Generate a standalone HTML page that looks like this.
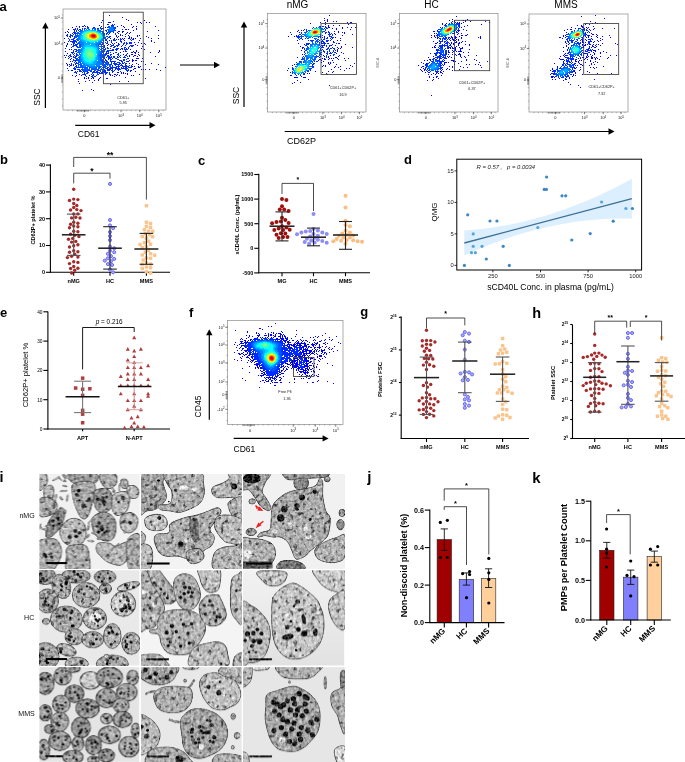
<!DOCTYPE html>
<html><head><meta charset="utf-8"><style>
html,body{margin:0;padding:0;background:#fff;}
svg{display:block;will-change:transform;font-family:"Liberation Sans", sans-serif;}
</style></head><body>
<svg width="685" height="762" viewBox="0 0 685 762">
<defs><filter id="fblur" x="-5%" y="-5%" width="110%" height="110%"><feGaussianBlur stdDeviation="0.8"/></filter></defs>
<text x="-0.6" y="10.6" font-size="13" font-weight="bold">a</text>
<rect x="63.0" y="9.0" width="103.0" height="101.0" fill="#fff" stroke="#8a8a8a" stroke-width="0.7"/>
<line x1="77.4" y1="110.0" x2="77.4" y2="111.6" stroke="#222" stroke-width="0.5"/>
<line x1="78.8" y1="110.0" x2="78.8" y2="111.6" stroke="#222" stroke-width="0.5"/>
<line x1="80.2" y1="110.0" x2="80.2" y2="111.6" stroke="#222" stroke-width="0.5"/>
<line x1="81.6" y1="110.0" x2="81.6" y2="111.6" stroke="#222" stroke-width="0.5"/>
<line x1="83.0" y1="110.0" x2="83.0" y2="111.6" stroke="#222" stroke-width="0.5"/>
<line x1="84.4" y1="110.0" x2="84.4" y2="111.6" stroke="#222" stroke-width="0.5"/>
<line x1="85.8" y1="110.0" x2="85.8" y2="111.6" stroke="#222" stroke-width="0.5"/>
<line x1="87.2" y1="110.0" x2="87.2" y2="111.6" stroke="#222" stroke-width="0.5"/>
<line x1="88.6" y1="110.0" x2="88.6" y2="111.6" stroke="#222" stroke-width="0.5"/>
<line x1="61.2" y1="75.0" x2="63.0" y2="75.0" stroke="#222" stroke-width="0.5"/>
<line x1="61.2" y1="76.2" x2="63.0" y2="76.2" stroke="#222" stroke-width="0.5"/>
<line x1="61.2" y1="77.4" x2="63.0" y2="77.4" stroke="#222" stroke-width="0.5"/>
<line x1="61.2" y1="78.6" x2="63.0" y2="78.6" stroke="#222" stroke-width="0.5"/>
<line x1="61.2" y1="79.8" x2="63.0" y2="79.8" stroke="#222" stroke-width="0.5"/>
<line x1="61.2" y1="81.0" x2="63.0" y2="81.0" stroke="#222" stroke-width="0.5"/>
<line x1="61.2" y1="82.2" x2="63.0" y2="82.2" stroke="#222" stroke-width="0.5"/>
<line x1="60.8" y1="18.0" x2="63.0" y2="18.0" stroke="#333" stroke-width="0.6"/>
<text x="60.0" y="19.3" font-size="3.9" text-anchor="end" fill="#111">10<tspan font-size="2.8" dy="-1.5">5</tspan></text>
<line x1="60.8" y1="44.0" x2="63.0" y2="44.0" stroke="#333" stroke-width="0.6"/>
<text x="60.0" y="45.3" font-size="3.9" text-anchor="end" fill="#111">10<tspan font-size="2.8" dy="-1.5">4</tspan></text>
<line x1="60.8" y1="78.0" x2="63.0" y2="78.0" stroke="#333" stroke-width="0.6"/>
<text x="60.0" y="79.3" font-size="3.9" text-anchor="end" fill="#111">0</text>
<line x1="84.4" y1="110.0" x2="84.4" y2="112.2" stroke="#333" stroke-width="0.6"/>
<text x="84.4" y="117.2" font-size="3.9" text-anchor="middle" fill="#111">0</text>
<line x1="121.0" y1="110.0" x2="121.0" y2="112.2" stroke="#333" stroke-width="0.6"/>
<text x="121.0" y="117.2" font-size="3.9" text-anchor="middle" fill="#111">10<tspan font-size="2.8" dy="-1.5">3</tspan></text>
<line x1="139.7" y1="110.0" x2="139.7" y2="112.2" stroke="#333" stroke-width="0.6"/>
<text x="139.7" y="117.2" font-size="3.9" text-anchor="middle" fill="#111">10<tspan font-size="2.8" dy="-1.5">4</tspan></text>
<line x1="158.8" y1="110.0" x2="158.8" y2="112.2" stroke="#333" stroke-width="0.6"/>
<text x="158.8" y="117.2" font-size="3.9" text-anchor="middle" fill="#111">10<tspan font-size="2.8" dy="-1.5">5</tspan></text>
<line x1="61.8" y1="15.0" x2="63.0" y2="15.0" stroke="#555" stroke-width="0.4"/>
<line x1="61.8" y1="22.0" x2="63.0" y2="22.0" stroke="#555" stroke-width="0.4"/>
<line x1="61.8" y1="29.0" x2="63.0" y2="29.0" stroke="#555" stroke-width="0.4"/>
<line x1="61.8" y1="36.0" x2="63.0" y2="36.0" stroke="#555" stroke-width="0.4"/>
<line x1="61.8" y1="43.0" x2="63.0" y2="43.0" stroke="#555" stroke-width="0.4"/>
<line x1="61.8" y1="50.0" x2="63.0" y2="50.0" stroke="#555" stroke-width="0.4"/>
<line x1="61.8" y1="57.0" x2="63.0" y2="57.0" stroke="#555" stroke-width="0.4"/>
<line x1="61.8" y1="64.0" x2="63.0" y2="64.0" stroke="#555" stroke-width="0.4"/>
<line x1="61.8" y1="71.0" x2="63.0" y2="71.0" stroke="#555" stroke-width="0.4"/>
<line x1="61.8" y1="78.0" x2="63.0" y2="78.0" stroke="#555" stroke-width="0.4"/>
<line x1="61.8" y1="85.0" x2="63.0" y2="85.0" stroke="#555" stroke-width="0.4"/>
<line x1="61.8" y1="92.0" x2="63.0" y2="92.0" stroke="#555" stroke-width="0.4"/>
<line x1="61.8" y1="99.0" x2="63.0" y2="99.0" stroke="#555" stroke-width="0.4"/>
<line x1="61.8" y1="106.0" x2="63.0" y2="106.0" stroke="#555" stroke-width="0.4"/>
<line x1="68.0" y1="110.0" x2="68.0" y2="111.2" stroke="#555" stroke-width="0.4"/>
<line x1="72.5" y1="110.0" x2="72.5" y2="111.2" stroke="#555" stroke-width="0.4"/>
<line x1="77.0" y1="110.0" x2="77.0" y2="111.2" stroke="#555" stroke-width="0.4"/>
<line x1="81.6" y1="110.0" x2="81.6" y2="111.2" stroke="#555" stroke-width="0.4"/>
<line x1="86.1" y1="110.0" x2="86.1" y2="111.2" stroke="#555" stroke-width="0.4"/>
<line x1="90.6" y1="110.0" x2="90.6" y2="111.2" stroke="#555" stroke-width="0.4"/>
<line x1="95.1" y1="110.0" x2="95.1" y2="111.2" stroke="#555" stroke-width="0.4"/>
<line x1="99.7" y1="110.0" x2="99.7" y2="111.2" stroke="#555" stroke-width="0.4"/>
<line x1="104.2" y1="110.0" x2="104.2" y2="111.2" stroke="#555" stroke-width="0.4"/>
<line x1="108.7" y1="110.0" x2="108.7" y2="111.2" stroke="#555" stroke-width="0.4"/>
<line x1="113.2" y1="110.0" x2="113.2" y2="111.2" stroke="#555" stroke-width="0.4"/>
<line x1="117.8" y1="110.0" x2="117.8" y2="111.2" stroke="#555" stroke-width="0.4"/>
<line x1="122.3" y1="110.0" x2="122.3" y2="111.2" stroke="#555" stroke-width="0.4"/>
<line x1="126.8" y1="110.0" x2="126.8" y2="111.2" stroke="#555" stroke-width="0.4"/>
<line x1="131.3" y1="110.0" x2="131.3" y2="111.2" stroke="#555" stroke-width="0.4"/>
<line x1="135.9" y1="110.0" x2="135.9" y2="111.2" stroke="#555" stroke-width="0.4"/>
<line x1="140.4" y1="110.0" x2="140.4" y2="111.2" stroke="#555" stroke-width="0.4"/>
<line x1="144.9" y1="110.0" x2="144.9" y2="111.2" stroke="#555" stroke-width="0.4"/>
<line x1="149.4" y1="110.0" x2="149.4" y2="111.2" stroke="#555" stroke-width="0.4"/>
<line x1="154.0" y1="110.0" x2="154.0" y2="111.2" stroke="#555" stroke-width="0.4"/>
<line x1="158.5" y1="110.0" x2="158.5" y2="111.2" stroke="#555" stroke-width="0.4"/>
<line x1="163.0" y1="110.0" x2="163.0" y2="111.2" stroke="#555" stroke-width="0.4"/>
<g shape-rendering="crispEdges"><path fill="#0000ff" d="M109 15h1v1h-1zM122 17h1v1h-1zM126 19h1v1h-1zM102 20h1v1h-1zM128 20h1v1h-1zM144 20h1v1h-1zM113 21h1v1h-1zM101 22h1v1h-1zM108 22h3v1h-3zM137 22h1v1h-1zM140 22h1v1h-1zM146 22h1v1h-1zM149 22h1v1h-1zM141 23h1v1h-1zM107 24h1v1h-1zM131 24h1v1h-1zM84 25h1v1h-1zM99 25h1v1h-1zM121 25h1v1h-1zM76 26h1v1h-1zM79 26h1v1h-1zM82 26h1v1h-1zM101 26h1v1h-1zM117 26h1v1h-1zM123 26h1v1h-1zM133 26h1v1h-1zM136 26h1v1h-1zM155 26h1v1h-1zM72 27h1v1h-1zM105 27h1v1h-1zM124 27h1v1h-1zM132 27h1v1h-1zM103 28h1v1h-1zM136 28h1v1h-1zM68 29h1v1h-1zM73 29h1v1h-1zM122 29h1v1h-1zM125 29h2v1h-2zM128 29h1v1h-1zM136 29h1v1h-1zM133 30h1v1h-1zM158 30h1v1h-1zM67 31h1v1h-1zM118 31h2v1h-2zM122 31h2v1h-2zM147 31h1v1h-1zM65 32h1v1h-1zM68 32h1v1h-1zM117 32h1v1h-1zM122 32h1v1h-1zM127 32h1v1h-1zM130 32h1v1h-1zM118 33h1v1h-1zM126 33h1v1h-1zM129 33h1v1h-1zM67 34h1v1h-1zM120 34h1v1h-1zM125 34h1v1h-1zM66 35h1v1h-1zM120 35h1v1h-1zM122 35h1v1h-1zM128 35h1v1h-1zM137 35h1v1h-1zM139 35h1v1h-1zM158 35h1v1h-1zM110 36h1v1h-1zM116 36h1v1h-1zM118 36h1v1h-1zM125 36h1v1h-1zM129 36h1v1h-1zM137 36h1v1h-1zM146 36h1v1h-1zM117 37h1v1h-1zM129 37h1v1h-1zM131 37h1v1h-1zM148 37h1v1h-1zM64 38h1v1h-1zM110 38h1v1h-1zM114 38h1v1h-1zM122 38h1v1h-1zM124 38h1v1h-1zM128 38h2v1h-2zM133 38h1v1h-1zM135 38h1v1h-1zM140 38h1v1h-1zM151 38h1v1h-1zM158 38h1v1h-1zM116 39h1v1h-1zM118 39h1v1h-1zM123 39h1v1h-1zM133 39h1v1h-1zM109 40h1v1h-1zM124 40h1v1h-1zM139 40h1v1h-1zM151 40h1v1h-1zM68 41h1v1h-1zM151 41h1v1h-1zM64 42h1v1h-1zM116 42h1v1h-1zM134 42h1v1h-1zM138 42h1v1h-1zM154 42h1v1h-1zM67 43h1v1h-1zM118 43h1v1h-1zM141 43h1v1h-1zM144 43h1v1h-1zM67 44h1v1h-1zM108 44h1v1h-1zM135 44h1v1h-1zM145 44h1v1h-1zM66 45h1v1h-1zM107 45h1v1h-1zM137 45h1v1h-1zM66 46h1v1h-1zM121 46h1v1h-1zM129 46h1v1h-1zM142 46h1v1h-1zM65 48h1v1h-1zM121 48h1v1h-1zM141 48h1v1h-1zM69 49h1v1h-1zM71 49h1v1h-1zM120 49h1v1h-1zM130 49h1v1h-1zM144 49h1v1h-1zM136 50h1v1h-1zM159 50h1v1h-1zM65 51h1v1h-1zM123 51h1v1h-1zM133 51h1v1h-1zM136 51h1v1h-1zM159 51h1v1h-1zM71 52h1v1h-1zM120 52h1v1h-1zM131 52h2v1h-2zM134 52h2v1h-2zM138 52h1v1h-1zM150 52h1v1h-1zM158 52h1v1h-1zM67 53h1v1h-1zM113 53h1v1h-1zM127 53h1v1h-1zM135 53h1v1h-1zM123 54h1v1h-1zM131 54h2v1h-2zM138 54h1v1h-1zM64 55h1v1h-1zM66 55h1v1h-1zM129 55h1v1h-1zM134 55h2v1h-2zM139 55h1v1h-1zM68 56h1v1h-1zM129 56h1v1h-1zM133 56h1v1h-1zM137 56h1v1h-1zM155 56h1v1h-1zM65 57h1v1h-1zM68 58h1v1h-1zM128 58h1v1h-1zM136 58h3v1h-3zM142 58h1v1h-1zM70 59h1v1h-1zM132 59h1v1h-1zM129 60h1v1h-1zM132 60h2v1h-2zM135 60h2v1h-2zM70 61h1v1h-1zM128 61h1v1h-1zM132 61h1v1h-1zM141 61h1v1h-1zM143 61h1v1h-1zM66 63h1v1h-1zM129 63h1v1h-1zM136 63h1v1h-1zM151 63h1v1h-1zM67 64h1v1h-1zM69 64h1v1h-1zM132 64h1v1h-1zM138 64h1v1h-1zM145 64h1v1h-1zM158 64h1v1h-1zM67 65h1v1h-1zM70 65h1v1h-1zM69 66h1v1h-1zM132 66h1v1h-1zM134 66h1v1h-1zM138 66h1v1h-1zM140 66h1v1h-1zM138 67h2v1h-2zM165 67h1v1h-1zM67 68h1v1h-1zM134 68h2v1h-2zM133 69h1v1h-1zM141 69h1v1h-1zM143 69h1v1h-1zM145 69h1v1h-1zM149 69h1v1h-1zM156 69h1v1h-1zM68 70h1v1h-1zM71 70h2v1h-2zM131 70h1v1h-1zM160 70h1v1h-1zM130 71h1v1h-1zM135 71h1v1h-1zM117 72h2v1h-2zM121 72h1v1h-1zM123 72h1v1h-1zM121 73h1v1h-1zM123 73h1v1h-1zM125 73h1v1h-1zM127 73h1v1h-1zM79 74h1v1h-1zM114 74h2v1h-2zM117 74h1v1h-1zM127 74h1v1h-1zM139 74h1v1h-1zM72 75h1v1h-1zM76 75h1v1h-1zM81 75h1v1h-1zM89 75h1v1h-1zM110 75h1v1h-1zM112 75h1v1h-1zM116 75h1v1h-1zM119 75h1v1h-1zM131 75h1v1h-1zM133 75h1v1h-1zM75 76h1v1h-1zM114 76h1v1h-1zM84 77h1v1h-1zM88 77h1v1h-1zM100 77h1v1h-1zM125 77h1v1h-1zM84 78h1v1h-1zM86 78h1v1h-1zM88 78h1v1h-1zM91 78h1v1h-1zM93 78h1v1h-1zM99 78h1v1h-1zM106 78h2v1h-2zM145 78h1v1h-1zM78 79h1v1h-1zM98 79h1v1h-1zM89 80h1v1h-1zM94 80h1v1h-1zM98 80h1v1h-1zM78 81h1v1h-1zM85 81h1v1h-1zM119 81h1v1h-1zM128 81h1v1h-1zM92 82h1v1h-1zM79 83h1v1h-1zM110 84h1v1h-1zM91 89h1v1h-1zM82 90h1v1h-1zM93 90h1v1h-1z"/><path fill="#002aff" d="M108 24h1v1h-1zM112 24h1v1h-1zM114 24h1v1h-1zM111 25h3v1h-3zM83 26h1v1h-1zM85 26h1v1h-1zM87 26h1v1h-1zM108 26h1v1h-1zM79 27h1v1h-1zM87 27h2v1h-2zM93 27h2v1h-2zM100 27h1v1h-1zM107 27h1v1h-1zM115 27h1v1h-1zM75 28h1v1h-1zM77 28h1v1h-1zM82 28h1v1h-1zM84 28h2v1h-2zM97 28h2v1h-2zM100 28h3v1h-3zM115 28h1v1h-1zM74 29h2v1h-2zM77 29h1v1h-1zM79 29h2v1h-2zM101 29h1v1h-1zM74 30h1v1h-1zM76 30h1v1h-1zM78 30h1v1h-1zM105 30h2v1h-2zM115 30h1v1h-1zM74 31h1v1h-1zM76 31h1v1h-1zM106 31h1v1h-1zM73 32h3v1h-3zM107 32h1v1h-1zM113 32h1v1h-1zM72 33h1v1h-1zM74 33h3v1h-3zM106 33h2v1h-2zM109 33h1v1h-1zM115 33h1v1h-1zM70 34h1v1h-1zM73 34h1v1h-1zM75 34h1v1h-1zM106 34h1v1h-1zM108 34h1v1h-1zM115 34h1v1h-1zM67 35h1v1h-1zM70 35h3v1h-3zM116 35h1v1h-1zM67 36h1v1h-1zM69 36h2v1h-2zM72 36h1v1h-1zM74 36h1v1h-1zM106 36h2v1h-2zM109 36h1v1h-1zM70 37h1v1h-1zM74 37h1v1h-1zM108 37h2v1h-2zM68 38h1v1h-1zM73 38h2v1h-2zM107 38h1v1h-1zM120 38h1v1h-1zM131 38h1v1h-1zM69 39h1v1h-1zM71 39h3v1h-3zM105 39h2v1h-2zM113 39h2v1h-2zM120 39h2v1h-2zM130 39h1v1h-1zM132 39h1v1h-1zM69 40h1v1h-1zM73 40h3v1h-3zM105 40h2v1h-2zM111 40h1v1h-1zM113 40h3v1h-3zM120 40h1v1h-1zM131 40h1v1h-1zM70 41h7v1h-7zM107 41h1v1h-1zM111 41h1v1h-1zM120 41h2v1h-2zM72 42h3v1h-3zM76 42h1v1h-1zM105 42h1v1h-1zM107 42h1v1h-1zM111 42h1v1h-1zM121 42h1v1h-1zM124 42h1v1h-1zM126 42h1v1h-1zM129 42h3v1h-3zM73 43h2v1h-2zM103 43h1v1h-1zM106 43h2v1h-2zM112 43h1v1h-1zM114 43h1v1h-1zM123 43h2v1h-2zM126 43h2v1h-2zM129 43h3v1h-3zM71 44h1v1h-1zM73 44h1v1h-1zM75 44h3v1h-3zM102 44h1v1h-1zM110 44h1v1h-1zM113 44h1v1h-1zM118 44h2v1h-2zM123 44h1v1h-1zM126 44h1v1h-1zM73 45h4v1h-4zM104 45h1v1h-1zM111 45h3v1h-3zM116 45h3v1h-3zM122 45h1v1h-1zM125 45h1v1h-1zM130 45h4v1h-4zM72 46h2v1h-2zM76 46h2v1h-2zM102 46h1v1h-1zM104 46h1v1h-1zM110 46h2v1h-2zM114 46h2v1h-2zM117 46h1v1h-1zM131 46h2v1h-2zM71 47h1v1h-1zM77 47h2v1h-2zM103 47h2v1h-2zM107 47h1v1h-1zM113 47h2v1h-2zM124 47h2v1h-2zM128 47h1v1h-1zM105 48h1v1h-1zM107 48h2v1h-2zM110 48h1v1h-1zM116 48h3v1h-3zM122 48h1v1h-1zM124 48h1v1h-1zM126 48h1v1h-1zM128 48h1v1h-1zM74 49h3v1h-3zM104 49h2v1h-2zM112 49h2v1h-2zM115 49h3v1h-3zM122 49h1v1h-1zM124 49h4v1h-4zM73 50h1v1h-1zM76 50h1v1h-1zM107 50h7v1h-7zM116 50h1v1h-1zM125 50h1v1h-1zM73 51h1v1h-1zM75 51h2v1h-2zM106 51h3v1h-3zM125 51h2v1h-2zM72 52h2v1h-2zM106 52h1v1h-1zM108 52h1v1h-1zM110 52h1v1h-1zM115 52h2v1h-2zM72 53h1v1h-1zM74 53h1v1h-1zM76 53h1v1h-1zM106 53h3v1h-3zM118 53h1v1h-1zM70 54h1v1h-1zM73 54h1v1h-1zM76 54h1v1h-1zM105 54h2v1h-2zM110 54h2v1h-2zM117 54h2v1h-2zM126 54h1v1h-1zM69 55h2v1h-2zM74 55h1v1h-1zM76 55h1v1h-1zM105 55h1v1h-1zM107 55h2v1h-2zM110 55h1v1h-1zM118 55h1v1h-1zM120 55h1v1h-1zM125 55h2v1h-2zM70 56h2v1h-2zM73 56h1v1h-1zM75 56h2v1h-2zM107 56h3v1h-3zM111 56h1v1h-1zM113 56h2v1h-2zM117 56h1v1h-1zM119 56h1v1h-1zM124 56h1v1h-1zM127 56h1v1h-1zM69 57h1v1h-1zM73 57h3v1h-3zM106 57h1v1h-1zM108 57h4v1h-4zM113 57h2v1h-2zM117 57h2v1h-2zM120 57h1v1h-1zM123 57h3v1h-3zM71 58h1v1h-1zM75 58h2v1h-2zM104 58h1v1h-1zM108 58h3v1h-3zM112 58h1v1h-1zM115 58h2v1h-2zM127 58h1v1h-1zM73 59h1v1h-1zM76 59h1v1h-1zM105 59h1v1h-1zM108 59h1v1h-1zM110 59h2v1h-2zM117 59h2v1h-2zM123 59h2v1h-2zM126 59h1v1h-1zM73 60h4v1h-4zM105 60h2v1h-2zM110 60h1v1h-1zM119 60h3v1h-3zM123 60h2v1h-2zM72 61h1v1h-1zM75 61h1v1h-1zM106 61h2v1h-2zM110 61h6v1h-6zM121 61h2v1h-2zM126 61h2v1h-2zM74 62h1v1h-1zM76 62h1v1h-1zM108 62h1v1h-1zM111 62h1v1h-1zM114 62h1v1h-1zM117 62h3v1h-3zM122 62h1v1h-1zM124 62h1v1h-1zM71 63h1v1h-1zM75 63h3v1h-3zM111 63h1v1h-1zM113 63h4v1h-4zM119 63h2v1h-2zM122 63h2v1h-2zM125 63h2v1h-2zM71 64h1v1h-1zM73 64h1v1h-1zM75 64h1v1h-1zM110 64h2v1h-2zM114 64h6v1h-6zM121 64h1v1h-1zM125 64h1v1h-1zM71 65h1v1h-1zM73 65h1v1h-1zM76 65h1v1h-1zM112 65h1v1h-1zM115 65h1v1h-1zM118 65h1v1h-1zM120 65h3v1h-3zM125 65h2v1h-2zM129 65h1v1h-1zM131 65h1v1h-1zM75 66h2v1h-2zM112 66h1v1h-1zM116 66h4v1h-4zM122 66h7v1h-7zM131 66h1v1h-1zM74 67h1v1h-1zM76 67h4v1h-4zM107 67h2v1h-2zM110 67h7v1h-7zM118 67h1v1h-1zM121 67h1v1h-1zM123 67h1v1h-1zM125 67h2v1h-2zM128 67h4v1h-4zM73 68h3v1h-3zM106 68h2v1h-2zM109 68h4v1h-4zM115 68h5v1h-5zM121 68h7v1h-7zM74 69h2v1h-2zM77 69h3v1h-3zM81 69h1v1h-1zM107 69h4v1h-4zM112 69h1v1h-1zM115 69h1v1h-1zM117 69h4v1h-4zM125 69h2v1h-2zM128 69h1v1h-1zM79 70h2v1h-2zM82 70h1v1h-1zM98 70h2v1h-2zM104 70h2v1h-2zM107 70h3v1h-3zM111 70h2v1h-2zM114 70h1v1h-1zM118 70h1v1h-1zM126 70h3v1h-3zM130 70h1v1h-1zM75 71h1v1h-1zM77 71h1v1h-1zM79 71h3v1h-3zM83 71h1v1h-1zM87 71h1v1h-1zM90 71h2v1h-2zM93 71h2v1h-2zM96 71h2v1h-2zM100 71h1v1h-1zM102 71h4v1h-4zM112 71h2v1h-2zM120 71h1v1h-1zM127 71h1v1h-1zM74 72h3v1h-3zM82 72h1v1h-1zM84 72h1v1h-1zM87 72h2v1h-2zM92 72h8v1h-8zM101 72h2v1h-2zM104 72h4v1h-4zM109 72h1v1h-1zM112 72h1v1h-1zM76 73h1v1h-1zM84 73h1v1h-1zM86 73h2v1h-2zM92 73h1v1h-1zM97 73h1v1h-1zM99 73h4v1h-4zM105 73h2v1h-2zM109 73h1v1h-1zM82 74h4v1h-4zM91 74h1v1h-1zM93 74h1v1h-1zM97 74h2v1h-2zM105 74h1v1h-1zM109 74h2v1h-2zM85 75h1v1h-1zM92 75h2v1h-2zM96 75h1v1h-1zM86 76h1v1h-1zM91 76h2v1h-2zM94 76h2v1h-2zM92 77h2v1h-2z"/><path fill="#0055ff" d="M109 26h1v1h-1zM111 26h3v1h-3zM108 27h2v1h-2zM113 27h2v1h-2zM87 28h2v1h-2zM92 28h4v1h-4zM113 28h2v1h-2zM82 29h1v1h-1zM84 29h1v1h-1zM95 29h1v1h-1zM97 29h2v1h-2zM107 29h2v1h-2zM114 29h1v1h-1zM80 30h2v1h-2zM98 30h3v1h-3zM108 30h1v1h-1zM113 30h2v1h-2zM79 31h2v1h-2zM101 31h2v1h-2zM108 31h6v1h-6zM77 32h2v1h-2zM102 32h2v1h-2zM108 32h3v1h-3zM77 33h3v1h-3zM103 33h2v1h-2zM77 34h1v1h-1zM104 34h1v1h-1zM75 35h4v1h-4zM104 35h1v1h-1zM75 36h3v1h-3zM75 37h2v1h-2zM104 37h2v1h-2zM77 38h1v1h-1zM104 38h2v1h-2zM76 39h2v1h-2zM77 40h2v1h-2zM103 40h1v1h-1zM79 41h1v1h-1zM103 41h1v1h-1zM78 42h2v1h-2zM101 42h2v1h-2zM77 43h3v1h-3zM99 43h2v1h-2zM102 43h1v1h-1zM79 44h2v1h-2zM98 44h4v1h-4zM79 45h2v1h-2zM98 45h1v1h-1zM101 45h1v1h-1zM79 46h2v1h-2zM99 46h3v1h-3zM79 47h2v1h-2zM101 47h1v1h-1zM99 48h1v1h-1zM101 48h2v1h-2zM78 49h2v1h-2zM100 49h2v1h-2zM103 49h1v1h-1zM77 50h2v1h-2zM101 50h2v1h-2zM104 50h1v1h-1zM78 51h1v1h-1zM101 51h4v1h-4zM77 52h2v1h-2zM101 52h3v1h-3zM79 53h1v1h-1zM100 53h2v1h-2zM103 53h1v1h-1zM105 53h1v1h-1zM77 54h1v1h-1zM79 54h1v1h-1zM100 54h3v1h-3zM104 54h1v1h-1zM77 55h2v1h-2zM99 55h6v1h-6zM79 56h1v1h-1zM100 56h5v1h-5zM78 57h2v1h-2zM100 57h5v1h-5zM77 58h1v1h-1zM79 58h1v1h-1zM100 58h2v1h-2zM103 58h1v1h-1zM77 59h3v1h-3zM100 59h3v1h-3zM77 60h3v1h-3zM100 60h4v1h-4zM78 61h2v1h-2zM101 61h4v1h-4zM78 62h3v1h-3zM102 62h6v1h-6zM78 63h1v1h-1zM80 63h1v1h-1zM102 63h2v1h-2zM105 63h4v1h-4zM78 64h4v1h-4zM102 64h1v1h-1zM104 64h6v1h-6zM78 65h1v1h-1zM80 65h2v1h-2zM102 65h4v1h-4zM107 65h1v1h-1zM109 65h2v1h-2zM78 66h1v1h-1zM80 66h3v1h-3zM99 66h3v1h-3zM103 66h4v1h-4zM109 66h2v1h-2zM80 67h8v1h-8zM89 67h2v1h-2zM96 67h1v1h-1zM98 67h3v1h-3zM102 67h4v1h-4zM82 68h1v1h-1zM84 68h4v1h-4zM89 68h1v1h-1zM91 68h6v1h-6zM98 68h2v1h-2zM101 68h1v1h-1zM103 68h1v1h-1zM105 68h1v1h-1zM82 69h8v1h-8zM91 69h8v1h-8zM100 69h5v1h-5zM83 70h9v1h-9zM94 70h2v1h-2zM97 70h1v1h-1zM100 70h1v1h-1zM102 70h1v1h-1zM84 71h3v1h-3z"/><path fill="#007fff" d="M110 27h3v1h-3zM109 28h4v1h-4zM86 29h1v1h-1zM88 29h2v1h-2zM92 29h1v1h-1zM94 29h1v1h-1zM109 29h5v1h-5zM82 30h1v1h-1zM84 30h1v1h-1zM97 30h1v1h-1zM109 30h4v1h-4zM81 31h2v1h-2zM99 31h2v1h-2zM80 32h2v1h-2zM80 33h1v1h-1zM102 33h1v1h-1zM79 34h2v1h-2zM103 34h1v1h-1zM79 35h1v1h-1zM103 35h1v1h-1zM78 36h2v1h-2zM104 36h1v1h-1zM78 37h2v1h-2zM103 37h1v1h-1zM78 38h2v1h-2zM103 38h1v1h-1zM78 39h2v1h-2zM102 39h1v1h-1zM80 40h1v1h-1zM102 40h1v1h-1zM80 41h2v1h-2zM100 41h2v1h-2zM80 42h4v1h-4zM98 42h3v1h-3zM80 43h4v1h-4zM96 43h3v1h-3zM81 44h3v1h-3zM95 44h3v1h-3zM81 45h2v1h-2zM96 45h2v1h-2zM81 46h2v1h-2zM97 46h2v1h-2zM82 47h1v1h-1zM98 47h1v1h-1zM81 48h1v1h-1zM98 48h1v1h-1zM80 49h2v1h-2zM98 49h1v1h-1zM79 50h3v1h-3zM99 50h1v1h-1zM79 51h2v1h-2zM99 51h2v1h-2zM79 52h2v1h-2zM98 52h3v1h-3zM98 53h2v1h-2zM80 54h1v1h-1zM98 54h2v1h-2zM80 55h1v1h-1zM98 55h1v1h-1zM80 56h1v1h-1zM98 56h2v1h-2zM80 57h1v1h-1zM98 57h2v1h-2zM80 58h1v1h-1zM98 58h2v1h-2zM80 59h2v1h-2zM98 59h2v1h-2zM80 60h2v1h-2zM98 60h2v1h-2zM80 61h2v1h-2zM97 61h4v1h-4zM82 62h1v1h-1zM97 62h5v1h-5zM81 63h3v1h-3zM96 63h6v1h-6zM83 64h2v1h-2zM95 64h7v1h-7zM82 65h7v1h-7zM96 65h4v1h-4zM83 66h3v1h-3zM87 66h12v1h-12zM91 67h5v1h-5z"/><path fill="#00aaff" d="M85 30h3v1h-3zM92 30h4v1h-4zM83 31h1v1h-1zM97 31h2v1h-2zM82 32h1v1h-1zM99 32h2v1h-2zM81 33h1v1h-1zM101 33h1v1h-1zM81 34h1v1h-1zM102 34h1v1h-1zM80 35h2v1h-2zM102 35h1v1h-1zM80 36h1v1h-1zM103 36h1v1h-1zM80 37h1v1h-1zM80 38h1v1h-1zM102 38h1v1h-1zM80 39h2v1h-2zM101 39h1v1h-1zM81 40h3v1h-3zM100 40h2v1h-2zM82 41h3v1h-3zM98 41h2v1h-2zM84 42h2v1h-2zM87 42h3v1h-3zM95 42h3v1h-3zM84 43h12v1h-12zM84 44h6v1h-6zM91 44h4v1h-4zM83 45h3v1h-3zM90 45h6v1h-6zM83 46h2v1h-2zM94 46h3v1h-3zM83 47h1v1h-1zM96 47h2v1h-2zM82 48h2v1h-2zM97 48h1v1h-1zM82 49h1v1h-1zM97 49h1v1h-1zM82 50h1v1h-1zM97 50h2v1h-2zM81 51h2v1h-2zM97 51h2v1h-2zM81 52h1v1h-1zM97 52h1v1h-1zM81 53h1v1h-1zM97 53h1v1h-1zM81 54h1v1h-1zM97 54h1v1h-1zM81 55h1v1h-1zM97 55h1v1h-1zM81 56h1v1h-1zM97 56h1v1h-1zM81 57h1v1h-1zM96 57h2v1h-2zM81 58h2v1h-2zM96 58h2v1h-2zM82 59h1v1h-1zM96 59h2v1h-2zM82 60h1v1h-1zM95 60h2v1h-2zM82 61h2v1h-2zM94 61h3v1h-3zM83 62h2v1h-2zM93 62h4v1h-4zM84 63h3v1h-3zM93 63h3v1h-3zM85 64h10v1h-10zM89 65h6v1h-6z"/><path fill="#00d4ff" d="M88 30h4v1h-4zM84 31h2v1h-2zM96 31h1v1h-1zM83 32h1v1h-1zM98 32h1v1h-1zM82 33h1v1h-1zM100 33h1v1h-1zM101 34h1v1h-1zM82 35h1v1h-1zM81 36h2v1h-2zM102 36h1v1h-1zM81 37h2v1h-2zM102 37h1v1h-1zM81 38h2v1h-2zM101 38h1v1h-1zM82 39h2v1h-2zM100 39h1v1h-1zM84 40h2v1h-2zM98 40h2v1h-2zM85 41h4v1h-4zM95 41h2v1h-2zM90 42h4v1h-4zM86 45h4v1h-4zM85 46h9v1h-9zM84 47h1v1h-1zM93 47h3v1h-3zM84 48h1v1h-1zM95 48h2v1h-2zM83 49h2v1h-2zM96 49h1v1h-1zM83 50h1v1h-1zM96 50h1v1h-1zM83 51h1v1h-1zM96 51h1v1h-1zM82 52h2v1h-2zM96 52h1v1h-1zM82 53h1v1h-1zM96 53h1v1h-1zM82 54h1v1h-1zM82 55h1v1h-1zM96 55h1v1h-1zM82 56h1v1h-1zM96 56h1v1h-1zM82 57h2v1h-2zM95 57h1v1h-1zM83 58h1v1h-1zM95 58h1v1h-1zM83 59h1v1h-1zM95 59h1v1h-1zM83 60h2v1h-2zM94 60h1v1h-1zM84 61h2v1h-2zM92 61h2v1h-2zM85 62h4v1h-4zM91 62h2v1h-2zM87 63h6v1h-6z"/><path fill="#00ffff" d="M86 31h3v1h-3zM94 31h2v1h-2zM84 32h1v1h-1zM97 32h1v1h-1zM83 33h1v1h-1zM99 33h1v1h-1zM83 34h1v1h-1zM100 34h1v1h-1zM83 35h1v1h-1zM101 35h1v1h-1zM83 36h1v1h-1zM101 36h1v1h-1zM83 37h1v1h-1zM101 37h1v1h-1zM83 38h1v1h-1zM100 38h1v1h-1zM84 39h2v1h-2zM99 39h1v1h-1zM86 40h2v1h-2zM97 40h1v1h-1zM89 41h6v1h-6zM85 47h8v1h-8zM85 48h1v1h-1zM92 48h3v1h-3zM85 49h1v1h-1zM94 49h2v1h-2zM84 50h1v1h-1zM94 50h2v1h-2zM84 51h1v1h-1zM95 51h1v1h-1zM84 52h1v1h-1zM95 52h1v1h-1zM83 53h1v1h-1zM95 53h1v1h-1zM83 54h1v1h-1zM95 54h1v1h-1zM83 55h1v1h-1zM95 55h1v1h-1zM83 56h2v1h-2zM95 56h1v1h-1zM84 57h1v1h-1zM84 58h2v1h-2zM94 58h1v1h-1zM84 59h3v1h-3zM93 59h2v1h-2zM85 60h4v1h-4zM92 60h2v1h-2zM86 61h6v1h-6zM89 62h2v1h-2z"/><path fill="#2affd4" d="M89 31h5v1h-5zM85 32h2v1h-2zM84 33h1v1h-1zM98 33h1v1h-1zM84 34h1v1h-1zM99 34h1v1h-1zM100 35h1v1h-1zM100 36h1v1h-1zM84 37h1v1h-1zM100 37h1v1h-1zM84 38h1v1h-1zM99 38h1v1h-1zM86 39h1v1h-1zM98 39h1v1h-1zM88 40h3v1h-3zM95 40h2v1h-2zM86 48h6v1h-6zM86 49h1v1h-1zM90 49h4v1h-4zM85 50h2v1h-2zM92 50h2v1h-2zM85 51h1v1h-1zM92 51h3v1h-3zM85 52h1v1h-1zM93 52h2v1h-2zM84 53h2v1h-2zM94 53h1v1h-1zM84 54h2v1h-2zM94 54h1v1h-1zM85 55h1v1h-1zM94 55h1v1h-1zM85 56h2v1h-2zM94 56h1v1h-1zM86 57h2v1h-2zM93 57h2v1h-2zM86 58h3v1h-3zM93 58h1v1h-1zM87 59h3v1h-3zM92 59h1v1h-1zM89 60h3v1h-3z"/><path fill="#55ffaa" d="M87 32h2v1h-2zM85 33h1v1h-1zM84 35h1v1h-1zM99 35h1v1h-1zM84 36h1v1h-1zM99 36h1v1h-1zM85 37h1v1h-1zM99 37h1v1h-1zM85 38h2v1h-2zM98 38h1v1h-1zM87 39h2v1h-2zM97 39h1v1h-1zM91 40h4v1h-4zM87 49h3v1h-3zM87 50h5v1h-5zM86 51h2v1h-2zM89 51h3v1h-3zM86 52h2v1h-2zM90 52h3v1h-3zM86 53h1v1h-1zM92 53h2v1h-2zM86 54h2v1h-2zM93 54h1v1h-1zM86 55h2v1h-2zM93 55h1v1h-1zM87 56h3v1h-3zM93 56h1v1h-1zM88 57h5v1h-5zM89 58h4v1h-4zM90 59h2v1h-2z"/><path fill="#7fff7f" d="M89 32h2v1h-2zM95 32h1v1h-1zM86 33h2v1h-2zM97 33h1v1h-1zM85 34h1v1h-1zM98 34h1v1h-1zM85 35h1v1h-1zM85 36h1v1h-1zM86 37h1v1h-1zM87 38h1v1h-1zM89 39h1v1h-1zM96 39h1v1h-1zM88 52h2v1h-2zM87 53h5v1h-5zM88 54h5v1h-5zM88 55h5v1h-5zM90 56h3v1h-3z"/><path fill="#aaff55" d="M91 32h4v1h-4zM88 33h1v1h-1zM96 33h1v1h-1zM86 34h1v1h-1zM86 35h1v1h-1zM98 35h1v1h-1zM86 36h1v1h-1zM98 36h1v1h-1zM87 37h1v1h-1zM98 37h1v1h-1zM88 38h1v1h-1zM97 38h1v1h-1zM90 39h3v1h-3zM95 39h1v1h-1z"/><path fill="#2affaa" d="M96 32h1v1h-1z"/><path fill="#d4ff2a" d="M89 33h1v1h-1zM87 34h1v1h-1zM97 34h1v1h-1zM87 35h1v1h-1zM87 36h1v1h-1zM88 37h1v1h-1zM89 38h1v1h-1zM93 39h2v1h-2z"/><path fill="#ffff00" d="M90 33h1v1h-1zM95 33h1v1h-1zM88 34h1v1h-1zM88 35h1v1h-1zM97 35h1v1h-1zM88 36h1v1h-1zM97 36h1v1h-1zM97 37h1v1h-1zM90 38h1v1h-1zM96 38h1v1h-1z"/><path fill="#ffd400" d="M91 33h1v1h-1zM94 33h1v1h-1zM89 34h1v1h-1zM96 34h1v1h-1zM89 37h1v1h-1zM91 38h1v1h-1zM95 38h1v1h-1z"/><path fill="#ffaa00" d="M92 33h2v1h-2zM90 34h1v1h-1zM89 35h1v1h-1zM96 35h1v1h-1zM89 36h1v1h-1zM90 37h1v1h-1zM96 37h1v1h-1zM92 38h3v1h-3z"/><path fill="#ff5500" d="M91 34h1v1h-1zM90 35h1v1h-1zM92 37h1v1h-1zM95 37h1v1h-1z"/><path fill="#ff2a00" d="M92 34h3v1h-3zM91 35h1v1h-1zM95 35h1v1h-1zM91 36h1v1h-1zM95 36h1v1h-1zM93 37h2v1h-2z"/><path fill="#ff7f00" d="M95 34h1v1h-1zM90 36h1v1h-1zM96 36h1v1h-1zM91 37h1v1h-1z"/><path fill="#d40000" d="M92 35h3v1h-3zM93 36h2v1h-2z"/><path fill="#ff0000" d="M92 36h1v1h-1z"/><path fill="#55ff7f" d="M88 51h1v1h-1z"/><path fill="#00ffd4" d="M84 55h1v1h-1zM85 57h1v1h-1z"/></g>
<rect x="103.4" y="12.2" width="39.8" height="71.5" fill="none" stroke="#444" stroke-width="0.9"/>
<text x="123.3" y="98.8" font-size="3.8" text-anchor="middle" fill="#222">CD61+</text>
<text x="123.3" y="104.4" font-size="3.8" text-anchor="middle" fill="#222">5.95</text>
<line x1="45.4" y1="108.0" x2="45.4" y2="27.5" stroke="#000" stroke-width="1.2"/>
<polygon points="42.2,28.5 48.6,28.5 45.4,22.5" fill="#000"/>
<text x="40.3" y="97.0" font-size="8.5" text-anchor="middle" transform="rotate(-90 40.3 97.0)">SSC</text>
<line x1="75.2" y1="125.3" x2="150.5" y2="125.3" stroke="#000" stroke-width="1.2"/>
<polygon points="149.5,122.1 149.5,128.5 155.5,125.3" fill="#000"/>
<text x="77.8" y="137.2" font-size="8.5">CD61</text>
<line x1="180.0" y1="65.0" x2="215.0" y2="65.0" stroke="#000" stroke-width="1.2"/>
<polygon points="214.0,61.8 214.0,68.2 220.0,65.0" fill="#000"/>
<line x1="244.0" y1="107.0" x2="244.0" y2="26.5" stroke="#000" stroke-width="1.2"/>
<polygon points="240.8,27.5 247.2,27.5 244.0,21.5" fill="#000"/>
<text x="239.0" y="95.5" font-size="8.5" text-anchor="middle" transform="rotate(-90 239.0 95.5)">SSC</text>
<rect x="267.4" y="13.6" width="98.6" height="98.4" fill="#fff" stroke="#8a8a8a" stroke-width="0.7"/>
<line x1="286.8" y1="112.0" x2="286.8" y2="113.6" stroke="#222" stroke-width="0.5"/>
<line x1="288.2" y1="112.0" x2="288.2" y2="113.6" stroke="#222" stroke-width="0.5"/>
<line x1="289.6" y1="112.0" x2="289.6" y2="113.6" stroke="#222" stroke-width="0.5"/>
<line x1="291.0" y1="112.0" x2="291.0" y2="113.6" stroke="#222" stroke-width="0.5"/>
<line x1="292.4" y1="112.0" x2="292.4" y2="113.6" stroke="#222" stroke-width="0.5"/>
<line x1="293.8" y1="112.0" x2="293.8" y2="113.6" stroke="#222" stroke-width="0.5"/>
<line x1="295.2" y1="112.0" x2="295.2" y2="113.6" stroke="#222" stroke-width="0.5"/>
<line x1="296.6" y1="112.0" x2="296.6" y2="113.6" stroke="#222" stroke-width="0.5"/>
<line x1="298.0" y1="112.0" x2="298.0" y2="113.6" stroke="#222" stroke-width="0.5"/>
<line x1="265.6" y1="76.6" x2="267.4" y2="76.6" stroke="#222" stroke-width="0.5"/>
<line x1="265.6" y1="77.8" x2="267.4" y2="77.8" stroke="#222" stroke-width="0.5"/>
<line x1="265.6" y1="79.0" x2="267.4" y2="79.0" stroke="#222" stroke-width="0.5"/>
<line x1="265.6" y1="80.2" x2="267.4" y2="80.2" stroke="#222" stroke-width="0.5"/>
<line x1="265.6" y1="81.4" x2="267.4" y2="81.4" stroke="#222" stroke-width="0.5"/>
<line x1="265.6" y1="82.6" x2="267.4" y2="82.6" stroke="#222" stroke-width="0.5"/>
<line x1="265.6" y1="83.8" x2="267.4" y2="83.8" stroke="#222" stroke-width="0.5"/>
<line x1="265.2" y1="23.6" x2="267.4" y2="23.6" stroke="#333" stroke-width="0.6"/>
<text x="264.4" y="24.9" font-size="3.9" text-anchor="end" fill="#111">10<tspan font-size="2.8" dy="-1.5">5</tspan></text>
<line x1="265.2" y1="48.1" x2="267.4" y2="48.1" stroke="#333" stroke-width="0.6"/>
<text x="264.4" y="49.4" font-size="3.9" text-anchor="end" fill="#111">10<tspan font-size="2.8" dy="-1.5">4</tspan></text>
<line x1="265.2" y1="79.6" x2="267.4" y2="79.6" stroke="#333" stroke-width="0.6"/>
<text x="264.4" y="80.9" font-size="3.9" text-anchor="end" fill="#111">0</text>
<line x1="293.8" y1="112.0" x2="293.8" y2="114.2" stroke="#333" stroke-width="0.6"/>
<text x="293.8" y="119.2" font-size="3.9" text-anchor="middle" fill="#111">0</text>
<line x1="322.9" y1="112.0" x2="322.9" y2="114.2" stroke="#333" stroke-width="0.6"/>
<text x="322.9" y="119.2" font-size="3.9" text-anchor="middle" fill="#111">10<tspan font-size="2.8" dy="-1.5">3</tspan></text>
<line x1="341.6" y1="112.0" x2="341.6" y2="114.2" stroke="#333" stroke-width="0.6"/>
<text x="341.6" y="119.2" font-size="3.9" text-anchor="middle" fill="#111">10<tspan font-size="2.8" dy="-1.5">4</tspan></text>
<line x1="359.4" y1="112.0" x2="359.4" y2="114.2" stroke="#333" stroke-width="0.6"/>
<text x="359.4" y="119.2" font-size="3.9" text-anchor="middle" fill="#111">10<tspan font-size="2.8" dy="-1.5">5</tspan></text>
<line x1="266.2" y1="19.6" x2="267.4" y2="19.6" stroke="#555" stroke-width="0.4"/>
<line x1="266.2" y1="26.4" x2="267.4" y2="26.4" stroke="#555" stroke-width="0.4"/>
<line x1="266.2" y1="33.2" x2="267.4" y2="33.2" stroke="#555" stroke-width="0.4"/>
<line x1="266.2" y1="40.0" x2="267.4" y2="40.0" stroke="#555" stroke-width="0.4"/>
<line x1="266.2" y1="46.8" x2="267.4" y2="46.8" stroke="#555" stroke-width="0.4"/>
<line x1="266.2" y1="53.6" x2="267.4" y2="53.6" stroke="#555" stroke-width="0.4"/>
<line x1="266.2" y1="60.4" x2="267.4" y2="60.4" stroke="#555" stroke-width="0.4"/>
<line x1="266.2" y1="67.2" x2="267.4" y2="67.2" stroke="#555" stroke-width="0.4"/>
<line x1="266.2" y1="74.0" x2="267.4" y2="74.0" stroke="#555" stroke-width="0.4"/>
<line x1="266.2" y1="80.8" x2="267.4" y2="80.8" stroke="#555" stroke-width="0.4"/>
<line x1="266.2" y1="87.6" x2="267.4" y2="87.6" stroke="#555" stroke-width="0.4"/>
<line x1="266.2" y1="94.4" x2="267.4" y2="94.4" stroke="#555" stroke-width="0.4"/>
<line x1="266.2" y1="101.2" x2="267.4" y2="101.2" stroke="#555" stroke-width="0.4"/>
<line x1="266.2" y1="108.0" x2="267.4" y2="108.0" stroke="#555" stroke-width="0.4"/>
<line x1="272.4" y1="112.0" x2="272.4" y2="113.2" stroke="#555" stroke-width="0.4"/>
<line x1="276.7" y1="112.0" x2="276.7" y2="113.2" stroke="#555" stroke-width="0.4"/>
<line x1="281.0" y1="112.0" x2="281.0" y2="113.2" stroke="#555" stroke-width="0.4"/>
<line x1="285.3" y1="112.0" x2="285.3" y2="113.2" stroke="#555" stroke-width="0.4"/>
<line x1="289.7" y1="112.0" x2="289.7" y2="113.2" stroke="#555" stroke-width="0.4"/>
<line x1="294.0" y1="112.0" x2="294.0" y2="113.2" stroke="#555" stroke-width="0.4"/>
<line x1="298.3" y1="112.0" x2="298.3" y2="113.2" stroke="#555" stroke-width="0.4"/>
<line x1="302.6" y1="112.0" x2="302.6" y2="113.2" stroke="#555" stroke-width="0.4"/>
<line x1="306.9" y1="112.0" x2="306.9" y2="113.2" stroke="#555" stroke-width="0.4"/>
<line x1="311.2" y1="112.0" x2="311.2" y2="113.2" stroke="#555" stroke-width="0.4"/>
<line x1="315.5" y1="112.0" x2="315.5" y2="113.2" stroke="#555" stroke-width="0.4"/>
<line x1="319.9" y1="112.0" x2="319.9" y2="113.2" stroke="#555" stroke-width="0.4"/>
<line x1="324.2" y1="112.0" x2="324.2" y2="113.2" stroke="#555" stroke-width="0.4"/>
<line x1="328.5" y1="112.0" x2="328.5" y2="113.2" stroke="#555" stroke-width="0.4"/>
<line x1="332.8" y1="112.0" x2="332.8" y2="113.2" stroke="#555" stroke-width="0.4"/>
<line x1="337.1" y1="112.0" x2="337.1" y2="113.2" stroke="#555" stroke-width="0.4"/>
<line x1="341.4" y1="112.0" x2="341.4" y2="113.2" stroke="#555" stroke-width="0.4"/>
<line x1="345.7" y1="112.0" x2="345.7" y2="113.2" stroke="#555" stroke-width="0.4"/>
<line x1="350.1" y1="112.0" x2="350.1" y2="113.2" stroke="#555" stroke-width="0.4"/>
<line x1="354.4" y1="112.0" x2="354.4" y2="113.2" stroke="#555" stroke-width="0.4"/>
<line x1="358.7" y1="112.0" x2="358.7" y2="113.2" stroke="#555" stroke-width="0.4"/>
<line x1="363.0" y1="112.0" x2="363.0" y2="113.2" stroke="#555" stroke-width="0.4"/>
<g shape-rendering="crispEdges"><path fill="#0000ff" d="M329 15h1v1h-1zM324 18h1v1h-1zM327 19h1v1h-1zM324 20h1v1h-1zM327 20h1v1h-1zM327 21h1v1h-1zM333 21h1v1h-1zM336 21h1v1h-1zM320 22h1v1h-1zM325 22h1v1h-1zM347 22h1v1h-1zM350 22h2v1h-2zM310 23h1v1h-1zM325 24h1v1h-1zM348 24h1v1h-1zM328 25h1v1h-1zM333 25h1v1h-1zM339 25h1v1h-1zM328 26h1v1h-1zM328 27h2v1h-2zM342 27h1v1h-1zM347 27h1v1h-1zM351 27h1v1h-1zM355 27h1v1h-1zM332 28h1v1h-1zM336 28h1v1h-1zM342 28h1v1h-1zM304 29h1v1h-1zM336 29h1v1h-1zM350 29h1v1h-1zM298 30h1v1h-1zM301 30h1v1h-1zM297 31h1v1h-1zM334 31h1v1h-1zM338 31h1v1h-1zM290 32h1v1h-1zM299 32h1v1h-1zM338 32h1v1h-1zM342 32h1v1h-1zM344 32h1v1h-1zM325 33h1v1h-1zM334 33h1v1h-1zM344 33h1v1h-1zM291 34h1v1h-1zM335 34h1v1h-1zM352 34h1v1h-1zM296 35h1v1h-1zM342 35h1v1h-1zM288 36h1v1h-1zM294 36h1v1h-1zM324 36h1v1h-1zM335 37h1v1h-1zM340 38h1v1h-1zM302 39h1v1h-1zM297 40h1v1h-1zM337 40h1v1h-1zM340 40h1v1h-1zM333 41h1v1h-1zM298 43h1v1h-1zM328 43h1v1h-1zM338 43h2v1h-2zM304 44h1v1h-1zM332 44h1v1h-1zM345 44h1v1h-1zM331 45h1v1h-1zM335 45h1v1h-1zM300 46h1v1h-1zM341 46h1v1h-1zM302 47h2v1h-2zM337 47h1v1h-1zM341 47h1v1h-1zM352 47h1v1h-1zM302 48h1v1h-1zM338 48h1v1h-1zM340 48h1v1h-1zM337 49h1v1h-1zM301 50h1v1h-1zM337 50h1v1h-1zM337 51h1v1h-1zM335 52h1v1h-1zM341 52h1v1h-1zM336 53h1v1h-1zM343 53h1v1h-1zM302 54h1v1h-1zM323 55h1v1h-1zM330 55h1v1h-1zM339 55h1v1h-1zM324 56h1v1h-1zM328 56h1v1h-1zM338 56h1v1h-1zM297 57h1v1h-1zM328 57h1v1h-1zM335 57h2v1h-2zM322 58h1v1h-1zM324 58h1v1h-1zM329 58h1v1h-1zM331 58h1v1h-1zM333 58h1v1h-1zM337 58h1v1h-1zM344 58h1v1h-1zM348 58h1v1h-1zM319 59h2v1h-2zM324 59h2v1h-2zM328 59h1v1h-1zM338 59h1v1h-1zM318 60h1v1h-1zM321 60h1v1h-1zM332 60h1v1h-1zM345 60h1v1h-1zM323 61h1v1h-1zM321 62h1v1h-1zM328 62h1v1h-1zM330 62h1v1h-1zM333 62h1v1h-1zM328 63h1v1h-1zM330 63h1v1h-1zM354 63h1v1h-1zM294 64h1v1h-1zM329 64h1v1h-1zM336 64h1v1h-1zM292 65h1v1h-1zM323 65h1v1h-1zM325 65h1v1h-1zM350 65h1v1h-1zM322 66h1v1h-1zM325 66h1v1h-1zM335 66h1v1h-1zM340 66h1v1h-1zM352 66h1v1h-1zM334 67h1v1h-1zM338 67h1v1h-1zM288 68h1v1h-1zM346 68h1v1h-1zM349 68h1v1h-1zM331 69h1v1h-1zM340 69h1v1h-1zM287 70h1v1h-1zM344 70h1v1h-1zM315 71h1v1h-1zM328 71h1v1h-1zM333 71h1v1h-1zM322 72h1v1h-1zM332 72h1v1h-1zM307 73h1v1h-1zM309 73h1v1h-1zM326 73h1v1h-1zM327 74h1v1h-1zM290 75h2v1h-2zM301 76h1v1h-1zM294 77h4v1h-4zM303 77h3v1h-3zM308 79h1v1h-1zM297 80h1v1h-1zM294 82h1v1h-1zM300 82h1v1h-1zM292 83h1v1h-1zM329 85h1v1h-1z"/><path fill="#002aff" d="M319 26h2v1h-2zM322 26h2v1h-2zM325 26h1v1h-1zM313 27h1v1h-1zM325 27h2v1h-2zM324 28h1v1h-1zM326 28h2v1h-2zM306 29h1v1h-1zM325 29h1v1h-1zM303 30h1v1h-1zM306 30h1v1h-1zM325 30h1v1h-1zM324 31h1v1h-1zM328 31h1v1h-1zM301 32h1v1h-1zM325 32h2v1h-2zM328 32h2v1h-2zM301 33h1v1h-1zM329 33h1v1h-1zM331 33h1v1h-1zM299 34h2v1h-2zM328 34h3v1h-3zM332 34h1v1h-1zM298 35h1v1h-1zM322 35h1v1h-1zM329 35h1v1h-1zM332 35h1v1h-1zM296 36h3v1h-3zM320 36h1v1h-1zM329 36h3v1h-3zM297 37h3v1h-3zM301 37h1v1h-1zM318 37h1v1h-1zM320 37h1v1h-1zM322 37h1v1h-1zM324 37h1v1h-1zM327 37h1v1h-1zM331 37h3v1h-3zM298 38h1v1h-1zM300 38h2v1h-2zM305 38h1v1h-1zM307 38h1v1h-1zM314 38h1v1h-1zM324 38h1v1h-1zM326 38h2v1h-2zM330 38h1v1h-1zM332 38h1v1h-1zM299 39h1v1h-1zM318 39h1v1h-1zM321 39h1v1h-1zM323 39h2v1h-2zM331 39h1v1h-1zM308 40h1v1h-1zM310 40h4v1h-4zM319 40h1v1h-1zM322 40h1v1h-1zM326 40h3v1h-3zM330 40h1v1h-1zM321 41h3v1h-3zM326 41h2v1h-2zM319 42h1v1h-1zM321 42h1v1h-1zM323 42h2v1h-2zM333 42h2v1h-2zM306 43h4v1h-4zM321 43h5v1h-5zM327 43h1v1h-1zM336 43h1v1h-1zM306 44h3v1h-3zM324 44h1v1h-1zM305 45h2v1h-2zM321 45h4v1h-4zM326 45h1v1h-1zM329 45h2v1h-2zM307 46h1v1h-1zM322 46h1v1h-1zM326 46h1v1h-1zM329 46h1v1h-1zM321 47h3v1h-3zM328 47h1v1h-1zM332 47h1v1h-1zM304 48h1v1h-1zM327 48h2v1h-2zM330 48h2v1h-2zM333 48h2v1h-2zM304 49h1v1h-1zM322 49h1v1h-1zM326 49h2v1h-2zM329 49h1v1h-1zM334 49h1v1h-1zM305 50h1v1h-1zM323 50h1v1h-1zM329 50h1v1h-1zM333 50h1v1h-1zM335 50h1v1h-1zM304 51h1v1h-1zM323 51h2v1h-2zM327 51h1v1h-1zM329 51h1v1h-1zM333 51h1v1h-1zM304 52h1v1h-1zM324 52h1v1h-1zM327 52h1v1h-1zM330 52h1v1h-1zM332 52h1v1h-1zM334 52h1v1h-1zM305 53h1v1h-1zM326 53h2v1h-2zM329 53h3v1h-3zM304 54h1v1h-1zM321 54h1v1h-1zM327 54h1v1h-1zM333 54h2v1h-2zM319 55h1v1h-1zM326 55h1v1h-1zM333 55h1v1h-1zM303 56h1v1h-1zM317 56h2v1h-2zM320 56h1v1h-1zM326 56h1v1h-1zM302 57h1v1h-1zM319 57h1v1h-1zM326 57h1v1h-1zM302 58h1v1h-1zM301 59h2v1h-2zM299 61h2v1h-2zM314 61h1v1h-1zM316 61h2v1h-2zM296 62h1v1h-1zM313 63h2v1h-2zM296 64h1v1h-1zM312 64h2v1h-2zM312 65h1v1h-1zM312 66h2v1h-2zM292 67h1v1h-1zM312 67h2v1h-2zM292 68h1v1h-1zM311 68h1v1h-1zM292 69h1v1h-1zM310 69h1v1h-1zM310 70h1v1h-1zM307 71h2v1h-2zM290 72h1v1h-1zM292 73h1v1h-1zM304 73h1v1h-1zM295 74h1v1h-1zM303 74h2v1h-2zM296 75h1v1h-1zM300 75h1v1h-1z"/><path fill="#0055ff" d="M316 27h1v1h-1zM320 27h1v1h-1zM312 28h1v1h-1zM322 28h1v1h-1zM323 29h1v1h-1zM308 30h2v1h-2zM306 31h2v1h-2zM323 31h1v1h-1zM304 32h2v1h-2zM322 32h1v1h-1zM302 34h1v1h-1zM301 35h1v1h-1zM320 35h1v1h-1zM299 36h5v1h-5zM318 36h2v1h-2zM306 37h1v1h-1zM312 37h1v1h-1zM308 38h1v1h-1zM315 38h2v1h-2zM315 39h1v1h-1zM317 39h1v1h-1zM316 40h2v1h-2zM311 41h2v1h-2zM315 41h4v1h-4zM312 42h1v1h-1zM315 42h1v1h-1zM317 42h1v1h-1zM312 43h1v1h-1zM319 43h1v1h-1zM310 44h1v1h-1zM319 44h1v1h-1zM319 45h1v1h-1zM320 46h1v1h-1zM307 47h2v1h-2zM319 47h1v1h-1zM306 48h2v1h-2zM320 48h1v1h-1zM306 49h2v1h-2zM320 49h1v1h-1zM306 50h1v1h-1zM320 50h2v1h-2zM320 52h2v1h-2zM319 53h2v1h-2zM319 54h2v1h-2zM305 55h1v1h-1zM316 55h1v1h-1zM305 56h1v1h-1zM315 56h2v1h-2zM304 57h1v1h-1zM315 57h2v1h-2zM303 58h2v1h-2zM306 58h2v1h-2zM314 58h2v1h-2zM303 59h2v1h-2zM313 59h3v1h-3zM304 60h1v1h-1zM313 60h2v1h-2zM301 61h1v1h-1zM303 61h1v1h-1zM311 61h2v1h-2zM299 62h3v1h-3zM303 62h1v1h-1zM312 62h1v1h-1zM297 63h2v1h-2zM311 63h1v1h-1zM297 64h1v1h-1zM295 66h1v1h-1zM310 66h2v1h-2zM293 68h1v1h-1zM309 68h2v1h-2zM293 69h1v1h-1zM309 69h1v1h-1zM307 70h2v1h-2zM292 71h1v1h-1zM292 72h1v1h-1zM305 72h1v1h-1zM294 73h1v1h-1zM303 73h1v1h-1zM298 74h1v1h-1zM300 74h1v1h-1z"/><path fill="#007fff" d="M318 27h2v1h-2zM321 28h1v1h-1zM322 29h1v1h-1zM310 30h1v1h-1zM322 31h1v1h-1zM306 32h1v1h-1zM305 33h1v1h-1zM303 34h2v1h-2zM320 34h1v1h-1zM304 35h2v1h-2zM305 36h3v1h-3zM314 36h4v1h-4zM308 37h3v1h-3zM313 43h1v1h-1zM315 43h2v1h-2zM311 44h8v1h-8zM310 45h2v1h-2zM318 45h1v1h-1zM310 46h1v1h-1zM308 48h1v1h-1zM318 48h1v1h-1zM308 49h1v1h-1zM319 50h1v1h-1zM307 51h1v1h-1zM318 51h2v1h-2zM307 52h1v1h-1zM319 52h1v1h-1zM307 53h1v1h-1zM316 53h2v1h-2zM314 54h2v1h-2zM306 55h2v1h-2zM313 55h1v1h-1zM306 56h3v1h-3zM312 56h3v1h-3zM306 57h7v1h-7zM314 57h1v1h-1zM308 58h1v1h-1zM310 58h3v1h-3zM306 59h2v1h-2zM310 59h1v1h-1zM312 59h1v1h-1zM305 60h2v1h-2zM308 60h4v1h-4zM304 61h2v1h-2zM310 61h1v1h-1zM304 62h2v1h-2zM310 62h1v1h-1zM299 63h1v1h-1zM301 63h1v1h-1zM310 63h1v1h-1zM298 64h1v1h-1zM309 64h1v1h-1zM297 65h1v1h-1zM296 66h1v1h-1zM309 66h1v1h-1zM308 68h1v1h-1zM293 70h1v1h-1zM306 70h1v1h-1zM304 71h2v1h-2zM293 72h2v1h-2zM302 72h2v1h-2zM295 73h1v1h-1zM301 73h1v1h-1z"/><path fill="#00aaff" d="M314 28h1v1h-1zM319 28h2v1h-2zM321 29h1v1h-1zM309 31h1v1h-1zM308 32h1v1h-1zM307 33h1v1h-1zM305 34h2v1h-2zM306 35h2v1h-2zM308 36h4v1h-4zM313 36h1v1h-1zM312 45h1v1h-1zM314 45h2v1h-2zM317 45h1v1h-1zM311 46h2v1h-2zM318 46h1v1h-1zM310 47h1v1h-1zM318 47h1v1h-1zM309 48h1v1h-1zM317 49h1v1h-1zM309 50h1v1h-1zM317 50h1v1h-1zM309 51h1v1h-1zM317 51h1v1h-1zM308 52h1v1h-1zM316 52h1v1h-1zM314 53h2v1h-2zM308 54h1v1h-1zM308 55h5v1h-5zM309 56h3v1h-3zM306 61h4v1h-4zM306 62h4v1h-4zM305 63h2v1h-2zM308 63h2v1h-2zM299 64h1v1h-1zM302 64h4v1h-4zM308 64h1v1h-1zM308 65h1v1h-1zM297 66h1v1h-1zM308 66h1v1h-1zM308 67h1v1h-1zM295 68h1v1h-1zM307 68h1v1h-1zM306 69h1v1h-1zM294 70h1v1h-1zM305 70h1v1h-1zM294 71h1v1h-1zM295 72h1v1h-1zM301 72h1v1h-1zM297 73h3v1h-3z"/><path fill="#00d4ff" d="M315 28h3v1h-3zM320 29h1v1h-1zM321 30h1v1h-1zM321 31h1v1h-1zM320 33h1v1h-1zM307 34h1v1h-1zM319 34h1v1h-1zM308 35h1v1h-1zM317 35h1v1h-1zM313 46h5v1h-5zM312 47h1v1h-1zM317 47h1v1h-1zM310 48h2v1h-2zM317 48h1v1h-1zM310 49h1v1h-1zM310 50h1v1h-1zM310 51h1v1h-1zM316 51h1v1h-1zM309 52h1v1h-1zM315 52h1v1h-1zM309 53h2v1h-2zM313 53h1v1h-1zM309 54h1v1h-1zM311 54h2v1h-2zM300 64h2v1h-2zM306 64h2v1h-2zM298 65h1v1h-1zM307 65h1v1h-1zM307 66h1v1h-1zM296 67h1v1h-1zM307 67h1v1h-1zM306 68h1v1h-1zM305 69h1v1h-1zM302 71h1v1h-1zM296 72h1v1h-1zM300 72h1v1h-1z"/><path fill="#2affd4" d="M313 29h1v1h-1zM319 29h1v1h-1zM320 30h1v1h-1zM320 31h1v1h-1zM320 32h1v1h-1zM309 33h1v1h-1zM309 34h1v1h-1zM318 34h1v1h-1zM310 35h3v1h-3zM313 48h3v1h-3zM312 49h1v1h-1zM315 49h1v1h-1zM315 50h1v1h-1zM312 51h1v1h-1zM314 51h1v1h-1zM301 65h1v1h-1zM299 66h1v1h-1zM304 66h2v1h-2zM305 67h1v1h-1zM296 68h1v1h-1zM302 70h1v1h-1zM298 72h2v1h-2z"/><path fill="#55ffaa" d="M314 29h1v1h-1zM318 29h1v1h-1zM310 32h1v1h-1zM310 34h1v1h-1zM317 34h1v1h-1zM313 49h2v1h-2zM313 50h2v1h-2zM313 51h1v1h-1zM303 66h1v1h-1zM298 67h1v1h-1zM304 67h1v1h-1zM304 68h1v1h-1zM303 69h1v1h-1zM296 71h1v1h-1zM300 71h1v1h-1z"/><path fill="#7fff7f" d="M315 29h3v1h-3zM312 30h1v1h-1zM319 30h1v1h-1zM311 31h1v1h-1zM310 33h1v1h-1zM311 34h1v1h-1zM316 34h1v1h-1zM301 66h2v1h-2zM299 67h1v1h-1zM303 67h1v1h-1zM297 68h1v1h-1zM303 68h1v1h-1zM296 69h1v1h-1zM302 69h1v1h-1zM296 70h1v1h-1zM301 70h1v1h-1zM297 71h1v1h-1z"/><path fill="#00ffff" d="M311 30h1v1h-1zM309 32h1v1h-1zM308 33h1v1h-1zM308 34h1v1h-1zM309 35h1v1h-1zM314 35h3v1h-3zM313 47h1v1h-1zM316 47h1v1h-1zM312 48h1v1h-1zM316 48h1v1h-1zM311 49h1v1h-1zM316 49h1v1h-1zM311 50h1v1h-1zM311 51h1v1h-1zM315 51h1v1h-1zM311 52h3v1h-3zM311 53h2v1h-2zM299 65h2v1h-2zM302 65h2v1h-2zM305 65h2v1h-2zM306 66h1v1h-1zM305 68h1v1h-1zM295 69h1v1h-1zM304 69h1v1h-1zM295 70h1v1h-1zM295 71h1v1h-1z"/><path fill="#ffff00" d="M313 30h1v1h-1zM318 32h1v1h-1zM317 33h1v1h-1zM300 68h2v1h-2zM298 70h2v1h-2z"/><path fill="#ffaa00" d="M314 30h3v1h-3zM312 32h1v1h-1zM316 33h1v1h-1z"/><path fill="#ffd400" d="M317 30h1v1h-1zM312 31h1v1h-1zM318 31h1v1h-1zM312 33h1v1h-1zM298 69h2v1h-2z"/><path fill="#d4ff2a" d="M318 30h1v1h-1zM311 32h1v1h-1zM311 33h1v1h-1zM313 34h2v1h-2zM301 67h1v1h-1zM298 68h2v1h-2zM302 68h1v1h-1zM297 69h1v1h-1zM301 69h1v1h-1zM297 70h1v1h-1z"/><path fill="#ff5500" d="M313 31h1v1h-1zM314 33h1v1h-1z"/><path fill="#ff0000" d="M314 31h2v1h-2zM313 32h1v1h-1z"/><path fill="#ff2a00" d="M316 31h1v1h-1zM316 32h1v1h-1z"/><path fill="#ff7f00" d="M317 31h1v1h-1zM317 32h1v1h-1zM313 33h1v1h-1zM315 33h1v1h-1z"/><path fill="#aaff55" d="M319 31h1v1h-1zM319 32h1v1h-1zM318 33h1v1h-1zM312 34h1v1h-1zM315 34h1v1h-1zM300 67h1v1h-1zM302 67h1v1h-1zM300 70h1v1h-1zM298 71h2v1h-2z"/><path fill="#d40000" d="M314 32h2v1h-2z"/></g>
<rect x="321.0" y="23.6" width="35.5" height="50.8" fill="none" stroke="#333" stroke-width="0.8"/>
<text x="343.0" y="89.3" font-size="3.8" text-anchor="middle" fill="#222">CD61+CD62P+</text>
<text x="343.0" y="95.5" font-size="3.8" text-anchor="middle" fill="#222">16.9</text>
<text x="297.5" y="7.6" font-size="10" text-anchor="middle">nMG</text>
<rect x="399.4" y="13.6" width="98.6" height="98.4" fill="#fff" stroke="#8a8a8a" stroke-width="0.7"/>
<line x1="418.8" y1="112.0" x2="418.8" y2="113.6" stroke="#222" stroke-width="0.5"/>
<line x1="420.2" y1="112.0" x2="420.2" y2="113.6" stroke="#222" stroke-width="0.5"/>
<line x1="421.6" y1="112.0" x2="421.6" y2="113.6" stroke="#222" stroke-width="0.5"/>
<line x1="423.0" y1="112.0" x2="423.0" y2="113.6" stroke="#222" stroke-width="0.5"/>
<line x1="424.4" y1="112.0" x2="424.4" y2="113.6" stroke="#222" stroke-width="0.5"/>
<line x1="425.8" y1="112.0" x2="425.8" y2="113.6" stroke="#222" stroke-width="0.5"/>
<line x1="427.2" y1="112.0" x2="427.2" y2="113.6" stroke="#222" stroke-width="0.5"/>
<line x1="428.6" y1="112.0" x2="428.6" y2="113.6" stroke="#222" stroke-width="0.5"/>
<line x1="430.0" y1="112.0" x2="430.0" y2="113.6" stroke="#222" stroke-width="0.5"/>
<line x1="397.6" y1="76.6" x2="399.4" y2="76.6" stroke="#222" stroke-width="0.5"/>
<line x1="397.6" y1="77.8" x2="399.4" y2="77.8" stroke="#222" stroke-width="0.5"/>
<line x1="397.6" y1="79.0" x2="399.4" y2="79.0" stroke="#222" stroke-width="0.5"/>
<line x1="397.6" y1="80.2" x2="399.4" y2="80.2" stroke="#222" stroke-width="0.5"/>
<line x1="397.6" y1="81.4" x2="399.4" y2="81.4" stroke="#222" stroke-width="0.5"/>
<line x1="397.6" y1="82.6" x2="399.4" y2="82.6" stroke="#222" stroke-width="0.5"/>
<line x1="397.6" y1="83.8" x2="399.4" y2="83.8" stroke="#222" stroke-width="0.5"/>
<line x1="397.2" y1="23.6" x2="399.4" y2="23.6" stroke="#333" stroke-width="0.6"/>
<text x="396.4" y="24.9" font-size="3.9" text-anchor="end" fill="#111">10<tspan font-size="2.8" dy="-1.5">5</tspan></text>
<line x1="397.2" y1="48.1" x2="399.4" y2="48.1" stroke="#333" stroke-width="0.6"/>
<text x="396.4" y="49.4" font-size="3.9" text-anchor="end" fill="#111">10<tspan font-size="2.8" dy="-1.5">4</tspan></text>
<line x1="397.2" y1="79.6" x2="399.4" y2="79.6" stroke="#333" stroke-width="0.6"/>
<text x="396.4" y="80.9" font-size="3.9" text-anchor="end" fill="#111">0</text>
<line x1="425.8" y1="112.0" x2="425.8" y2="114.2" stroke="#333" stroke-width="0.6"/>
<text x="425.8" y="119.2" font-size="3.9" text-anchor="middle" fill="#111">0</text>
<line x1="454.9" y1="112.0" x2="454.9" y2="114.2" stroke="#333" stroke-width="0.6"/>
<text x="454.9" y="119.2" font-size="3.9" text-anchor="middle" fill="#111">10<tspan font-size="2.8" dy="-1.5">3</tspan></text>
<line x1="473.6" y1="112.0" x2="473.6" y2="114.2" stroke="#333" stroke-width="0.6"/>
<text x="473.6" y="119.2" font-size="3.9" text-anchor="middle" fill="#111">10<tspan font-size="2.8" dy="-1.5">4</tspan></text>
<line x1="491.4" y1="112.0" x2="491.4" y2="114.2" stroke="#333" stroke-width="0.6"/>
<text x="491.4" y="119.2" font-size="3.9" text-anchor="middle" fill="#111">10<tspan font-size="2.8" dy="-1.5">5</tspan></text>
<line x1="398.2" y1="19.6" x2="399.4" y2="19.6" stroke="#555" stroke-width="0.4"/>
<line x1="398.2" y1="26.4" x2="399.4" y2="26.4" stroke="#555" stroke-width="0.4"/>
<line x1="398.2" y1="33.2" x2="399.4" y2="33.2" stroke="#555" stroke-width="0.4"/>
<line x1="398.2" y1="40.0" x2="399.4" y2="40.0" stroke="#555" stroke-width="0.4"/>
<line x1="398.2" y1="46.8" x2="399.4" y2="46.8" stroke="#555" stroke-width="0.4"/>
<line x1="398.2" y1="53.6" x2="399.4" y2="53.6" stroke="#555" stroke-width="0.4"/>
<line x1="398.2" y1="60.4" x2="399.4" y2="60.4" stroke="#555" stroke-width="0.4"/>
<line x1="398.2" y1="67.2" x2="399.4" y2="67.2" stroke="#555" stroke-width="0.4"/>
<line x1="398.2" y1="74.0" x2="399.4" y2="74.0" stroke="#555" stroke-width="0.4"/>
<line x1="398.2" y1="80.8" x2="399.4" y2="80.8" stroke="#555" stroke-width="0.4"/>
<line x1="398.2" y1="87.6" x2="399.4" y2="87.6" stroke="#555" stroke-width="0.4"/>
<line x1="398.2" y1="94.4" x2="399.4" y2="94.4" stroke="#555" stroke-width="0.4"/>
<line x1="398.2" y1="101.2" x2="399.4" y2="101.2" stroke="#555" stroke-width="0.4"/>
<line x1="398.2" y1="108.0" x2="399.4" y2="108.0" stroke="#555" stroke-width="0.4"/>
<line x1="404.4" y1="112.0" x2="404.4" y2="113.2" stroke="#555" stroke-width="0.4"/>
<line x1="408.7" y1="112.0" x2="408.7" y2="113.2" stroke="#555" stroke-width="0.4"/>
<line x1="413.0" y1="112.0" x2="413.0" y2="113.2" stroke="#555" stroke-width="0.4"/>
<line x1="417.3" y1="112.0" x2="417.3" y2="113.2" stroke="#555" stroke-width="0.4"/>
<line x1="421.7" y1="112.0" x2="421.7" y2="113.2" stroke="#555" stroke-width="0.4"/>
<line x1="426.0" y1="112.0" x2="426.0" y2="113.2" stroke="#555" stroke-width="0.4"/>
<line x1="430.3" y1="112.0" x2="430.3" y2="113.2" stroke="#555" stroke-width="0.4"/>
<line x1="434.6" y1="112.0" x2="434.6" y2="113.2" stroke="#555" stroke-width="0.4"/>
<line x1="438.9" y1="112.0" x2="438.9" y2="113.2" stroke="#555" stroke-width="0.4"/>
<line x1="443.2" y1="112.0" x2="443.2" y2="113.2" stroke="#555" stroke-width="0.4"/>
<line x1="447.5" y1="112.0" x2="447.5" y2="113.2" stroke="#555" stroke-width="0.4"/>
<line x1="451.9" y1="112.0" x2="451.9" y2="113.2" stroke="#555" stroke-width="0.4"/>
<line x1="456.2" y1="112.0" x2="456.2" y2="113.2" stroke="#555" stroke-width="0.4"/>
<line x1="460.5" y1="112.0" x2="460.5" y2="113.2" stroke="#555" stroke-width="0.4"/>
<line x1="464.8" y1="112.0" x2="464.8" y2="113.2" stroke="#555" stroke-width="0.4"/>
<line x1="469.1" y1="112.0" x2="469.1" y2="113.2" stroke="#555" stroke-width="0.4"/>
<line x1="473.4" y1="112.0" x2="473.4" y2="113.2" stroke="#555" stroke-width="0.4"/>
<line x1="477.7" y1="112.0" x2="477.7" y2="113.2" stroke="#555" stroke-width="0.4"/>
<line x1="482.1" y1="112.0" x2="482.1" y2="113.2" stroke="#555" stroke-width="0.4"/>
<line x1="486.4" y1="112.0" x2="486.4" y2="113.2" stroke="#555" stroke-width="0.4"/>
<line x1="490.7" y1="112.0" x2="490.7" y2="113.2" stroke="#555" stroke-width="0.4"/>
<line x1="495.0" y1="112.0" x2="495.0" y2="113.2" stroke="#555" stroke-width="0.4"/>
<g shape-rendering="crispEdges"><path fill="#0000ff" d="M456 16h1v1h-1zM452 19h1v1h-1zM467 19h1v1h-1zM449 20h1v1h-1zM463 20h1v1h-1zM465 20h1v1h-1zM452 21h1v1h-1zM454 21h1v1h-1zM465 21h1v1h-1zM470 21h1v1h-1zM485 21h1v1h-1zM459 22h1v1h-1zM463 22h1v1h-1zM489 22h1v1h-1zM442 23h1v1h-1zM446 23h1v1h-1zM459 23h1v1h-1zM461 23h1v1h-1zM442 24h1v1h-1zM445 24h1v1h-1zM481 24h1v1h-1zM467 25h1v1h-1zM464 26h1v1h-1zM461 27h1v1h-1zM463 29h1v1h-1zM437 30h1v1h-1zM458 30h2v1h-2zM466 30h1v1h-1zM433 31h2v1h-2zM458 31h1v1h-1zM457 32h1v1h-1zM434 33h1v1h-1zM458 33h1v1h-1zM461 33h1v1h-1zM457 34h1v1h-1zM467 34h1v1h-1zM431 35h1v1h-1zM434 35h1v1h-1zM461 35h2v1h-2zM465 35h2v1h-2zM434 36h1v1h-1zM451 36h1v1h-1zM455 36h1v1h-1zM459 36h1v1h-1zM480 36h1v1h-1zM431 37h1v1h-1zM435 37h1v1h-1zM449 37h1v1h-1zM451 37h2v1h-2zM455 37h2v1h-2zM461 37h1v1h-1zM478 37h1v1h-1zM480 37h1v1h-1zM437 38h1v1h-1zM448 38h1v1h-1zM450 38h1v1h-1zM452 38h1v1h-1zM455 38h1v1h-1zM461 38h1v1h-1zM480 38h1v1h-1zM449 39h1v1h-1zM452 39h2v1h-2zM456 39h1v1h-1zM458 39h1v1h-1zM450 40h1v1h-1zM453 40h3v1h-3zM458 40h1v1h-1zM433 41h1v1h-1zM456 41h1v1h-1zM462 41h1v1h-1zM465 41h1v1h-1zM437 42h1v1h-1zM451 42h1v1h-1zM455 42h2v1h-2zM459 42h1v1h-1zM461 42h1v1h-1zM435 43h2v1h-2zM451 43h1v1h-1zM453 43h1v1h-1zM458 43h2v1h-2zM450 44h1v1h-1zM453 44h1v1h-1zM458 44h1v1h-1zM465 44h1v1h-1zM469 44h1v1h-1zM435 45h1v1h-1zM450 45h1v1h-1zM458 45h1v1h-1zM469 45h1v1h-1zM434 46h1v1h-1zM451 46h1v1h-1zM456 46h1v1h-1zM432 47h1v1h-1zM434 47h2v1h-2zM450 47h1v1h-1zM452 47h1v1h-1zM455 47h1v1h-1zM459 47h1v1h-1zM462 47h1v1h-1zM448 48h1v1h-1zM450 48h1v1h-1zM452 48h2v1h-2zM455 48h1v1h-1zM460 48h3v1h-3zM455 49h1v1h-1zM460 49h1v1h-1zM469 49h1v1h-1zM448 50h1v1h-1zM452 50h1v1h-1zM455 50h1v1h-1zM460 50h1v1h-1zM448 51h1v1h-1zM453 51h1v1h-1zM456 51h1v1h-1zM458 51h4v1h-4zM448 52h2v1h-2zM452 52h1v1h-1zM463 52h1v1h-1zM468 52h1v1h-1zM430 53h1v1h-1zM434 53h1v1h-1zM459 53h1v1h-1zM448 54h1v1h-1zM452 54h1v1h-1zM455 54h1v1h-1zM458 54h3v1h-3zM456 55h1v1h-1zM460 55h1v1h-1zM468 55h1v1h-1zM476 55h1v1h-1zM433 56h1v1h-1zM447 56h1v1h-1zM449 56h1v1h-1zM460 56h1v1h-1zM464 56h1v1h-1zM428 57h1v1h-1zM448 57h1v1h-1zM451 57h1v1h-1zM461 57h1v1h-1zM465 57h1v1h-1zM446 58h1v1h-1zM454 58h1v1h-1zM429 59h2v1h-2zM466 59h1v1h-1zM474 59h1v1h-1zM424 60h1v1h-1zM427 60h1v1h-1zM430 60h1v1h-1zM444 60h1v1h-1zM451 60h3v1h-3zM466 60h1v1h-1zM476 60h1v1h-1zM443 61h1v1h-1zM453 61h1v1h-1zM455 61h1v1h-1zM461 61h1v1h-1zM487 61h1v1h-1zM421 62h1v1h-1zM429 62h1v1h-1zM444 62h3v1h-3zM448 62h1v1h-1zM479 62h1v1h-1zM423 63h1v1h-1zM426 63h1v1h-1zM444 63h1v1h-1zM458 63h1v1h-1zM444 64h1v1h-1zM454 64h1v1h-1zM466 64h1v1h-1zM469 64h1v1h-1zM475 64h1v1h-1zM478 64h1v1h-1zM418 65h1v1h-1zM443 65h1v1h-1zM480 65h1v1h-1zM422 66h2v1h-2zM449 66h1v1h-1zM452 66h1v1h-1zM460 66h1v1h-1zM421 67h1v1h-1zM442 67h1v1h-1zM452 67h1v1h-1zM463 67h1v1h-1zM467 67h1v1h-1zM481 67h1v1h-1zM423 68h1v1h-1zM447 68h1v1h-1zM420 69h1v1h-1zM424 69h1v1h-1zM442 69h1v1h-1zM446 69h1v1h-1zM449 69h1v1h-1zM459 69h1v1h-1zM421 70h1v1h-1zM424 70h1v1h-1zM441 70h1v1h-1zM452 70h1v1h-1zM422 71h1v1h-1zM440 71h1v1h-1zM443 71h1v1h-1zM425 72h1v1h-1zM428 72h2v1h-2zM440 72h2v1h-2zM433 73h1v1h-1zM436 73h1v1h-1zM438 73h1v1h-1zM442 73h1v1h-1zM428 74h1v1h-1zM431 74h1v1h-1zM435 74h1v1h-1zM441 75h1v1h-1zM429 76h1v1h-1zM436 76h2v1h-2zM429 77h1v1h-1zM433 77h1v1h-1zM436 77h1v1h-1zM438 78h1v1h-1zM433 79h1v1h-1zM427 80h1v1h-1zM432 80h1v1h-1zM431 95h1v1h-1z"/><path fill="#002aff" d="M451 22h1v1h-1zM455 22h1v1h-1zM457 22h1v1h-1zM449 23h1v1h-1zM456 23h3v1h-3zM457 24h3v1h-3zM444 25h2v1h-2zM458 25h2v1h-2zM458 26h2v1h-2zM440 27h1v1h-1zM442 27h1v1h-1zM459 27h1v1h-1zM458 28h1v1h-1zM438 29h2v1h-2zM458 29h1v1h-1zM457 30h1v1h-1zM437 31h2v1h-2zM456 31h1v1h-1zM454 32h1v1h-1zM456 32h1v1h-1zM436 33h1v1h-1zM452 33h3v1h-3zM437 34h1v1h-1zM436 35h2v1h-2zM437 36h1v1h-1zM439 36h1v1h-1zM437 37h2v1h-2zM443 37h1v1h-1zM445 37h2v1h-2zM448 37h1v1h-1zM439 38h2v1h-2zM442 38h5v1h-5zM440 39h1v1h-1zM442 39h1v1h-1zM444 39h2v1h-2zM447 39h1v1h-1zM439 40h1v1h-1zM442 40h1v1h-1zM446 40h1v1h-1zM439 41h4v1h-4zM444 41h2v1h-2zM447 41h1v1h-1zM440 42h1v1h-1zM444 42h1v1h-1zM446 42h3v1h-3zM439 43h2v1h-2zM445 43h3v1h-3zM449 43h1v1h-1zM442 44h1v1h-1zM444 44h1v1h-1zM447 44h1v1h-1zM439 45h9v1h-9zM449 45h1v1h-1zM439 46h4v1h-4zM444 46h1v1h-1zM447 46h2v1h-2zM438 47h1v1h-1zM440 47h3v1h-3zM447 47h3v1h-3zM439 48h1v1h-1zM442 48h1v1h-1zM445 48h1v1h-1zM447 48h1v1h-1zM436 49h3v1h-3zM444 49h1v1h-1zM436 50h3v1h-3zM445 50h2v1h-2zM437 51h1v1h-1zM445 51h2v1h-2zM436 52h4v1h-4zM445 52h2v1h-2zM435 53h3v1h-3zM439 53h2v1h-2zM445 53h2v1h-2zM435 54h2v1h-2zM440 54h2v1h-2zM445 54h2v1h-2zM435 55h2v1h-2zM439 55h2v1h-2zM442 55h1v1h-1zM444 55h2v1h-2zM437 56h5v1h-5zM443 56h1v1h-1zM445 56h1v1h-1zM435 57h6v1h-6zM442 57h4v1h-4zM433 58h2v1h-2zM437 58h1v1h-1zM439 58h3v1h-3zM444 58h2v1h-2zM432 59h2v1h-2zM435 59h2v1h-2zM439 59h1v1h-1zM443 59h1v1h-1zM433 60h1v1h-1zM437 60h3v1h-3zM442 60h1v1h-1zM431 61h2v1h-2zM439 61h4v1h-4zM440 62h2v1h-2zM427 63h2v1h-2zM440 63h2v1h-2zM425 64h3v1h-3zM440 64h1v1h-1zM442 64h1v1h-1zM425 65h3v1h-3zM440 65h2v1h-2zM426 66h1v1h-1zM440 66h1v1h-1zM425 67h2v1h-2zM440 67h2v1h-2zM425 68h1v1h-1zM439 68h3v1h-3zM425 69h1v1h-1zM427 69h1v1h-1zM440 69h1v1h-1zM426 70h1v1h-1zM428 70h2v1h-2zM427 71h1v1h-1zM430 71h1v1h-1zM435 71h4v1h-4zM436 72h2v1h-2z"/><path fill="#0055ff" d="M451 23h2v1h-2zM454 23h1v1h-1zM448 24h2v1h-2zM455 24h2v1h-2zM446 25h1v1h-1zM456 25h1v1h-1zM445 26h1v1h-1zM456 27h2v1h-2zM441 28h1v1h-1zM456 28h1v1h-1zM440 29h1v1h-1zM456 29h1v1h-1zM455 30h1v1h-1zM439 31h1v1h-1zM454 31h1v1h-1zM438 32h2v1h-2zM438 33h1v1h-1zM438 34h2v1h-2zM438 35h2v1h-2zM440 36h3v1h-3zM444 36h2v1h-2zM440 48h2v1h-2zM440 49h3v1h-3zM439 50h5v1h-5zM440 51h4v1h-4zM440 52h4v1h-4zM441 53h1v1h-1zM443 53h1v1h-1zM442 54h3v1h-3zM443 55h1v1h-1zM435 60h2v1h-2zM433 61h1v1h-1zM435 61h4v1h-4zM432 62h3v1h-3zM437 62h1v1h-1zM439 62h1v1h-1zM431 63h1v1h-1zM436 63h4v1h-4zM430 64h1v1h-1zM438 64h2v1h-2zM429 65h1v1h-1zM438 65h2v1h-2zM427 66h2v1h-2zM439 66h1v1h-1zM427 68h2v1h-2zM438 68h1v1h-1zM429 69h1v1h-1zM437 69h2v1h-2zM431 70h3v1h-3zM435 70h1v1h-1zM437 70h1v1h-1z"/><path fill="#007fff" d="M450 24h4v1h-4zM455 25h1v1h-1zM446 26h1v1h-1zM456 26h1v1h-1zM444 27h1v1h-1zM442 28h1v1h-1zM455 28h1v1h-1zM441 29h1v1h-1zM455 29h1v1h-1zM440 30h1v1h-1zM454 30h1v1h-1zM440 31h1v1h-1zM453 31h1v1h-1zM439 33h2v1h-2zM450 33h1v1h-1zM440 34h2v1h-2zM448 34h1v1h-1zM441 35h6v1h-6zM432 63h4v1h-4zM431 64h2v1h-2zM435 64h2v1h-2zM430 65h2v1h-2zM436 65h2v1h-2zM429 66h2v1h-2zM437 66h2v1h-2zM428 67h2v1h-2zM437 67h2v1h-2zM429 68h1v1h-1zM434 68h4v1h-4zM430 69h7v1h-7z"/><path fill="#00aaff" d="M448 25h1v1h-1zM454 25h1v1h-1zM455 26h1v1h-1zM455 27h1v1h-1zM441 30h1v1h-1zM451 32h1v1h-1zM441 33h1v1h-1zM442 34h2v1h-2zM447 34h1v1h-1zM433 64h2v1h-2zM432 65h4v1h-4zM431 66h4v1h-4zM436 66h1v1h-1zM430 67h7v1h-7zM431 68h3v1h-3z"/><path fill="#00d4ff" d="M449 25h1v1h-1zM453 25h1v1h-1zM447 26h1v1h-1zM454 26h1v1h-1zM444 28h1v1h-1zM442 29h1v1h-1zM454 29h1v1h-1zM453 30h1v1h-1zM441 31h1v1h-1zM452 31h1v1h-1zM441 32h1v1h-1zM442 33h1v1h-1zM444 34h3v1h-3z"/><path fill="#00ffff" d="M450 25h3v1h-3zM446 27h1v1h-1zM454 27h1v1h-1zM443 29h1v1h-1zM442 30h1v1h-1zM442 32h1v1h-1zM450 32h1v1h-1zM443 33h1v1h-1zM448 33h1v1h-1z"/><path fill="#2affd4" d="M448 26h1v1h-1zM453 26h1v1h-1zM445 28h1v1h-1zM453 29h1v1h-1zM442 31h1v1h-1zM451 31h1v1h-1zM447 33h1v1h-1z"/><path fill="#7fff7f" d="M449 26h1v1h-1zM452 26h1v1h-1zM453 27h1v1h-1zM453 28h1v1h-1zM443 30h1v1h-1zM443 31h1v1h-1zM448 32h1v1h-1z"/><path fill="#d4ff2a" d="M450 26h2v1h-2zM445 29h1v1h-1zM452 29h1v1h-1zM444 30h1v1h-1zM451 30h1v1h-1zM447 32h1v1h-1z"/><path fill="#ffff00" d="M448 27h1v1h-1zM452 27h1v1h-1zM452 28h1v1h-1zM444 31h1v1h-1zM449 31h1v1h-1zM445 32h2v1h-2z"/><path fill="#ffaa00" d="M449 27h1v1h-1zM451 27h1v1h-1zM446 29h1v1h-1zM451 29h1v1h-1zM445 30h1v1h-1zM450 30h1v1h-1zM445 31h1v1h-1zM448 31h1v1h-1z"/><path fill="#ff7f00" d="M450 27h1v1h-1zM446 31h2v1h-2z"/><path fill="#aaff55" d="M446 28h1v1h-1zM450 31h1v1h-1zM444 32h1v1h-1z"/><path fill="#ffd400" d="M447 28h1v1h-1z"/><path fill="#ff5500" d="M448 28h1v1h-1zM451 28h1v1h-1zM446 30h1v1h-1z"/><path fill="#ff0000" d="M449 28h2v1h-2zM450 29h1v1h-1zM447 30h2v1h-2z"/><path fill="#55ff7f" d="M444 29h1v1h-1z"/><path fill="#ff2a00" d="M447 29h1v1h-1zM449 30h1v1h-1z"/><path fill="#d40000" d="M448 29h2v1h-2z"/><path fill="#55ffaa" d="M452 30h1v1h-1zM443 32h1v1h-1zM444 33h3v1h-3z"/></g>
<rect x="454.5" y="20.3" width="35.2" height="50.4" fill="none" stroke="#333" stroke-width="0.8"/>
<text x="472.0" y="83.7" font-size="3.8" text-anchor="middle" fill="#222">CD61+CD62P+</text>
<text x="472.0" y="89.9" font-size="3.8" text-anchor="middle" fill="#222">6.37</text>
<text x="431.5" y="7.6" font-size="10" text-anchor="middle">HC</text>
<text x="378.8" y="62.8" font-size="3.2" text-anchor="middle" fill="#555" transform="rotate(-90 378.8 62.8)">SSC-A</text>
<rect x="529.0" y="14.0" width="99.0" height="98.0" fill="#fff" stroke="#8a8a8a" stroke-width="0.7"/>
<line x1="548.4" y1="112.0" x2="548.4" y2="113.6" stroke="#222" stroke-width="0.5"/>
<line x1="549.8" y1="112.0" x2="549.8" y2="113.6" stroke="#222" stroke-width="0.5"/>
<line x1="551.2" y1="112.0" x2="551.2" y2="113.6" stroke="#222" stroke-width="0.5"/>
<line x1="552.6" y1="112.0" x2="552.6" y2="113.6" stroke="#222" stroke-width="0.5"/>
<line x1="554.0" y1="112.0" x2="554.0" y2="113.6" stroke="#222" stroke-width="0.5"/>
<line x1="555.4" y1="112.0" x2="555.4" y2="113.6" stroke="#222" stroke-width="0.5"/>
<line x1="556.8" y1="112.0" x2="556.8" y2="113.6" stroke="#222" stroke-width="0.5"/>
<line x1="558.2" y1="112.0" x2="558.2" y2="113.6" stroke="#222" stroke-width="0.5"/>
<line x1="559.6" y1="112.0" x2="559.6" y2="113.6" stroke="#222" stroke-width="0.5"/>
<line x1="527.2" y1="77.0" x2="529.0" y2="77.0" stroke="#222" stroke-width="0.5"/>
<line x1="527.2" y1="78.2" x2="529.0" y2="78.2" stroke="#222" stroke-width="0.5"/>
<line x1="527.2" y1="79.4" x2="529.0" y2="79.4" stroke="#222" stroke-width="0.5"/>
<line x1="527.2" y1="80.6" x2="529.0" y2="80.6" stroke="#222" stroke-width="0.5"/>
<line x1="527.2" y1="81.8" x2="529.0" y2="81.8" stroke="#222" stroke-width="0.5"/>
<line x1="527.2" y1="83.0" x2="529.0" y2="83.0" stroke="#222" stroke-width="0.5"/>
<line x1="527.2" y1="84.2" x2="529.0" y2="84.2" stroke="#222" stroke-width="0.5"/>
<line x1="526.8" y1="24.0" x2="529.0" y2="24.0" stroke="#333" stroke-width="0.6"/>
<text x="526.0" y="25.3" font-size="3.9" text-anchor="end" fill="#111">10<tspan font-size="2.8" dy="-1.5">5</tspan></text>
<line x1="526.8" y1="48.5" x2="529.0" y2="48.5" stroke="#333" stroke-width="0.6"/>
<text x="526.0" y="49.8" font-size="3.9" text-anchor="end" fill="#111">10<tspan font-size="2.8" dy="-1.5">4</tspan></text>
<line x1="526.8" y1="80.0" x2="529.0" y2="80.0" stroke="#333" stroke-width="0.6"/>
<text x="526.0" y="81.3" font-size="3.9" text-anchor="end" fill="#111">0</text>
<line x1="555.4" y1="112.0" x2="555.4" y2="114.2" stroke="#333" stroke-width="0.6"/>
<text x="555.4" y="119.2" font-size="3.9" text-anchor="middle" fill="#111">0</text>
<line x1="584.5" y1="112.0" x2="584.5" y2="114.2" stroke="#333" stroke-width="0.6"/>
<text x="584.5" y="119.2" font-size="3.9" text-anchor="middle" fill="#111">10<tspan font-size="2.8" dy="-1.5">3</tspan></text>
<line x1="603.2" y1="112.0" x2="603.2" y2="114.2" stroke="#333" stroke-width="0.6"/>
<text x="603.2" y="119.2" font-size="3.9" text-anchor="middle" fill="#111">10<tspan font-size="2.8" dy="-1.5">4</tspan></text>
<line x1="621.0" y1="112.0" x2="621.0" y2="114.2" stroke="#333" stroke-width="0.6"/>
<text x="621.0" y="119.2" font-size="3.9" text-anchor="middle" fill="#111">10<tspan font-size="2.8" dy="-1.5">5</tspan></text>
<line x1="527.8" y1="20.0" x2="529.0" y2="20.0" stroke="#555" stroke-width="0.4"/>
<line x1="527.8" y1="26.8" x2="529.0" y2="26.8" stroke="#555" stroke-width="0.4"/>
<line x1="527.8" y1="33.5" x2="529.0" y2="33.5" stroke="#555" stroke-width="0.4"/>
<line x1="527.8" y1="40.3" x2="529.0" y2="40.3" stroke="#555" stroke-width="0.4"/>
<line x1="527.8" y1="47.1" x2="529.0" y2="47.1" stroke="#555" stroke-width="0.4"/>
<line x1="527.8" y1="53.8" x2="529.0" y2="53.8" stroke="#555" stroke-width="0.4"/>
<line x1="527.8" y1="60.6" x2="529.0" y2="60.6" stroke="#555" stroke-width="0.4"/>
<line x1="527.8" y1="67.4" x2="529.0" y2="67.4" stroke="#555" stroke-width="0.4"/>
<line x1="527.8" y1="74.2" x2="529.0" y2="74.2" stroke="#555" stroke-width="0.4"/>
<line x1="527.8" y1="80.9" x2="529.0" y2="80.9" stroke="#555" stroke-width="0.4"/>
<line x1="527.8" y1="87.7" x2="529.0" y2="87.7" stroke="#555" stroke-width="0.4"/>
<line x1="527.8" y1="94.5" x2="529.0" y2="94.5" stroke="#555" stroke-width="0.4"/>
<line x1="527.8" y1="101.2" x2="529.0" y2="101.2" stroke="#555" stroke-width="0.4"/>
<line x1="527.8" y1="108.0" x2="529.0" y2="108.0" stroke="#555" stroke-width="0.4"/>
<line x1="534.0" y1="112.0" x2="534.0" y2="113.2" stroke="#555" stroke-width="0.4"/>
<line x1="538.3" y1="112.0" x2="538.3" y2="113.2" stroke="#555" stroke-width="0.4"/>
<line x1="542.7" y1="112.0" x2="542.7" y2="113.2" stroke="#555" stroke-width="0.4"/>
<line x1="547.0" y1="112.0" x2="547.0" y2="113.2" stroke="#555" stroke-width="0.4"/>
<line x1="551.3" y1="112.0" x2="551.3" y2="113.2" stroke="#555" stroke-width="0.4"/>
<line x1="555.7" y1="112.0" x2="555.7" y2="113.2" stroke="#555" stroke-width="0.4"/>
<line x1="560.0" y1="112.0" x2="560.0" y2="113.2" stroke="#555" stroke-width="0.4"/>
<line x1="564.3" y1="112.0" x2="564.3" y2="113.2" stroke="#555" stroke-width="0.4"/>
<line x1="568.7" y1="112.0" x2="568.7" y2="113.2" stroke="#555" stroke-width="0.4"/>
<line x1="573.0" y1="112.0" x2="573.0" y2="113.2" stroke="#555" stroke-width="0.4"/>
<line x1="577.3" y1="112.0" x2="577.3" y2="113.2" stroke="#555" stroke-width="0.4"/>
<line x1="581.7" y1="112.0" x2="581.7" y2="113.2" stroke="#555" stroke-width="0.4"/>
<line x1="586.0" y1="112.0" x2="586.0" y2="113.2" stroke="#555" stroke-width="0.4"/>
<line x1="590.3" y1="112.0" x2="590.3" y2="113.2" stroke="#555" stroke-width="0.4"/>
<line x1="594.7" y1="112.0" x2="594.7" y2="113.2" stroke="#555" stroke-width="0.4"/>
<line x1="599.0" y1="112.0" x2="599.0" y2="113.2" stroke="#555" stroke-width="0.4"/>
<line x1="603.3" y1="112.0" x2="603.3" y2="113.2" stroke="#555" stroke-width="0.4"/>
<line x1="607.7" y1="112.0" x2="607.7" y2="113.2" stroke="#555" stroke-width="0.4"/>
<line x1="612.0" y1="112.0" x2="612.0" y2="113.2" stroke="#555" stroke-width="0.4"/>
<line x1="616.3" y1="112.0" x2="616.3" y2="113.2" stroke="#555" stroke-width="0.4"/>
<line x1="620.7" y1="112.0" x2="620.7" y2="113.2" stroke="#555" stroke-width="0.4"/>
<line x1="625.0" y1="112.0" x2="625.0" y2="113.2" stroke="#555" stroke-width="0.4"/>
<g shape-rendering="crispEdges"><path fill="#0000ff" d="M595 15h1v1h-1zM581 16h1v1h-1zM604 18h1v1h-1zM590 21h1v1h-1zM595 22h1v1h-1zM586 23h1v1h-1zM592 23h1v1h-1zM597 23h1v1h-1zM585 24h1v1h-1zM589 24h1v1h-1zM577 25h1v1h-1zM581 25h1v1h-1zM581 26h2v1h-2zM593 26h1v1h-1zM571 27h1v1h-1zM586 27h1v1h-1zM588 27h1v1h-1zM575 28h1v1h-1zM594 28h1v1h-1zM602 28h1v1h-1zM614 28h1v1h-1zM567 29h1v1h-1zM570 29h2v1h-2zM589 29h1v1h-1zM593 29h1v1h-1zM564 30h1v1h-1zM590 30h1v1h-1zM566 32h1v1h-1zM589 32h1v1h-1zM591 33h1v1h-1zM592 34h2v1h-2zM596 34h1v1h-1zM563 35h1v1h-1zM565 35h1v1h-1zM588 35h2v1h-2zM597 35h1v1h-1zM609 35h1v1h-1zM563 36h1v1h-1zM588 36h1v1h-1zM591 36h1v1h-1zM596 36h1v1h-1zM602 36h1v1h-1zM559 37h2v1h-2zM565 37h1v1h-1zM586 37h1v1h-1zM588 37h1v1h-1zM597 37h1v1h-1zM610 37h1v1h-1zM562 38h1v1h-1zM591 38h1v1h-1zM600 38h1v1h-1zM585 39h1v1h-1zM588 39h1v1h-1zM592 39h1v1h-1zM602 39h1v1h-1zM582 40h1v1h-1zM586 40h1v1h-1zM597 40h1v1h-1zM600 40h1v1h-1zM565 41h1v1h-1zM582 41h1v1h-1zM591 41h1v1h-1zM594 41h1v1h-1zM598 41h1v1h-1zM565 42h1v1h-1zM568 42h1v1h-1zM582 42h2v1h-2zM585 42h1v1h-1zM593 42h1v1h-1zM566 43h1v1h-1zM569 43h1v1h-1zM602 43h1v1h-1zM615 43h1v1h-1zM568 44h1v1h-1zM582 44h1v1h-1zM585 44h1v1h-1zM587 44h1v1h-1zM589 44h2v1h-2zM593 44h1v1h-1zM596 44h1v1h-1zM598 44h1v1h-1zM617 44h1v1h-1zM566 45h1v1h-1zM584 45h2v1h-2zM592 45h1v1h-1zM595 45h1v1h-1zM600 45h1v1h-1zM566 46h1v1h-1zM583 46h1v1h-1zM589 46h1v1h-1zM592 46h2v1h-2zM596 46h1v1h-1zM563 47h1v1h-1zM568 47h1v1h-1zM583 47h1v1h-1zM594 47h2v1h-2zM567 49h1v1h-1zM598 49h1v1h-1zM567 50h1v1h-1zM593 50h3v1h-3zM563 51h1v1h-1zM591 51h1v1h-1zM595 51h1v1h-1zM603 51h1v1h-1zM589 52h1v1h-1zM593 52h1v1h-1zM600 52h1v1h-1zM606 52h1v1h-1zM565 53h1v1h-1zM584 53h2v1h-2zM594 53h1v1h-1zM600 53h1v1h-1zM564 54h1v1h-1zM587 54h1v1h-1zM590 54h1v1h-1zM594 54h1v1h-1zM563 55h1v1h-1zM565 55h2v1h-2zM583 55h1v1h-1zM587 55h1v1h-1zM592 55h1v1h-1zM610 55h1v1h-1zM616 55h1v1h-1zM560 56h1v1h-1zM564 56h1v1h-1zM586 56h1v1h-1zM588 56h1v1h-1zM591 56h1v1h-1zM600 56h1v1h-1zM565 57h1v1h-1zM582 57h2v1h-2zM586 57h2v1h-2zM591 57h2v1h-2zM594 57h1v1h-1zM596 57h1v1h-1zM608 57h1v1h-1zM559 58h1v1h-1zM578 58h1v1h-1zM580 58h1v1h-1zM585 58h1v1h-1zM591 58h2v1h-2zM595 58h1v1h-1zM597 58h1v1h-1zM607 58h1v1h-1zM560 59h4v1h-4zM576 59h1v1h-1zM584 59h1v1h-1zM587 59h1v1h-1zM595 59h1v1h-1zM599 59h1v1h-1zM564 60h1v1h-1zM575 60h1v1h-1zM579 60h1v1h-1zM581 60h1v1h-1zM590 60h1v1h-1zM563 61h1v1h-1zM575 61h2v1h-2zM578 61h1v1h-1zM590 61h1v1h-1zM595 61h1v1h-1zM563 62h1v1h-1zM578 62h1v1h-1zM585 62h1v1h-1zM593 62h1v1h-1zM597 62h1v1h-1zM554 63h1v1h-1zM575 63h1v1h-1zM579 63h1v1h-1zM591 63h1v1h-1zM580 64h2v1h-2zM591 64h1v1h-1zM594 64h1v1h-1zM577 65h1v1h-1zM582 65h1v1h-1zM589 65h1v1h-1zM557 66h1v1h-1zM603 66h1v1h-1zM557 67h1v1h-1zM576 67h1v1h-1zM580 67h1v1h-1zM590 67h1v1h-1zM593 67h1v1h-1zM596 67h1v1h-1zM552 68h1v1h-1zM575 68h1v1h-1zM594 68h1v1h-1zM552 69h1v1h-1zM580 69h1v1h-1zM550 70h1v1h-1zM574 70h1v1h-1zM579 70h1v1h-1zM552 71h1v1h-1zM574 71h1v1h-1zM587 71h1v1h-1zM575 72h1v1h-1zM589 72h1v1h-1zM551 73h1v1h-1zM575 73h1v1h-1zM597 73h1v1h-1zM611 73h1v1h-1zM550 74h1v1h-1zM573 74h1v1h-1zM582 74h1v1h-1zM573 75h1v1h-1zM575 75h1v1h-1zM551 76h3v1h-3zM572 76h1v1h-1zM551 77h2v1h-2zM554 77h1v1h-1zM569 77h1v1h-1zM559 78h1v1h-1zM569 78h1v1h-1zM552 79h1v1h-1zM555 79h1v1h-1zM565 79h2v1h-2zM594 79h1v1h-1zM563 80h1v1h-1zM568 82h1v1h-1zM570 84h1v1h-1zM578 85h1v1h-1zM580 87h1v1h-1z"/><path fill="#002aff" d="M582 27h2v1h-2zM578 28h3v1h-3zM584 28h1v1h-1zM587 28h1v1h-1zM582 29h3v1h-3zM586 29h1v1h-1zM574 30h1v1h-1zM584 30h1v1h-1zM586 30h2v1h-2zM571 31h1v1h-1zM588 31h1v1h-1zM585 32h1v1h-1zM587 32h1v1h-1zM568 33h1v1h-1zM585 33h1v1h-1zM566 34h2v1h-2zM585 34h2v1h-2zM585 35h1v1h-1zM587 35h1v1h-1zM566 36h2v1h-2zM583 36h1v1h-1zM585 36h1v1h-1zM582 37h1v1h-1zM567 38h1v1h-1zM582 38h1v1h-1zM566 39h2v1h-2zM577 39h1v1h-1zM581 39h2v1h-2zM589 39h2v1h-2zM567 40h1v1h-1zM569 40h5v1h-5zM577 40h1v1h-1zM580 40h1v1h-1zM590 40h1v1h-1zM567 41h2v1h-2zM571 41h2v1h-2zM575 41h2v1h-2zM588 41h3v1h-3zM571 42h2v1h-2zM574 42h1v1h-1zM577 42h2v1h-2zM580 42h1v1h-1zM588 42h2v1h-2zM577 43h4v1h-4zM588 43h2v1h-2zM579 44h1v1h-1zM571 45h1v1h-1zM582 45h1v1h-1zM581 47h2v1h-2zM589 47h1v1h-1zM591 47h1v1h-1zM568 48h1v1h-1zM588 48h2v1h-2zM586 49h3v1h-3zM590 49h1v1h-1zM592 49h1v1h-1zM582 50h1v1h-1zM585 50h1v1h-1zM587 50h5v1h-5zM569 51h1v1h-1zM585 51h3v1h-3zM568 52h2v1h-2zM582 52h1v1h-1zM588 52h1v1h-1zM567 53h2v1h-2zM581 53h1v1h-1zM583 53h1v1h-1zM586 53h2v1h-2zM569 54h2v1h-2zM580 54h2v1h-2zM567 55h1v1h-1zM570 55h1v1h-1zM578 55h1v1h-1zM581 55h1v1h-1zM570 56h1v1h-1zM579 56h1v1h-1zM566 57h3v1h-3zM570 57h1v1h-1zM572 57h1v1h-1zM576 57h1v1h-1zM580 57h1v1h-1zM567 58h7v1h-7zM566 59h1v1h-1zM568 59h1v1h-1zM570 59h4v1h-4zM575 59h1v1h-1zM566 60h3v1h-3zM571 60h1v1h-1zM566 61h4v1h-4zM571 61h1v1h-1zM567 62h1v1h-1zM569 62h2v1h-2zM572 62h1v1h-1zM563 63h2v1h-2zM566 63h2v1h-2zM571 63h1v1h-1zM574 63h1v1h-1zM562 64h2v1h-2zM565 64h1v1h-1zM567 64h3v1h-3zM573 64h2v1h-2zM562 65h2v1h-2zM565 65h2v1h-2zM573 65h1v1h-1zM575 65h1v1h-1zM561 66h1v1h-1zM564 66h1v1h-1zM567 66h1v1h-1zM573 66h1v1h-1zM560 67h1v1h-1zM572 67h3v1h-3zM557 68h1v1h-1zM559 68h2v1h-2zM572 68h1v1h-1zM574 68h1v1h-1zM556 69h2v1h-2zM572 69h1v1h-1zM553 70h3v1h-3zM557 70h1v1h-1zM573 70h1v1h-1zM553 71h3v1h-3zM572 71h2v1h-2zM554 72h1v1h-1zM571 72h2v1h-2zM552 73h3v1h-3zM569 73h1v1h-1zM553 74h2v1h-2zM570 74h2v1h-2zM567 75h2v1h-2zM555 76h2v1h-2zM558 76h1v1h-1zM565 76h4v1h-4zM558 77h1v1h-1zM561 77h3v1h-3zM566 77h1v1h-1zM565 78h1v1h-1z"/><path fill="#0055ff" d="M578 29h1v1h-1zM581 29h1v1h-1zM582 30h1v1h-1zM572 31h1v1h-1zM583 31h1v1h-1zM584 33h1v1h-1zM568 34h1v1h-1zM584 34h1v1h-1zM583 35h2v1h-2zM568 36h1v1h-1zM568 37h1v1h-1zM581 37h1v1h-1zM568 38h2v1h-2zM578 38h2v1h-2zM569 39h1v1h-1zM571 39h1v1h-1zM574 39h1v1h-1zM576 39h1v1h-1zM574 43h3v1h-3zM573 44h2v1h-2zM576 44h1v1h-1zM578 44h1v1h-1zM572 45h2v1h-2zM579 45h1v1h-1zM571 46h1v1h-1zM579 46h2v1h-2zM570 47h1v1h-1zM570 48h1v1h-1zM581 48h1v1h-1zM569 49h1v1h-1zM569 50h1v1h-1zM581 50h1v1h-1zM581 51h1v1h-1zM570 52h1v1h-1zM580 52h1v1h-1zM570 53h1v1h-1zM579 53h1v1h-1zM571 54h2v1h-2zM578 54h1v1h-1zM571 55h3v1h-3zM575 55h1v1h-1zM577 55h1v1h-1zM571 56h4v1h-4zM570 64h1v1h-1zM572 64h1v1h-1zM569 65h4v1h-4zM569 66h3v1h-3zM563 67h5v1h-5zM570 67h2v1h-2zM561 68h3v1h-3zM569 68h1v1h-1zM570 69h1v1h-1zM558 70h2v1h-2zM571 70h1v1h-1zM557 71h2v1h-2zM570 71h2v1h-2zM557 72h1v1h-1zM568 72h3v1h-3zM555 73h2v1h-2zM567 73h1v1h-1zM555 74h3v1h-3zM565 74h3v1h-3zM556 75h3v1h-3zM560 75h1v1h-1zM562 75h1v1h-1zM564 75h2v1h-2zM560 76h1v1h-1zM562 76h2v1h-2z"/><path fill="#007fff" d="M577 30h1v1h-1zM574 31h1v1h-1zM582 31h1v1h-1zM571 32h1v1h-1zM583 32h1v1h-1zM570 33h1v1h-1zM583 33h1v1h-1zM569 34h1v1h-1zM569 35h1v1h-1zM569 36h1v1h-1zM569 37h1v1h-1zM570 38h1v1h-1zM574 45h4v1h-4zM578 46h1v1h-1zM579 47h1v1h-1zM580 48h1v1h-1zM570 49h1v1h-1zM580 49h1v1h-1zM580 51h1v1h-1zM571 52h1v1h-1zM579 52h1v1h-1zM573 53h1v1h-1zM578 53h1v1h-1zM573 54h5v1h-5zM564 68h5v1h-5zM561 69h3v1h-3zM567 69h3v1h-3zM560 70h1v1h-1zM568 70h2v1h-2zM559 71h1v1h-1zM567 71h1v1h-1zM569 71h1v1h-1zM566 72h2v1h-2zM558 73h1v1h-1zM563 73h1v1h-1zM565 73h2v1h-2zM558 74h7v1h-7zM561 75h1v1h-1z"/><path fill="#00aaff" d="M578 30h1v1h-1zM580 30h1v1h-1zM572 32h1v1h-1zM582 32h1v1h-1zM571 33h1v1h-1zM570 34h1v1h-1zM570 37h1v1h-1zM572 38h1v1h-1zM574 38h1v1h-1zM573 46h1v1h-1zM575 46h3v1h-3zM572 47h1v1h-1zM578 47h1v1h-1zM571 48h1v1h-1zM579 48h1v1h-1zM571 49h1v1h-1zM571 50h1v1h-1zM579 50h1v1h-1zM571 51h1v1h-1zM579 51h1v1h-1zM572 52h2v1h-2zM578 52h1v1h-1zM574 53h4v1h-4zM564 69h3v1h-3zM561 70h7v1h-7zM560 71h3v1h-3zM564 71h3v1h-3zM559 72h2v1h-2zM562 72h2v1h-2zM565 72h1v1h-1zM559 73h4v1h-4z"/><path fill="#00ffff" d="M576 31h1v1h-1zM580 31h1v1h-1zM574 32h1v1h-1zM572 33h1v1h-1zM571 35h1v1h-1zM571 36h1v1h-1zM572 37h1v1h-1zM574 47h3v1h-3zM573 48h1v1h-1zM577 48h2v1h-2zM572 49h1v1h-1zM578 49h1v1h-1zM578 50h1v1h-1zM573 51h1v1h-1zM577 51h1v1h-1zM575 52h2v1h-2z"/><path fill="#2affd4" d="M577 31h1v1h-1zM579 31h1v1h-1zM581 32h1v1h-1zM573 33h1v1h-1zM572 34h1v1h-1zM581 34h1v1h-1zM579 36h1v1h-1zM573 37h5v1h-5zM574 48h3v1h-3zM573 49h1v1h-1zM577 49h1v1h-1zM577 50h1v1h-1zM574 51h3v1h-3z"/><path fill="#55ffaa" d="M578 31h1v1h-1zM575 32h1v1h-1zM581 33h1v1h-1zM572 35h1v1h-1zM580 35h1v1h-1zM572 36h1v1h-1zM574 49h3v1h-3zM574 50h3v1h-3z"/><path fill="#00d4ff" d="M581 31h1v1h-1zM573 32h1v1h-1zM582 33h1v1h-1zM582 34h1v1h-1zM570 35h1v1h-1zM581 35h1v1h-1zM570 36h1v1h-1zM580 36h1v1h-1zM571 37h1v1h-1zM578 37h1v1h-1zM573 47h1v1h-1zM577 47h1v1h-1zM572 48h1v1h-1zM579 49h1v1h-1zM572 50h1v1h-1zM572 51h1v1h-1zM578 51h1v1h-1zM577 52h1v1h-1zM561 72h1v1h-1z"/><path fill="#aaff55" d="M576 32h1v1h-1zM573 34h1v1h-1zM573 36h1v1h-1zM578 36h1v1h-1z"/><path fill="#ffff00" d="M577 32h2v1h-2zM575 33h1v1h-1zM574 34h1v1h-1zM579 35h1v1h-1zM575 36h1v1h-1zM577 36h1v1h-1z"/><path fill="#d4ff2a" d="M579 32h1v1h-1zM580 33h1v1h-1zM580 34h1v1h-1zM573 35h1v1h-1zM574 36h1v1h-1z"/><path fill="#7fff7f" d="M580 32h1v1h-1zM574 33h1v1h-1z"/><path fill="#ff7f00" d="M576 33h1v1h-1zM579 33h1v1h-1zM575 34h1v1h-1zM579 34h1v1h-1zM575 35h1v1h-1zM578 35h1v1h-1z"/><path fill="#ff2a00" d="M577 33h2v1h-2zM576 35h2v1h-2z"/><path fill="#ff0000" d="M576 34h1v1h-1zM578 34h1v1h-1z"/><path fill="#d40000" d="M577 34h1v1h-1z"/><path fill="#ffd400" d="M574 35h1v1h-1zM576 36h1v1h-1z"/></g>
<rect x="583.7" y="23.6" width="35.0" height="50.8" fill="none" stroke="#333" stroke-width="0.8"/>
<text x="601.6" y="88.3" font-size="3.8" text-anchor="middle" fill="#222">CD61+CD62P+</text>
<text x="601.6" y="94.5" font-size="3.8" text-anchor="middle" fill="#222">7.32</text>
<text x="566.0" y="7.6" font-size="10" text-anchor="middle">MMS</text>
<text x="508.8" y="63.0" font-size="3.2" text-anchor="middle" fill="#555" transform="rotate(-90 508.8 63.0)">SSC-A</text>
<line x1="284.7" y1="131.5" x2="609.5" y2="131.5" stroke="#000" stroke-width="1.2"/>
<polygon points="608.5,128.3 608.5,134.7 614.5,131.5" fill="#000"/>
<text x="287.0" y="144.0" font-size="9">CD62P</text>
<text x="0.0" y="164.0" font-size="13" font-weight="bold">b</text>
<line x1="50.4" y1="164.3" x2="50.4" y2="272.8" stroke="#000" stroke-width="1.1"/>
<line x1="45.9" y1="272.3" x2="50.4" y2="272.3" stroke="#000" stroke-width="1.1"/>
<text x="45.0" y="274.2" font-size="5.5" font-weight="bold" text-anchor="end">0</text>
<line x1="45.9" y1="245.5" x2="50.4" y2="245.5" stroke="#000" stroke-width="1.1"/>
<text x="45.0" y="247.4" font-size="5.5" font-weight="bold" text-anchor="end">10</text>
<line x1="45.9" y1="218.7" x2="50.4" y2="218.7" stroke="#000" stroke-width="1.1"/>
<text x="45.0" y="220.6" font-size="5.5" font-weight="bold" text-anchor="end">20</text>
<line x1="45.9" y1="191.9" x2="50.4" y2="191.9" stroke="#000" stroke-width="1.1"/>
<text x="45.0" y="193.8" font-size="5.5" font-weight="bold" text-anchor="end">30</text>
<line x1="45.9" y1="165.1" x2="50.4" y2="165.1" stroke="#000" stroke-width="1.1"/>
<text x="45.0" y="167.0" font-size="5.5" font-weight="bold" text-anchor="end">40</text>
<line x1="49.9" y1="272.3" x2="170.0" y2="272.3" stroke="#000" stroke-width="1.1"/>
<line x1="73.7" y1="272.3" x2="73.7" y2="275.8" stroke="#000" stroke-width="1.1"/>
<text x="73.7" y="282.8" font-size="5.6" font-weight="bold" text-anchor="middle">nMG</text>
<line x1="110.0" y1="272.3" x2="110.0" y2="275.8" stroke="#000" stroke-width="1.1"/>
<text x="110.0" y="282.8" font-size="5.6" font-weight="bold" text-anchor="middle">HC</text>
<line x1="146.4" y1="272.3" x2="146.4" y2="275.8" stroke="#000" stroke-width="1.1"/>
<text x="146.4" y="282.8" font-size="5.6" font-weight="bold" text-anchor="middle">MMS</text>
<text x="35.3" y="220.0" font-size="5.6" font-weight="bold" text-anchor="middle" transform="rotate(-90 35.3 220.0)">CD62P+ platelet %</text>
<circle cx="71.6" cy="273.0" r="1.70" fill="#a52a2a"/>
<circle cx="74.7" cy="270.2" r="1.70" fill="#a52a2a"/>
<circle cx="77.9" cy="268.3" r="1.70" fill="#a52a2a"/>
<circle cx="70.6" cy="268.5" r="1.70" fill="#a52a2a"/>
<circle cx="73.7" cy="266.5" r="1.70" fill="#a52a2a"/>
<circle cx="77.9" cy="262.4" r="1.70" fill="#a52a2a"/>
<circle cx="69.5" cy="263.6" r="1.70" fill="#a52a2a"/>
<circle cx="73.7" cy="261.8" r="1.70" fill="#a52a2a"/>
<circle cx="67.4" cy="257.6" r="1.70" fill="#a52a2a"/>
<circle cx="77.9" cy="257.1" r="1.70" fill="#a52a2a"/>
<circle cx="71.6" cy="256.3" r="1.70" fill="#a52a2a"/>
<circle cx="74.7" cy="254.2" r="1.70" fill="#a52a2a"/>
<circle cx="69.5" cy="252.2" r="1.70" fill="#a52a2a"/>
<circle cx="77.9" cy="251.8" r="1.70" fill="#a52a2a"/>
<circle cx="73.7" cy="250.7" r="1.70" fill="#a52a2a"/>
<circle cx="69.5" cy="247.0" r="1.70" fill="#a52a2a"/>
<circle cx="73.7" cy="245.8" r="1.70" fill="#a52a2a"/>
<circle cx="77.9" cy="244.7" r="1.70" fill="#a52a2a"/>
<circle cx="71.6" cy="242.1" r="1.70" fill="#a52a2a"/>
<circle cx="75.8" cy="241.4" r="1.70" fill="#a52a2a"/>
<circle cx="72.7" cy="238.4" r="1.70" fill="#a52a2a"/>
<circle cx="68.5" cy="239.3" r="1.70" fill="#a52a2a"/>
<circle cx="78.9" cy="236.6" r="1.70" fill="#a52a2a"/>
<circle cx="74.7" cy="235.2" r="1.70" fill="#a52a2a"/>
<circle cx="70.6" cy="234.1" r="1.70" fill="#a52a2a"/>
<circle cx="77.9" cy="231.7" r="1.70" fill="#a52a2a"/>
<circle cx="73.7" cy="231.3" r="1.70" fill="#a52a2a"/>
<circle cx="69.5" cy="227.8" r="1.70" fill="#a52a2a"/>
<circle cx="73.7" cy="226.0" r="1.70" fill="#a52a2a"/>
<circle cx="77.9" cy="226.8" r="1.70" fill="#a52a2a"/>
<circle cx="70.6" cy="224.2" r="1.70" fill="#a52a2a"/>
<circle cx="77.9" cy="223.2" r="1.70" fill="#a52a2a"/>
<circle cx="73.7" cy="222.2" r="1.70" fill="#a52a2a"/>
<circle cx="80.0" cy="218.0" r="1.70" fill="#a52a2a"/>
<circle cx="71.6" cy="217.9" r="1.70" fill="#a52a2a"/>
<circle cx="75.8" cy="217.2" r="1.70" fill="#a52a2a"/>
<circle cx="77.9" cy="213.9" r="1.70" fill="#a52a2a"/>
<circle cx="73.7" cy="213.9" r="1.70" fill="#a52a2a"/>
<circle cx="70.6" cy="210.0" r="1.70" fill="#a52a2a"/>
<circle cx="81.0" cy="210.6" r="1.70" fill="#a52a2a"/>
<circle cx="76.8" cy="209.6" r="1.70" fill="#a52a2a"/>
<circle cx="73.7" cy="207.5" r="1.70" fill="#a52a2a"/>
<circle cx="76.8" cy="205.5" r="1.70" fill="#a52a2a"/>
<circle cx="73.7" cy="203.5" r="1.70" fill="#a52a2a"/>
<circle cx="69.5" cy="200.5" r="1.70" fill="#a52a2a"/>
<circle cx="77.9" cy="199.6" r="1.70" fill="#a52a2a"/>
<circle cx="73.7" cy="199.1" r="1.70" fill="#a52a2a"/>
<circle cx="73.7" cy="189.2" r="1.70" fill="#a52a2a"/>
<circle cx="113.1" cy="272.3" r="1.55" fill="#a8a8f8" stroke="#6b6bf2" stroke-width="1.0"/>
<circle cx="110.0" cy="269.6" r="1.55" fill="#a8a8f8" stroke="#6b6bf2" stroke-width="1.0"/>
<circle cx="112.1" cy="265.0" r="1.55" fill="#a8a8f8" stroke="#6b6bf2" stroke-width="1.0"/>
<circle cx="107.9" cy="264.1" r="1.55" fill="#a8a8f8" stroke="#6b6bf2" stroke-width="1.0"/>
<circle cx="111.0" cy="261.2" r="1.55" fill="#a8a8f8" stroke="#6b6bf2" stroke-width="1.0"/>
<circle cx="104.8" cy="260.6" r="1.55" fill="#a8a8f8" stroke="#6b6bf2" stroke-width="1.0"/>
<circle cx="107.9" cy="258.3" r="1.55" fill="#a8a8f8" stroke="#6b6bf2" stroke-width="1.0"/>
<circle cx="107.9" cy="253.8" r="1.55" fill="#a8a8f8" stroke="#6b6bf2" stroke-width="1.0"/>
<circle cx="114.2" cy="252.2" r="1.55" fill="#a8a8f8" stroke="#6b6bf2" stroke-width="1.0"/>
<circle cx="110.0" cy="250.6" r="1.55" fill="#a8a8f8" stroke="#6b6bf2" stroke-width="1.0"/>
<circle cx="114.2" cy="248.3" r="1.55" fill="#a8a8f8" stroke="#6b6bf2" stroke-width="1.0"/>
<circle cx="110.0" cy="246.6" r="1.55" fill="#a8a8f8" stroke="#6b6bf2" stroke-width="1.0"/>
<circle cx="110.0" cy="240.1" r="1.55" fill="#a8a8f8" stroke="#6b6bf2" stroke-width="1.0"/>
<circle cx="110.0" cy="236.1" r="1.55" fill="#a8a8f8" stroke="#6b6bf2" stroke-width="1.0"/>
<circle cx="110.0" cy="232.1" r="1.55" fill="#a8a8f8" stroke="#6b6bf2" stroke-width="1.0"/>
<circle cx="113.1" cy="228.1" r="1.55" fill="#a8a8f8" stroke="#6b6bf2" stroke-width="1.0"/>
<circle cx="110.0" cy="225.4" r="1.55" fill="#a8a8f8" stroke="#6b6bf2" stroke-width="1.0"/>
<circle cx="110.0" cy="220.0" r="1.55" fill="#a8a8f8" stroke="#6b6bf2" stroke-width="1.0"/>
<circle cx="111.0" cy="256.2" r="1.55" fill="#a8a8f8" stroke="#6b6bf2" stroke-width="1.0"/>
<circle cx="114.2" cy="258.9" r="1.55" fill="#a8a8f8" stroke="#6b6bf2" stroke-width="1.0"/>
<circle cx="110.0" cy="183.9" r="1.55" fill="#a8a8f8" stroke="#6b6bf2" stroke-width="1.0"/>
<rect x="148.8" y="271.3" width="3.5" height="3.5" rx="0.8" fill="#fbc48d"/>
<rect x="144.7" y="270.1" width="3.5" height="3.5" rx="0.8" fill="#fbc48d"/>
<rect x="140.5" y="266.8" width="3.5" height="3.5" rx="0.8" fill="#fbc48d"/>
<rect x="148.8" y="266.1" width="3.5" height="3.5" rx="0.8" fill="#fbc48d"/>
<rect x="144.7" y="265.3" width="3.5" height="3.5" rx="0.8" fill="#fbc48d"/>
<rect x="140.5" y="262.5" width="3.5" height="3.5" rx="0.8" fill="#fbc48d"/>
<rect x="148.8" y="262.2" width="3.5" height="3.5" rx="0.8" fill="#fbc48d"/>
<rect x="144.7" y="261.0" width="3.5" height="3.5" rx="0.8" fill="#fbc48d"/>
<rect x="141.5" y="258.3" width="3.5" height="3.5" rx="0.8" fill="#fbc48d"/>
<rect x="144.7" y="256.2" width="3.5" height="3.5" rx="0.8" fill="#fbc48d"/>
<rect x="148.8" y="256.5" width="3.5" height="3.5" rx="0.8" fill="#fbc48d"/>
<rect x="153.0" y="253.4" width="3.5" height="3.5" rx="0.8" fill="#fbc48d"/>
<rect x="140.5" y="253.2" width="3.5" height="3.5" rx="0.8" fill="#fbc48d"/>
<rect x="148.8" y="251.9" width="3.5" height="3.5" rx="0.8" fill="#fbc48d"/>
<rect x="143.6" y="250.5" width="3.5" height="3.5" rx="0.8" fill="#fbc48d"/>
<rect x="146.7" y="248.5" width="3.5" height="3.5" rx="0.8" fill="#fbc48d"/>
<rect x="140.5" y="246.0" width="3.5" height="3.5" rx="0.8" fill="#fbc48d"/>
<rect x="144.7" y="245.0" width="3.5" height="3.5" rx="0.8" fill="#fbc48d"/>
<rect x="138.4" y="242.7" width="3.5" height="3.5" rx="0.8" fill="#fbc48d"/>
<rect x="148.8" y="242.6" width="3.5" height="3.5" rx="0.8" fill="#fbc48d"/>
<rect x="142.6" y="240.9" width="3.5" height="3.5" rx="0.8" fill="#fbc48d"/>
<rect x="146.7" y="239.5" width="3.5" height="3.5" rx="0.8" fill="#fbc48d"/>
<rect x="144.7" y="236.5" width="3.5" height="3.5" rx="0.8" fill="#fbc48d"/>
<rect x="150.9" y="235.0" width="3.5" height="3.5" rx="0.8" fill="#fbc48d"/>
<rect x="140.5" y="234.8" width="3.5" height="3.5" rx="0.8" fill="#fbc48d"/>
<rect x="147.8" y="233.1" width="3.5" height="3.5" rx="0.8" fill="#fbc48d"/>
<rect x="143.6" y="231.9" width="3.5" height="3.5" rx="0.8" fill="#fbc48d"/>
<rect x="146.7" y="229.5" width="3.5" height="3.5" rx="0.8" fill="#fbc48d"/>
<rect x="150.9" y="229.5" width="3.5" height="3.5" rx="0.8" fill="#fbc48d"/>
<rect x="142.6" y="227.9" width="3.5" height="3.5" rx="0.8" fill="#fbc48d"/>
<rect x="148.8" y="225.7" width="3.5" height="3.5" rx="0.8" fill="#fbc48d"/>
<rect x="144.7" y="224.5" width="3.5" height="3.5" rx="0.8" fill="#fbc48d"/>
<rect x="148.8" y="221.7" width="3.5" height="3.5" rx="0.8" fill="#fbc48d"/>
<rect x="144.7" y="220.5" width="3.5" height="3.5" rx="0.8" fill="#fbc48d"/>
<rect x="144.7" y="204.1" width="3.5" height="3.5" rx="0.8" fill="#fbc48d"/>
<line x1="73.7" y1="255.4" x2="73.7" y2="214.1" stroke="#555" stroke-width="1.1"/>
<line x1="66.9" y1="255.4" x2="80.5" y2="255.4" stroke="#555" stroke-width="1.1"/>
<line x1="66.9" y1="214.1" x2="80.5" y2="214.1" stroke="#555" stroke-width="1.1"/>
<line x1="61.9" y1="234.8" x2="85.5" y2="234.8" stroke="#222" stroke-width="1.54"/>
<line x1="110.0" y1="269.1" x2="110.0" y2="226.7" stroke="#222" stroke-width="1.1"/>
<line x1="103.2" y1="269.1" x2="116.8" y2="269.1" stroke="#222" stroke-width="1.1"/>
<line x1="103.2" y1="226.7" x2="116.8" y2="226.7" stroke="#222" stroke-width="1.1"/>
<line x1="98.2" y1="248.2" x2="121.8" y2="248.2" stroke="#222" stroke-width="1.54"/>
<line x1="146.4" y1="264.3" x2="146.4" y2="233.4" stroke="#222" stroke-width="1.1"/>
<line x1="139.6" y1="264.3" x2="153.2" y2="264.3" stroke="#222" stroke-width="1.1"/>
<line x1="139.6" y1="233.4" x2="153.2" y2="233.4" stroke="#222" stroke-width="1.1"/>
<line x1="134.4" y1="249.0" x2="158.4" y2="249.0" stroke="#222" stroke-width="1.54"/>
<polyline points="73.7,183.4 73.7,173.2 110.0,173.2 110.0,178.6" fill="none" stroke="#000" stroke-width="0.7"/>
<text x="91.8" y="173.6" font-size="8.5" font-weight="bold" text-anchor="middle">*</text>
<polyline points="73.7,167.0 73.7,157.4 146.4,157.4 146.4,199.6" fill="none" stroke="#000" stroke-width="0.7"/>
<text x="110.1" y="158.0" font-size="8.5" font-weight="bold" text-anchor="middle">**</text>
<text x="198.0" y="165.0" font-size="13" font-weight="bold">c</text>
<line x1="258.8" y1="173.7" x2="258.8" y2="273.2" stroke="#000" stroke-width="1.1"/>
<line x1="254.3" y1="174.5" x2="258.8" y2="174.5" stroke="#000" stroke-width="1.1"/>
<text x="253.4" y="176.4" font-size="5.5" font-weight="bold" text-anchor="end">1500</text>
<line x1="254.3" y1="199.1" x2="258.8" y2="199.1" stroke="#000" stroke-width="1.1"/>
<text x="253.4" y="201.0" font-size="5.5" font-weight="bold" text-anchor="end">1000</text>
<line x1="254.3" y1="223.7" x2="258.8" y2="223.7" stroke="#000" stroke-width="1.1"/>
<text x="253.4" y="225.6" font-size="5.5" font-weight="bold" text-anchor="end">500</text>
<line x1="254.3" y1="248.3" x2="258.8" y2="248.3" stroke="#000" stroke-width="1.1"/>
<text x="253.4" y="250.2" font-size="5.5" font-weight="bold" text-anchor="end">0</text>
<line x1="254.3" y1="272.9" x2="258.8" y2="272.9" stroke="#000" stroke-width="1.1"/>
<text x="253.4" y="274.8" font-size="5.5" font-weight="bold" text-anchor="end">-500</text>
<line x1="258.3" y1="272.7" x2="370.0" y2="272.7" stroke="#000" stroke-width="1.1"/>
<line x1="282.0" y1="272.7" x2="282.0" y2="276.2" stroke="#000" stroke-width="1.1"/>
<text x="282.0" y="283.0" font-size="5.6" font-weight="bold" text-anchor="middle">MG</text>
<line x1="313.5" y1="272.7" x2="313.5" y2="276.2" stroke="#000" stroke-width="1.1"/>
<text x="313.5" y="283.0" font-size="5.6" font-weight="bold" text-anchor="middle">HC</text>
<line x1="345.5" y1="272.7" x2="345.5" y2="276.2" stroke="#000" stroke-width="1.1"/>
<text x="345.5" y="283.0" font-size="5.6" font-weight="bold" text-anchor="middle">MMS</text>
<text x="238.8" y="224.5" font-size="5.6" font-weight="bold" text-anchor="middle" transform="rotate(-90 238.8 224.5)">sCD40L Conc. (pg/mL)</text>
<circle cx="276.5" cy="234.8" r="2.00" fill="#a10e0e"/>
<circle cx="282.0" cy="217.8" r="2.00" fill="#a10e0e"/>
<circle cx="282.0" cy="206.2" r="2.00" fill="#a10e0e"/>
<circle cx="280.9" cy="221.5" r="2.00" fill="#a10e0e"/>
<circle cx="287.5" cy="237.1" r="2.00" fill="#a10e0e"/>
<circle cx="272.1" cy="223.2" r="2.00" fill="#a10e0e"/>
<circle cx="286.4" cy="227.4" r="2.00" fill="#a10e0e"/>
<circle cx="274.3" cy="229.9" r="2.00" fill="#a10e0e"/>
<circle cx="283.1" cy="236.9" r="2.00" fill="#a10e0e"/>
<circle cx="276.5" cy="222.0" r="2.00" fill="#a10e0e"/>
<circle cx="288.6" cy="223.1" r="2.00" fill="#a10e0e"/>
<circle cx="278.7" cy="228.4" r="2.00" fill="#a10e0e"/>
<circle cx="283.1" cy="230.1" r="2.00" fill="#a10e0e"/>
<circle cx="285.3" cy="233.6" r="2.00" fill="#a10e0e"/>
<circle cx="288.6" cy="211.1" r="2.00" fill="#a10e0e"/>
<circle cx="289.7" cy="229.7" r="2.00" fill="#a10e0e"/>
<circle cx="284.2" cy="209.4" r="2.00" fill="#a10e0e"/>
<circle cx="285.3" cy="220.1" r="2.00" fill="#a10e0e"/>
<circle cx="282.0" cy="226.3" r="2.00" fill="#a10e0e"/>
<circle cx="280.9" cy="233.3" r="2.00" fill="#a10e0e"/>
<circle cx="279.8" cy="209.6" r="2.00" fill="#a10e0e"/>
<circle cx="278.7" cy="238.0" r="2.00" fill="#a10e0e"/>
<circle cx="282.0" cy="199.1" r="2.00" fill="#a10e0e"/>
<circle cx="286.4" cy="200.1" r="2.00" fill="#a10e0e"/>
<circle cx="314.6" cy="242.4" r="2.00" fill="#8d8df5"/>
<circle cx="313.5" cy="233.9" r="2.00" fill="#8d8df5"/>
<circle cx="309.1" cy="243.7" r="2.00" fill="#8d8df5"/>
<circle cx="317.9" cy="239.8" r="2.00" fill="#8d8df5"/>
<circle cx="311.3" cy="240.4" r="2.00" fill="#8d8df5"/>
<circle cx="310.2" cy="236.6" r="2.00" fill="#8d8df5"/>
<circle cx="317.9" cy="230.4" r="2.00" fill="#8d8df5"/>
<circle cx="314.6" cy="237.8" r="2.00" fill="#8d8df5"/>
<circle cx="305.8" cy="231.6" r="2.00" fill="#8d8df5"/>
<circle cx="322.3" cy="240.9" r="2.00" fill="#8d8df5"/>
<circle cx="317.9" cy="235.7" r="2.00" fill="#8d8df5"/>
<circle cx="301.4" cy="232.5" r="2.00" fill="#8d8df5"/>
<circle cx="304.7" cy="242.0" r="2.00" fill="#8d8df5"/>
<circle cx="326.7" cy="234.0" r="2.00" fill="#8d8df5"/>
<circle cx="297.0" cy="234.2" r="2.00" fill="#8d8df5"/>
<circle cx="313.5" cy="228.9" r="2.00" fill="#8d8df5"/>
<circle cx="322.3" cy="232.4" r="2.00" fill="#8d8df5"/>
<circle cx="310.2" cy="231.0" r="2.00" fill="#8d8df5"/>
<circle cx="306.9" cy="238.7" r="2.00" fill="#8d8df5"/>
<circle cx="326.7" cy="242.8" r="2.00" fill="#8d8df5"/>
<circle cx="313.5" cy="213.9" r="2.00" fill="#8d8df5"/>
<circle cx="333.4" cy="241.3" r="2.00" fill="#fbbd80"/>
<circle cx="346.6" cy="239.9" r="2.00" fill="#fbbd80"/>
<circle cx="345.5" cy="243.7" r="2.00" fill="#fbbd80"/>
<circle cx="353.2" cy="240.2" r="2.00" fill="#fbbd80"/>
<circle cx="349.9" cy="237.5" r="2.00" fill="#fbbd80"/>
<circle cx="353.2" cy="235.5" r="2.00" fill="#fbbd80"/>
<circle cx="336.7" cy="239.0" r="2.00" fill="#fbbd80"/>
<circle cx="343.3" cy="237.4" r="2.00" fill="#fbbd80"/>
<circle cx="338.9" cy="235.7" r="2.00" fill="#fbbd80"/>
<circle cx="345.5" cy="230.6" r="2.00" fill="#fbbd80"/>
<circle cx="342.2" cy="233.6" r="2.00" fill="#fbbd80"/>
<circle cx="341.1" cy="240.8" r="2.00" fill="#fbbd80"/>
<circle cx="357.6" cy="241.3" r="2.00" fill="#fbbd80"/>
<circle cx="345.5" cy="225.1" r="2.00" fill="#fbbd80"/>
<circle cx="349.9" cy="232.5" r="2.00" fill="#fbbd80"/>
<circle cx="349.9" cy="226.2" r="2.00" fill="#fbbd80"/>
<circle cx="362.0" cy="241.8" r="2.00" fill="#fbbd80"/>
<circle cx="346.6" cy="234.7" r="2.00" fill="#fbbd80"/>
<circle cx="345.5" cy="195.7" r="2.00" fill="#fbbd80"/>
<circle cx="345.5" cy="207.5" r="2.00" fill="#fbbd80"/>
<circle cx="345.5" cy="220.7" r="2.00" fill="#fbbd80"/>
<line x1="282.0" y1="240.9" x2="282.0" y2="211.9" stroke="#222" stroke-width="1.1"/>
<line x1="275.5" y1="240.9" x2="288.5" y2="240.9" stroke="#222" stroke-width="1.1"/>
<line x1="275.5" y1="211.9" x2="288.5" y2="211.9" stroke="#222" stroke-width="1.1"/>
<line x1="269.5" y1="226.2" x2="294.5" y2="226.2" stroke="#222" stroke-width="1.54"/>
<line x1="313.5" y1="245.8" x2="313.5" y2="228.1" stroke="#222" stroke-width="1.1"/>
<line x1="307.0" y1="245.8" x2="320.0" y2="245.8" stroke="#222" stroke-width="1.1"/>
<line x1="307.0" y1="228.1" x2="320.0" y2="228.1" stroke="#222" stroke-width="1.1"/>
<line x1="301.0" y1="237.2" x2="326.0" y2="237.2" stroke="#222" stroke-width="1.54"/>
<line x1="345.5" y1="249.3" x2="345.5" y2="221.5" stroke="#222" stroke-width="1.1"/>
<line x1="339.0" y1="249.3" x2="352.0" y2="249.3" stroke="#222" stroke-width="1.1"/>
<line x1="339.0" y1="221.5" x2="352.0" y2="221.5" stroke="#222" stroke-width="1.1"/>
<line x1="333.0" y1="235.0" x2="358.0" y2="235.0" stroke="#222" stroke-width="1.54"/>
<polyline points="282.0,194.0 282.0,183.4 313.5,183.4 313.5,211.0" fill="none" stroke="#000" stroke-width="0.7"/>
<text x="297.8" y="182.0" font-size="7" font-weight="bold" text-anchor="middle">*</text>
<text x="404.0" y="164.0" font-size="13" font-weight="bold">d</text>
<polygon fill="#dcefff" points="464.3,230.6 470.1,230.1 475.9,229.6 481.7,229.0 487.5,228.3 493.2,227.4 499.0,226.5 504.8,225.5 510.6,224.4 516.3,223.2 522.1,221.9 527.9,220.5 533.7,219.0 539.4,217.4 545.2,215.7 551.0,213.9 556.8,212.0 562.6,210.1 568.3,208.0 574.1,205.8 579.9,203.5 585.7,201.2 591.4,198.7 597.2,196.2 603.0,193.5 608.8,190.7 614.6,187.9 620.3,185.0 626.1,181.9 631.9,178.8 631.9,218.5 626.1,218.4 620.3,218.4 614.6,218.5 608.8,218.7 603.0,219.1 597.2,219.5 591.4,220.0 585.7,220.6 579.9,221.3 574.1,222.1 568.3,223.0 562.6,223.9 556.8,225.0 551.0,226.2 545.2,227.5 539.4,228.9 533.7,230.3 527.9,231.9 522.1,233.6 516.3,235.3 510.6,237.2 504.8,239.1 499.0,241.2 493.2,243.3 487.5,245.6 481.7,247.9 475.9,250.3 470.1,252.9 464.3,255.5"/>
<line x1="464.3" y1="243.0" x2="631.9" y2="198.6" stroke="#3f6f92" stroke-width="1.3"/>
<circle cx="464.4" cy="265.4" r="1.60" fill="#3b86c6"/>
<circle cx="467.7" cy="214.8" r="1.60" fill="#3b86c6"/>
<circle cx="473.2" cy="233.9" r="1.60" fill="#5aa3d8"/>
<circle cx="473.2" cy="246.3" r="1.60" fill="#5aa3d8"/>
<circle cx="471.5" cy="252.7" r="1.60" fill="#5aa3d8"/>
<circle cx="475.4" cy="252.7" r="1.60" fill="#5aa3d8"/>
<circle cx="482.0" cy="246.3" r="1.60" fill="#5aa3d8"/>
<circle cx="486.3" cy="259.0" r="1.60" fill="#3b86c6"/>
<circle cx="490.0" cy="221.0" r="1.60" fill="#3b86c6"/>
<circle cx="496.9" cy="221.0" r="1.60" fill="#3b86c6"/>
<circle cx="503.2" cy="246.3" r="1.60" fill="#3b86c6"/>
<circle cx="509.3" cy="265.4" r="1.60" fill="#3b86c6"/>
<circle cx="537.8" cy="227.5" r="1.60" fill="#5aa3d8"/>
<circle cx="546.6" cy="177.0" r="1.60" fill="#3b86c6"/>
<circle cx="544.2" cy="189.4" r="1.60" fill="#3b86c6"/>
<circle cx="546.4" cy="189.4" r="1.60" fill="#3b86c6"/>
<circle cx="562.0" cy="195.8" r="1.60" fill="#3b86c6"/>
<circle cx="565.7" cy="195.8" r="1.60" fill="#3b86c6"/>
<circle cx="571.8" cy="240.0" r="1.60" fill="#3b86c6"/>
<circle cx="590.2" cy="233.6" r="1.60" fill="#3b86c6"/>
<circle cx="601.6" cy="202.0" r="1.60" fill="#5aa3d8"/>
<circle cx="613.2" cy="221.2" r="1.60" fill="#3b86c6"/>
<circle cx="625.9" cy="208.5" r="1.60" fill="#5aa3d8"/>
<circle cx="632.4" cy="208.5" r="1.60" fill="#3b86c6"/>
<rect x="456.8" y="159.2" width="184.8" height="110.8" fill="none" stroke="#000" stroke-width="1"/>
<line x1="454.5" y1="265.4" x2="456.8" y2="265.4" stroke="#000" stroke-width="0.8"/>
<text x="453.8" y="267.4" font-size="5.8" text-anchor="end" fill="#222">0</text>
<line x1="454.5" y1="233.9" x2="456.8" y2="233.9" stroke="#000" stroke-width="0.8"/>
<text x="453.8" y="235.9" font-size="5.8" text-anchor="end" fill="#222">5</text>
<line x1="454.5" y1="202.4" x2="456.8" y2="202.4" stroke="#000" stroke-width="0.8"/>
<text x="453.8" y="204.4" font-size="5.8" text-anchor="end" fill="#222">10</text>
<line x1="454.5" y1="170.9" x2="456.8" y2="170.9" stroke="#000" stroke-width="0.8"/>
<text x="453.8" y="172.9" font-size="5.8" text-anchor="end" fill="#222">15</text>
<line x1="492.9" y1="270.0" x2="492.9" y2="272.3" stroke="#000" stroke-width="0.8"/>
<text x="492.9" y="278.3" font-size="5.8" text-anchor="middle" fill="#222">250</text>
<line x1="540.5" y1="270.0" x2="540.5" y2="272.3" stroke="#000" stroke-width="0.8"/>
<text x="540.5" y="278.3" font-size="5.8" text-anchor="middle" fill="#222">500</text>
<line x1="588.1" y1="270.0" x2="588.1" y2="272.3" stroke="#000" stroke-width="0.8"/>
<text x="588.1" y="278.3" font-size="5.8" text-anchor="middle" fill="#222">750</text>
<line x1="635.7" y1="270.0" x2="635.7" y2="272.3" stroke="#000" stroke-width="0.8"/>
<text x="635.7" y="278.3" font-size="5.8" text-anchor="middle" fill="#222">1000</text>
<text x="476.5" y="168.8" font-size="5.9" font-style="italic" fill="#222" xml:space="preserve">R = 0.57 ,   p = 0.0034</text>
<text x="437.3" y="212.0" font-size="8" text-anchor="middle" transform="rotate(-90 437.3 212.0)">QMG</text>
<text x="550.5" y="290.0" font-size="8.6" text-anchor="middle">sCD40L Conc. in plasma (pg/mL)</text>
<text x="0.0" y="317.0" font-size="13" font-weight="bold">e</text>
<line x1="47.9" y1="311.4" x2="47.9" y2="429.5" stroke="#000" stroke-width="1.1"/>
<line x1="43.4" y1="429.0" x2="47.9" y2="429.0" stroke="#000" stroke-width="1.1"/>
<text x="42.5" y="430.9" font-size="4.8" text-anchor="end">0</text>
<line x1="43.4" y1="399.7" x2="47.9" y2="399.7" stroke="#000" stroke-width="1.1"/>
<text x="42.5" y="401.6" font-size="4.8" text-anchor="end">10</text>
<line x1="43.4" y1="370.4" x2="47.9" y2="370.4" stroke="#000" stroke-width="1.1"/>
<text x="42.5" y="372.3" font-size="4.8" text-anchor="end">20</text>
<line x1="43.4" y1="341.1" x2="47.9" y2="341.1" stroke="#000" stroke-width="1.1"/>
<text x="42.5" y="343.0" font-size="4.8" text-anchor="end">30</text>
<line x1="43.4" y1="311.8" x2="47.9" y2="311.8" stroke="#000" stroke-width="1.1"/>
<text x="42.5" y="313.7" font-size="4.8" text-anchor="end">40</text>
<line x1="47.4" y1="429.0" x2="170.0" y2="429.0" stroke="#000" stroke-width="1.1"/>
<line x1="82.6" y1="429.0" x2="82.6" y2="431.3" stroke="#000" stroke-width="1.1"/>
<text x="82.6" y="440.3" font-size="5.6" font-weight="bold" text-anchor="middle">APT</text>
<line x1="134.2" y1="429.0" x2="134.2" y2="431.3" stroke="#000" stroke-width="1.1"/>
<text x="134.2" y="440.3" font-size="5.6" font-weight="bold" text-anchor="middle">N-APT</text>
<text x="28.2" y="375.0" font-size="7.6" text-anchor="middle" transform="rotate(-90 28.2 375.0)">CD62P+ platelet %</text>
<rect x="80.9" y="376.4" width="3.5" height="3.5" fill="#b23b3b"/>
<rect x="73.9" y="386.3" width="3.5" height="3.5" fill="#b23b3b"/>
<rect x="80.9" y="387.5" width="3.5" height="3.5" fill="#b23b3b"/>
<rect x="88.1" y="387.0" width="3.5" height="3.5" fill="#b23b3b"/>
<rect x="80.9" y="393.7" width="3.5" height="3.5" fill="#b23b3b"/>
<rect x="80.9" y="408.6" width="3.5" height="3.5" fill="#b23b3b"/>
<rect x="80.9" y="412.4" width="3.5" height="3.5" fill="#b23b3b"/>
<rect x="80.9" y="421.0" width="3.5" height="3.5" fill="#b23b3b"/>
<polygon points="134.2,335.6 136.2,339.2 132.2,339.2" fill="#b23b3b"/>
<polygon points="127.8,347.0 129.8,350.7 125.8,350.7" fill="#b23b3b"/>
<polygon points="134.2,348.7 136.2,352.4 132.2,352.4" fill="#b23b3b"/>
<polygon points="140.9,347.0 142.9,350.7 138.9,350.7" fill="#b23b3b"/>
<polygon points="134.2,354.4 136.2,358.1 132.2,358.1" fill="#b23b3b"/>
<polygon points="127.8,357.9 129.8,361.6 125.8,361.6" fill="#b23b3b"/>
<polygon points="134.2,360.4 136.2,364.1 132.2,364.1" fill="#b23b3b"/>
<polygon points="127.8,365.4 129.8,369.0 125.8,369.0" fill="#b23b3b"/>
<polygon points="134.2,365.4 136.2,369.0 132.2,369.0" fill="#b23b3b"/>
<polygon points="140.9,365.4 142.9,369.0 138.9,369.0" fill="#b23b3b"/>
<polygon points="148.1,363.6 150.1,367.3 146.1,367.3" fill="#b23b3b"/>
<polygon points="120.8,374.3 122.8,378.0 118.8,378.0" fill="#b23b3b"/>
<polygon points="127.8,371.8 129.8,375.5 125.8,375.5" fill="#b23b3b"/>
<polygon points="134.2,371.8 136.2,375.5 132.2,375.5" fill="#b23b3b"/>
<polygon points="140.9,371.8 142.9,375.5 138.9,375.5" fill="#b23b3b"/>
<polygon points="127.8,377.3 129.8,380.9 125.8,380.9" fill="#b23b3b"/>
<polygon points="134.2,377.3 136.2,380.9 132.2,380.9" fill="#b23b3b"/>
<polygon points="148.1,377.3 150.1,380.9 146.1,380.9" fill="#b23b3b"/>
<polygon points="120.8,383.5 122.8,387.1 118.8,387.1" fill="#b23b3b"/>
<polygon points="127.8,383.5 129.8,387.1 125.8,387.1" fill="#b23b3b"/>
<polygon points="134.2,383.5 136.2,387.1 132.2,387.1" fill="#b23b3b"/>
<polygon points="140.9,383.5 142.9,387.1 138.9,387.1" fill="#b23b3b"/>
<polygon points="148.1,383.5 150.1,387.1 146.1,387.1" fill="#b23b3b"/>
<polygon points="120.8,391.7 122.8,395.3 118.8,395.3" fill="#b23b3b"/>
<polygon points="134.2,391.7 136.2,395.3 132.2,395.3" fill="#b23b3b"/>
<polygon points="148.1,391.7 150.1,395.3 146.1,395.3" fill="#b23b3b"/>
<polygon points="148.1,394.2 150.1,397.8 146.1,397.8" fill="#b23b3b"/>
<polygon points="127.8,398.4 129.8,402.0 125.8,402.0" fill="#b23b3b"/>
<polygon points="134.2,398.4 136.2,402.0 132.2,402.0" fill="#b23b3b"/>
<polygon points="140.9,398.4 142.9,402.0 138.9,402.0" fill="#b23b3b"/>
<polygon points="134.2,404.1 136.2,407.7 132.2,407.7" fill="#b23b3b"/>
<polygon points="127.8,407.6 129.8,411.2 125.8,411.2" fill="#b23b3b"/>
<polygon points="140.9,407.6 142.9,411.2 138.9,411.2" fill="#b23b3b"/>
<polygon points="131.5,415.7 133.5,419.4 129.5,419.4" fill="#b23b3b"/>
<polygon points="137.7,414.5 139.7,418.2 135.7,418.2" fill="#b23b3b"/>
<polygon points="134.2,420.7 136.2,424.4 132.2,424.4" fill="#b23b3b"/>
<polygon points="124.6,425.7 126.6,429.3 122.6,429.3" fill="#b23b3b"/>
<polygon points="131.5,424.4 133.5,428.1 129.5,428.1" fill="#b23b3b"/>
<polygon points="137.7,424.4 139.7,428.1 135.7,428.1" fill="#b23b3b"/>
<polygon points="143.9,424.9 145.9,428.6 141.9,428.6" fill="#b23b3b"/>
<line x1="82.6" y1="412.6" x2="82.6" y2="381.2" stroke="#777" stroke-width="1.1"/>
<line x1="74.1" y1="412.6" x2="91.1" y2="412.6" stroke="#777" stroke-width="1.1"/>
<line x1="74.1" y1="381.2" x2="91.1" y2="381.2" stroke="#777" stroke-width="1.1"/>
<line x1="65.6" y1="396.8" x2="99.6" y2="396.8" stroke="#111" stroke-width="1.54"/>
<line x1="134.2" y1="409.7" x2="134.2" y2="362.8" stroke="#c98a8a" stroke-width="1.0"/>
<line x1="126.5" y1="409.7" x2="142.7" y2="409.7" stroke="#d8a0a0" stroke-width="1.0"/>
<line x1="126.5" y1="362.8" x2="142.7" y2="362.8" stroke="#d8a0a0" stroke-width="1.0"/>
<line x1="117.9" y1="386.5" x2="151.4" y2="386.5" stroke="#111" stroke-width="1.4"/>
<polyline points="82.6,369.4 82.6,327.5 134.2,327.5 134.2,332.0" fill="none" stroke="#000" stroke-width="0.9"/>
<text x="109.2" y="323.6" font-size="6.4" text-anchor="middle"><tspan font-style="italic">p</tspan> = 0.216</text>
<text x="189.0" y="317.0" font-size="13" font-weight="bold">f</text>
<rect x="227.5" y="320.5" width="115.5" height="104.0" fill="#fff" stroke="#8a8a8a" stroke-width="0.7"/>
<line x1="243.2" y1="424.5" x2="243.2" y2="426.1" stroke="#222" stroke-width="0.5"/>
<line x1="244.6" y1="424.5" x2="244.6" y2="426.1" stroke="#222" stroke-width="0.5"/>
<line x1="246.0" y1="424.5" x2="246.0" y2="426.1" stroke="#222" stroke-width="0.5"/>
<line x1="247.4" y1="424.5" x2="247.4" y2="426.1" stroke="#222" stroke-width="0.5"/>
<line x1="248.8" y1="424.5" x2="248.8" y2="426.1" stroke="#222" stroke-width="0.5"/>
<line x1="250.2" y1="424.5" x2="250.2" y2="426.1" stroke="#222" stroke-width="0.5"/>
<line x1="251.6" y1="424.5" x2="251.6" y2="426.1" stroke="#222" stroke-width="0.5"/>
<line x1="253.0" y1="424.5" x2="253.0" y2="426.1" stroke="#222" stroke-width="0.5"/>
<line x1="254.4" y1="424.5" x2="254.4" y2="426.1" stroke="#222" stroke-width="0.5"/>
<line x1="225.7" y1="391.6" x2="227.5" y2="391.6" stroke="#222" stroke-width="0.5"/>
<line x1="225.7" y1="392.8" x2="227.5" y2="392.8" stroke="#222" stroke-width="0.5"/>
<line x1="225.7" y1="394.0" x2="227.5" y2="394.0" stroke="#222" stroke-width="0.5"/>
<line x1="225.7" y1="395.2" x2="227.5" y2="395.2" stroke="#222" stroke-width="0.5"/>
<line x1="225.7" y1="396.4" x2="227.5" y2="396.4" stroke="#222" stroke-width="0.5"/>
<line x1="225.7" y1="397.6" x2="227.5" y2="397.6" stroke="#222" stroke-width="0.5"/>
<line x1="225.7" y1="398.8" x2="227.5" y2="398.8" stroke="#222" stroke-width="0.5"/>
<line x1="225.3" y1="327.4" x2="227.5" y2="327.4" stroke="#333" stroke-width="0.6"/>
<text x="224.5" y="328.7" font-size="3.9" text-anchor="end" fill="#111">10<tspan font-size="2.8" dy="-1.5">5</tspan></text>
<line x1="225.3" y1="345.0" x2="227.5" y2="345.0" stroke="#333" stroke-width="0.6"/>
<text x="224.5" y="346.3" font-size="3.9" text-anchor="end" fill="#111">10<tspan font-size="2.8" dy="-1.5">4</tspan></text>
<line x1="225.3" y1="363.0" x2="227.5" y2="363.0" stroke="#333" stroke-width="0.6"/>
<text x="224.5" y="364.3" font-size="3.9" text-anchor="end" fill="#111">10<tspan font-size="2.8" dy="-1.5">3</tspan></text>
<line x1="225.3" y1="382.0" x2="227.5" y2="382.0" stroke="#333" stroke-width="0.6"/>
<text x="224.5" y="383.3" font-size="3.9" text-anchor="end" fill="#111">10<tspan font-size="2.8" dy="-1.5">2</tspan></text>
<line x1="225.3" y1="394.6" x2="227.5" y2="394.6" stroke="#333" stroke-width="0.6"/>
<text x="224.5" y="395.9" font-size="3.9" text-anchor="end" fill="#111">0</text>
<line x1="225.3" y1="409.3" x2="227.5" y2="409.3" stroke="#333" stroke-width="0.6"/>
<text x="224.5" y="410.6" font-size="3.9" text-anchor="end" fill="#111">-10<tspan font-size="2.8" dy="-1.5">2</tspan></text>
<line x1="250.2" y1="424.5" x2="250.2" y2="426.7" stroke="#333" stroke-width="0.6"/>
<text x="250.2" y="431.7" font-size="3.9" text-anchor="middle" fill="#111">0</text>
<line x1="293.2" y1="424.5" x2="293.2" y2="426.7" stroke="#333" stroke-width="0.6"/>
<text x="293.2" y="431.7" font-size="3.9" text-anchor="middle" fill="#111">10<tspan font-size="2.8" dy="-1.5">3</tspan></text>
<line x1="315.3" y1="424.5" x2="315.3" y2="426.7" stroke="#333" stroke-width="0.6"/>
<text x="315.3" y="431.7" font-size="3.9" text-anchor="middle" fill="#111">10<tspan font-size="2.8" dy="-1.5">4</tspan></text>
<line x1="335.8" y1="424.5" x2="335.8" y2="426.7" stroke="#333" stroke-width="0.6"/>
<text x="335.8" y="431.7" font-size="3.9" text-anchor="middle" fill="#111">10<tspan font-size="2.8" dy="-1.5">5</tspan></text>
<line x1="226.3" y1="326.5" x2="227.5" y2="326.5" stroke="#555" stroke-width="0.4"/>
<line x1="226.3" y1="333.7" x2="227.5" y2="333.7" stroke="#555" stroke-width="0.4"/>
<line x1="226.3" y1="341.0" x2="227.5" y2="341.0" stroke="#555" stroke-width="0.4"/>
<line x1="226.3" y1="348.2" x2="227.5" y2="348.2" stroke="#555" stroke-width="0.4"/>
<line x1="226.3" y1="355.4" x2="227.5" y2="355.4" stroke="#555" stroke-width="0.4"/>
<line x1="226.3" y1="362.7" x2="227.5" y2="362.7" stroke="#555" stroke-width="0.4"/>
<line x1="226.3" y1="369.9" x2="227.5" y2="369.9" stroke="#555" stroke-width="0.4"/>
<line x1="226.3" y1="377.1" x2="227.5" y2="377.1" stroke="#555" stroke-width="0.4"/>
<line x1="226.3" y1="384.3" x2="227.5" y2="384.3" stroke="#555" stroke-width="0.4"/>
<line x1="226.3" y1="391.6" x2="227.5" y2="391.6" stroke="#555" stroke-width="0.4"/>
<line x1="226.3" y1="398.8" x2="227.5" y2="398.8" stroke="#555" stroke-width="0.4"/>
<line x1="226.3" y1="406.0" x2="227.5" y2="406.0" stroke="#555" stroke-width="0.4"/>
<line x1="226.3" y1="413.3" x2="227.5" y2="413.3" stroke="#555" stroke-width="0.4"/>
<line x1="226.3" y1="420.5" x2="227.5" y2="420.5" stroke="#555" stroke-width="0.4"/>
<line x1="232.5" y1="424.5" x2="232.5" y2="425.7" stroke="#555" stroke-width="0.4"/>
<line x1="237.6" y1="424.5" x2="237.6" y2="425.7" stroke="#555" stroke-width="0.4"/>
<line x1="242.7" y1="424.5" x2="242.7" y2="425.7" stroke="#555" stroke-width="0.4"/>
<line x1="247.9" y1="424.5" x2="247.9" y2="425.7" stroke="#555" stroke-width="0.4"/>
<line x1="253.0" y1="424.5" x2="253.0" y2="425.7" stroke="#555" stroke-width="0.4"/>
<line x1="258.1" y1="424.5" x2="258.1" y2="425.7" stroke="#555" stroke-width="0.4"/>
<line x1="263.2" y1="424.5" x2="263.2" y2="425.7" stroke="#555" stroke-width="0.4"/>
<line x1="268.3" y1="424.5" x2="268.3" y2="425.7" stroke="#555" stroke-width="0.4"/>
<line x1="273.5" y1="424.5" x2="273.5" y2="425.7" stroke="#555" stroke-width="0.4"/>
<line x1="278.6" y1="424.5" x2="278.6" y2="425.7" stroke="#555" stroke-width="0.4"/>
<line x1="283.7" y1="424.5" x2="283.7" y2="425.7" stroke="#555" stroke-width="0.4"/>
<line x1="288.8" y1="424.5" x2="288.8" y2="425.7" stroke="#555" stroke-width="0.4"/>
<line x1="293.9" y1="424.5" x2="293.9" y2="425.7" stroke="#555" stroke-width="0.4"/>
<line x1="299.0" y1="424.5" x2="299.0" y2="425.7" stroke="#555" stroke-width="0.4"/>
<line x1="304.2" y1="424.5" x2="304.2" y2="425.7" stroke="#555" stroke-width="0.4"/>
<line x1="309.3" y1="424.5" x2="309.3" y2="425.7" stroke="#555" stroke-width="0.4"/>
<line x1="314.4" y1="424.5" x2="314.4" y2="425.7" stroke="#555" stroke-width="0.4"/>
<line x1="319.5" y1="424.5" x2="319.5" y2="425.7" stroke="#555" stroke-width="0.4"/>
<line x1="324.6" y1="424.5" x2="324.6" y2="425.7" stroke="#555" stroke-width="0.4"/>
<line x1="329.8" y1="424.5" x2="329.8" y2="425.7" stroke="#555" stroke-width="0.4"/>
<line x1="334.9" y1="424.5" x2="334.9" y2="425.7" stroke="#555" stroke-width="0.4"/>
<line x1="340.0" y1="424.5" x2="340.0" y2="425.7" stroke="#555" stroke-width="0.4"/>
<g shape-rendering="crispEdges"><path fill="#0000ff" d="M275 323h1v1h-1zM268 326h1v1h-1zM271 326h1v1h-1zM259 328h2v1h-2zM262 329h1v1h-1zM235 330h1v1h-1zM296 330h1v1h-1zM247 331h1v1h-1zM281 331h1v1h-1zM247 332h1v1h-1zM256 332h1v1h-1zM271 332h1v1h-1zM273 332h1v1h-1zM282 332h1v1h-1zM256 333h1v1h-1zM258 333h1v1h-1zM265 333h1v1h-1zM268 333h1v1h-1zM273 333h1v1h-1zM276 333h1v1h-1zM278 333h3v1h-3zM325 333h1v1h-1zM259 334h1v1h-1zM268 334h1v1h-1zM270 334h2v1h-2zM275 334h1v1h-1zM280 334h2v1h-2zM283 334h1v1h-1zM296 334h1v1h-1zM246 335h1v1h-1zM249 335h1v1h-1zM257 335h3v1h-3zM264 335h3v1h-3zM268 335h1v1h-1zM270 335h2v1h-2zM273 335h1v1h-1zM275 335h1v1h-1zM280 335h1v1h-1zM282 335h1v1h-1zM284 335h1v1h-1zM322 335h1v1h-1zM249 336h1v1h-1zM252 336h1v1h-1zM258 336h1v1h-1zM268 336h1v1h-1zM274 336h2v1h-2zM278 336h3v1h-3zM282 336h1v1h-1zM284 336h2v1h-2zM295 336h1v1h-1zM315 336h1v1h-1zM318 336h1v1h-1zM336 336h1v1h-1zM248 337h1v1h-1zM257 337h1v1h-1zM260 337h1v1h-1zM262 337h1v1h-1zM265 337h1v1h-1zM267 337h1v1h-1zM271 337h1v1h-1zM273 337h1v1h-1zM280 337h1v1h-1zM282 337h1v1h-1zM285 337h1v1h-1zM287 337h1v1h-1zM302 337h1v1h-1zM310 337h1v1h-1zM313 337h1v1h-1zM317 337h1v1h-1zM329 337h1v1h-1zM241 338h1v1h-1zM246 338h1v1h-1zM254 338h2v1h-2zM276 338h2v1h-2zM280 338h4v1h-4zM285 338h3v1h-3zM291 338h1v1h-1zM240 339h1v1h-1zM242 339h1v1h-1zM250 339h2v1h-2zM276 339h4v1h-4zM281 339h3v1h-3zM286 339h2v1h-2zM300 339h1v1h-1zM314 339h1v1h-1zM325 339h1v1h-1zM329 339h1v1h-1zM332 339h1v1h-1zM244 340h2v1h-2zM248 340h1v1h-1zM250 340h1v1h-1zM283 340h4v1h-4zM289 340h1v1h-1zM292 340h2v1h-2zM297 340h1v1h-1zM301 340h1v1h-1zM303 340h1v1h-1zM305 340h2v1h-2zM313 340h1v1h-1zM315 340h1v1h-1zM321 340h1v1h-1zM324 340h1v1h-1zM331 340h1v1h-1zM240 341h3v1h-3zM245 341h1v1h-1zM247 341h1v1h-1zM284 341h2v1h-2zM287 341h2v1h-2zM296 341h1v1h-1zM298 341h1v1h-1zM302 341h1v1h-1zM307 341h1v1h-1zM319 341h2v1h-2zM235 342h1v1h-1zM241 342h1v1h-1zM244 342h4v1h-4zM285 342h1v1h-1zM287 342h4v1h-4zM295 342h1v1h-1zM297 342h2v1h-2zM301 342h1v1h-1zM304 342h1v1h-1zM309 342h1v1h-1zM314 342h1v1h-1zM317 342h1v1h-1zM325 342h1v1h-1zM338 342h1v1h-1zM240 343h4v1h-4zM245 343h1v1h-1zM288 343h1v1h-1zM294 343h1v1h-1zM296 343h10v1h-10zM312 343h1v1h-1zM315 343h3v1h-3zM323 343h2v1h-2zM327 343h1v1h-1zM340 343h1v1h-1zM234 344h1v1h-1zM239 344h1v1h-1zM287 344h5v1h-5zM293 344h3v1h-3zM297 344h1v1h-1zM299 344h2v1h-2zM304 344h2v1h-2zM307 344h2v1h-2zM311 344h4v1h-4zM316 344h1v1h-1zM319 344h1v1h-1zM325 344h1v1h-1zM237 345h1v1h-1zM241 345h3v1h-3zM286 345h2v1h-2zM289 345h1v1h-1zM291 345h4v1h-4zM296 345h6v1h-6zM304 345h3v1h-3zM312 345h2v1h-2zM315 345h1v1h-1zM319 345h1v1h-1zM241 346h1v1h-1zM244 346h1v1h-1zM287 346h3v1h-3zM293 346h2v1h-2zM300 346h1v1h-1zM302 346h5v1h-5zM308 346h2v1h-2zM313 346h1v1h-1zM319 346h1v1h-1zM322 346h1v1h-1zM326 346h1v1h-1zM334 346h1v1h-1zM236 347h1v1h-1zM240 347h1v1h-1zM245 347h1v1h-1zM288 347h4v1h-4zM301 347h3v1h-3zM306 347h1v1h-1zM308 347h1v1h-1zM310 347h2v1h-2zM314 347h2v1h-2zM317 347h4v1h-4zM325 347h1v1h-1zM329 347h1v1h-1zM239 348h1v1h-1zM242 348h2v1h-2zM247 348h1v1h-1zM290 348h3v1h-3zM301 348h1v1h-1zM303 348h1v1h-1zM305 348h1v1h-1zM307 348h1v1h-1zM314 348h1v1h-1zM319 348h1v1h-1zM328 348h1v1h-1zM332 348h1v1h-1zM242 349h1v1h-1zM247 349h1v1h-1zM300 349h2v1h-2zM303 349h5v1h-5zM312 349h1v1h-1zM315 349h1v1h-1zM317 349h1v1h-1zM321 349h1v1h-1zM324 349h1v1h-1zM329 349h1v1h-1zM331 349h1v1h-1zM237 350h1v1h-1zM241 350h1v1h-1zM244 350h4v1h-4zM299 350h1v1h-1zM302 350h2v1h-2zM305 350h7v1h-7zM314 350h1v1h-1zM316 350h1v1h-1zM319 350h1v1h-1zM321 350h4v1h-4zM337 350h1v1h-1zM245 351h2v1h-2zM248 351h1v1h-1zM300 351h1v1h-1zM302 351h5v1h-5zM309 351h3v1h-3zM313 351h2v1h-2zM316 351h1v1h-1zM318 351h1v1h-1zM321 351h2v1h-2zM333 351h1v1h-1zM234 352h1v1h-1zM243 352h1v1h-1zM247 352h1v1h-1zM300 352h4v1h-4zM306 352h1v1h-1zM309 352h2v1h-2zM312 352h1v1h-1zM314 352h1v1h-1zM322 352h1v1h-1zM324 352h2v1h-2zM329 352h1v1h-1zM238 353h2v1h-2zM241 353h2v1h-2zM247 353h1v1h-1zM249 353h1v1h-1zM301 353h1v1h-1zM303 353h7v1h-7zM311 353h3v1h-3zM316 353h1v1h-1zM321 353h1v1h-1zM324 353h1v1h-1zM326 353h1v1h-1zM239 354h2v1h-2zM243 354h1v1h-1zM245 354h2v1h-2zM249 354h2v1h-2zM301 354h1v1h-1zM303 354h2v1h-2zM306 354h1v1h-1zM310 354h1v1h-1zM314 354h1v1h-1zM317 354h1v1h-1zM323 354h1v1h-1zM326 354h1v1h-1zM244 355h1v1h-1zM248 355h2v1h-2zM293 355h1v1h-1zM295 355h2v1h-2zM302 355h4v1h-4zM307 355h1v1h-1zM309 355h1v1h-1zM319 355h3v1h-3zM242 356h1v1h-1zM247 356h1v1h-1zM251 356h1v1h-1zM292 356h1v1h-1zM294 356h3v1h-3zM298 356h5v1h-5zM304 356h1v1h-1zM308 356h1v1h-1zM317 356h1v1h-1zM319 356h3v1h-3zM324 356h1v1h-1zM240 357h1v1h-1zM246 357h3v1h-3zM251 357h2v1h-2zM293 357h1v1h-1zM299 357h3v1h-3zM303 357h4v1h-4zM311 357h1v1h-1zM317 357h1v1h-1zM325 357h1v1h-1zM241 358h1v1h-1zM249 358h1v1h-1zM252 358h1v1h-1zM293 358h5v1h-5zM299 358h1v1h-1zM304 358h3v1h-3zM308 358h1v1h-1zM310 358h3v1h-3zM319 358h1v1h-1zM322 358h1v1h-1zM234 359h1v1h-1zM250 359h1v1h-1zM253 359h2v1h-2zM294 359h1v1h-1zM297 359h2v1h-2zM304 359h3v1h-3zM310 359h1v1h-1zM314 359h2v1h-2zM320 359h1v1h-1zM237 360h1v1h-1zM241 360h1v1h-1zM248 360h1v1h-1zM251 360h3v1h-3zM292 360h6v1h-6zM299 360h1v1h-1zM305 360h4v1h-4zM318 360h1v1h-1zM250 361h1v1h-1zM252 361h1v1h-1zM255 361h2v1h-2zM287 361h1v1h-1zM289 361h1v1h-1zM292 361h4v1h-4zM297 361h1v1h-1zM306 361h3v1h-3zM310 361h2v1h-2zM319 361h1v1h-1zM247 362h1v1h-1zM251 362h1v1h-1zM254 362h1v1h-1zM285 362h1v1h-1zM290 362h3v1h-3zM294 362h1v1h-1zM296 362h2v1h-2zM306 362h1v1h-1zM309 362h2v1h-2zM256 363h2v1h-2zM285 363h3v1h-3zM290 363h1v1h-1zM292 363h1v1h-1zM294 363h4v1h-4zM306 363h3v1h-3zM312 363h1v1h-1zM314 363h1v1h-1zM327 363h1v1h-1zM254 364h5v1h-5zM287 364h3v1h-3zM291 364h3v1h-3zM295 364h3v1h-3zM306 364h2v1h-2zM317 364h1v1h-1zM256 365h2v1h-2zM259 365h1v1h-1zM283 365h1v1h-1zM290 365h1v1h-1zM292 365h6v1h-6zM304 365h4v1h-4zM309 365h3v1h-3zM313 365h1v1h-1zM332 365h1v1h-1zM249 366h1v1h-1zM257 366h1v1h-1zM259 366h1v1h-1zM281 366h3v1h-3zM285 366h1v1h-1zM287 366h1v1h-1zM292 366h7v1h-7zM304 366h5v1h-5zM313 366h1v1h-1zM316 366h1v1h-1zM255 367h1v1h-1zM257 367h2v1h-2zM260 367h2v1h-2zM281 367h1v1h-1zM284 367h1v1h-1zM288 367h1v1h-1zM292 367h1v1h-1zM294 367h3v1h-3zM298 367h2v1h-2zM304 367h1v1h-1zM307 367h1v1h-1zM309 367h1v1h-1zM314 367h1v1h-1zM316 367h1v1h-1zM242 368h1v1h-1zM255 368h1v1h-1zM258 368h1v1h-1zM260 368h2v1h-2zM283 368h1v1h-1zM286 368h1v1h-1zM291 368h1v1h-1zM293 368h1v1h-1zM297 368h3v1h-3zM305 368h3v1h-3zM309 368h1v1h-1zM312 368h1v1h-1zM283 369h1v1h-1zM286 369h2v1h-2zM293 369h1v1h-1zM296 369h1v1h-1zM298 369h1v1h-1zM300 369h4v1h-4zM305 369h1v1h-1zM307 369h2v1h-2zM310 369h2v1h-2zM319 369h1v1h-1zM260 370h1v1h-1zM263 370h1v1h-1zM281 370h2v1h-2zM285 370h1v1h-1zM296 370h1v1h-1zM298 370h1v1h-1zM303 370h4v1h-4zM308 370h1v1h-1zM313 370h1v1h-1zM261 371h2v1h-2zM279 371h1v1h-1zM281 371h1v1h-1zM284 371h1v1h-1zM299 371h5v1h-5zM305 371h1v1h-1zM307 371h1v1h-1zM311 371h1v1h-1zM313 371h2v1h-2zM249 372h1v1h-1zM263 372h2v1h-2zM279 372h2v1h-2zM297 372h1v1h-1zM300 372h2v1h-2zM303 372h6v1h-6zM314 372h1v1h-1zM261 373h2v1h-2zM264 373h1v1h-1zM281 373h3v1h-3zM304 373h2v1h-2zM307 373h1v1h-1zM263 374h3v1h-3zM279 374h2v1h-2zM299 374h1v1h-1zM302 374h1v1h-1zM305 374h1v1h-1zM312 374h1v1h-1zM318 374h1v1h-1zM258 375h1v1h-1zM260 375h4v1h-4zM266 375h1v1h-1zM277 375h2v1h-2zM301 375h1v1h-1zM306 375h2v1h-2zM309 375h1v1h-1zM311 375h1v1h-1zM314 375h1v1h-1zM316 375h1v1h-1zM261 376h1v1h-1zM272 376h1v1h-1zM275 376h3v1h-3zM283 376h1v1h-1zM299 376h1v1h-1zM305 376h1v1h-1zM317 376h2v1h-2zM264 377h1v1h-1zM266 377h7v1h-7zM274 377h1v1h-1zM276 377h1v1h-1zM279 377h2v1h-2zM306 377h1v1h-1zM310 377h1v1h-1zM242 378h1v1h-1zM265 378h1v1h-1zM268 378h1v1h-1zM270 378h1v1h-1zM272 378h4v1h-4zM281 378h1v1h-1zM294 378h1v1h-1zM301 378h1v1h-1zM303 378h1v1h-1zM308 378h2v1h-2zM266 379h1v1h-1zM269 379h2v1h-2zM274 379h1v1h-1zM276 379h1v1h-1zM280 379h1v1h-1zM294 379h1v1h-1zM245 380h1v1h-1zM262 380h2v1h-2zM265 380h1v1h-1zM268 380h1v1h-1zM271 380h2v1h-2zM275 380h1v1h-1zM279 380h2v1h-2zM318 380h1v1h-1zM260 381h1v1h-1zM266 381h3v1h-3zM271 381h1v1h-1zM317 381h1v1h-1zM327 381h1v1h-1zM264 382h1v1h-1zM272 382h1v1h-1zM274 382h4v1h-4zM280 382h2v1h-2zM289 382h1v1h-1zM294 382h1v1h-1zM307 382h1v1h-1zM312 382h2v1h-2zM270 383h1v1h-1zM333 383h1v1h-1zM274 385h2v1h-2zM259 387h1v1h-1z"/><path fill="#002aff" d="M256 338h2v1h-2zM261 338h1v1h-1zM263 338h4v1h-4zM268 338h1v1h-1zM270 338h3v1h-3zM253 339h7v1h-7zM261 339h2v1h-2zM266 339h2v1h-2zM269 339h7v1h-7zM252 340h1v1h-1zM254 340h2v1h-2zM273 340h1v1h-1zM275 340h1v1h-1zM277 340h1v1h-1zM280 340h2v1h-2zM251 341h2v1h-2zM276 341h7v1h-7zM248 342h4v1h-4zM279 342h4v1h-4zM246 343h1v1h-1zM248 343h3v1h-3zM281 343h4v1h-4zM245 344h1v1h-1zM247 344h4v1h-4zM282 344h1v1h-1zM284 344h1v1h-1zM244 345h7v1h-7zM282 345h4v1h-4zM245 346h7v1h-7zM283 346h2v1h-2zM295 346h2v1h-2zM299 346h1v1h-1zM246 347h1v1h-1zM248 347h4v1h-4zM282 347h5v1h-5zM294 347h7v1h-7zM248 348h3v1h-3zM281 348h9v1h-9zM294 348h1v1h-1zM296 348h2v1h-2zM299 348h2v1h-2zM248 349h6v1h-6zM281 349h7v1h-7zM289 349h2v1h-2zM292 349h6v1h-6zM299 349h1v1h-1zM248 350h4v1h-4zM253 350h2v1h-2zM281 350h2v1h-2zM284 350h11v1h-11zM296 350h3v1h-3zM249 351h2v1h-2zM252 351h2v1h-2zM255 351h1v1h-1zM281 351h5v1h-5zM288 351h2v1h-2zM291 351h8v1h-8zM249 352h3v1h-3zM253 352h1v1h-1zM255 352h1v1h-1zM282 352h6v1h-6zM289 352h3v1h-3zM293 352h5v1h-5zM299 352h1v1h-1zM250 353h1v1h-1zM252 353h6v1h-6zM282 353h19v1h-19zM251 354h7v1h-7zM282 354h11v1h-11zM294 354h7v1h-7zM252 355h1v1h-1zM254 355h4v1h-4zM282 355h1v1h-1zM284 355h7v1h-7zM292 355h1v1h-1zM297 355h4v1h-4zM252 356h6v1h-6zM284 356h4v1h-4zM289 356h3v1h-3zM254 357h5v1h-5zM282 357h3v1h-3zM286 357h4v1h-4zM254 358h5v1h-5zM281 358h10v1h-10zM300 358h3v1h-3zM255 359h4v1h-4zM281 359h3v1h-3zM285 359h3v1h-3zM289 359h3v1h-3zM300 359h3v1h-3zM257 360h3v1h-3zM281 360h1v1h-1zM284 360h4v1h-4zM289 360h3v1h-3zM301 360h4v1h-4zM257 361h4v1h-4zM281 361h6v1h-6zM291 361h1v1h-1zM299 361h3v1h-3zM303 361h3v1h-3zM258 362h4v1h-4zM280 362h5v1h-5zM299 362h6v1h-6zM258 363h3v1h-3zM281 363h3v1h-3zM299 363h3v1h-3zM303 363h1v1h-1zM305 363h1v1h-1zM259 364h1v1h-1zM261 364h2v1h-2zM279 364h4v1h-4zM298 364h2v1h-2zM301 364h4v1h-4zM260 365h4v1h-4zM278 365h2v1h-2zM281 365h1v1h-1zM299 365h3v1h-3zM262 366h2v1h-2zM277 366h3v1h-3zM300 366h4v1h-4zM262 367h3v1h-3zM277 367h2v1h-2zM280 367h1v1h-1zM300 367h4v1h-4zM262 368h4v1h-4zM277 368h3v1h-3zM301 368h2v1h-2zM263 369h4v1h-4zM276 369h4v1h-4zM264 370h1v1h-1zM266 370h3v1h-3zM275 370h3v1h-3zM279 370h1v1h-1zM265 371h7v1h-7zM273 371h6v1h-6zM266 372h12v1h-12zM266 373h13v1h-13zM267 374h9v1h-9zM277 374h1v1h-1zM267 375h7v1h-7zM275 375h1v1h-1zM269 376h1v1h-1z"/><path fill="#0055ff" d="M264 339h2v1h-2zM257 340h7v1h-7zM266 340h7v1h-7zM253 341h4v1h-4zM272 341h4v1h-4zM252 342h2v1h-2zM275 342h4v1h-4zM251 343h2v1h-2zM277 343h4v1h-4zM251 344h2v1h-2zM278 344h4v1h-4zM251 345h2v1h-2zM278 345h4v1h-4zM252 346h1v1h-1zM278 346h4v1h-4zM252 347h2v1h-2zM278 347h4v1h-4zM253 348h2v1h-2zM277 348h4v1h-4zM254 349h2v1h-2zM277 349h4v1h-4zM255 350h3v1h-3zM278 350h3v1h-3zM256 351h4v1h-4zM278 351h3v1h-3zM257 352h3v1h-3zM279 352h3v1h-3zM258 353h3v1h-3zM279 353h3v1h-3zM258 354h3v1h-3zM279 354h3v1h-3zM258 355h3v1h-3zM280 355h2v1h-2zM258 356h3v1h-3zM280 356h2v1h-2zM259 357h2v1h-2zM280 357h2v1h-2zM259 358h2v1h-2zM280 358h1v1h-1zM259 359h3v1h-3zM280 359h1v1h-1zM260 360h2v1h-2zM279 360h2v1h-2zM261 361h2v1h-2zM279 361h2v1h-2zM262 362h2v1h-2zM278 362h2v1h-2zM262 363h2v1h-2zM278 363h2v1h-2zM263 364h2v1h-2zM277 364h2v1h-2zM264 365h2v1h-2zM277 365h1v1h-1zM264 366h3v1h-3zM275 366h2v1h-2zM265 367h3v1h-3zM274 367h3v1h-3zM266 368h4v1h-4zM272 368h5v1h-5zM267 369h9v1h-9zM270 370h5v1h-5zM272 371h1v1h-1z"/><path fill="#007fff" d="M264 340h2v1h-2zM257 341h5v1h-5zM267 341h5v1h-5zM254 342h3v1h-3zM272 342h3v1h-3zM253 343h2v1h-2zM274 343h3v1h-3zM253 344h1v1h-1zM276 344h2v1h-2zM253 345h1v1h-1zM276 345h2v1h-2zM253 346h2v1h-2zM276 346h2v1h-2zM254 347h1v1h-1zM276 347h2v1h-2zM255 348h1v1h-1zM275 348h2v1h-2zM256 349h3v1h-3zM275 349h2v1h-2zM258 350h4v1h-4zM276 350h2v1h-2zM260 351h3v1h-3zM277 351h1v1h-1zM260 352h3v1h-3zM278 352h1v1h-1zM261 353h2v1h-2zM278 353h1v1h-1zM261 354h1v1h-1zM278 354h1v1h-1zM261 355h1v1h-1zM279 355h1v1h-1zM261 356h2v1h-2zM279 356h1v1h-1zM261 357h2v1h-2zM279 357h1v1h-1zM261 358h2v1h-2zM279 358h1v1h-1zM262 359h1v1h-1zM279 359h1v1h-1zM262 360h2v1h-2zM278 360h1v1h-1zM263 361h1v1h-1zM278 361h1v1h-1zM264 362h1v1h-1zM277 362h1v1h-1zM264 363h2v1h-2zM276 363h2v1h-2zM265 364h2v1h-2zM275 364h2v1h-2zM266 365h2v1h-2zM274 365h2v1h-2zM267 366h2v1h-2zM273 366h2v1h-2zM268 367h6v1h-6zM270 368h2v1h-2z"/><path fill="#00aaff" d="M262 341h5v1h-5zM257 342h3v1h-3zM270 342h2v1h-2zM255 343h2v1h-2zM272 343h2v1h-2zM254 344h2v1h-2zM274 344h2v1h-2zM254 345h2v1h-2zM275 345h1v1h-1zM255 346h1v1h-1zM275 346h1v1h-1zM255 347h2v1h-2zM274 347h2v1h-2zM256 348h4v1h-4zM274 348h1v1h-1zM259 349h5v1h-5zM274 349h1v1h-1zM262 350h3v1h-3zM275 350h1v1h-1zM263 351h2v1h-2zM275 351h2v1h-2zM263 352h2v1h-2zM276 352h2v1h-2zM263 353h1v1h-1zM277 353h1v1h-1zM262 354h2v1h-2zM262 355h2v1h-2zM278 355h1v1h-1zM263 356h1v1h-1zM278 356h1v1h-1zM263 357h1v1h-1zM278 357h1v1h-1zM263 358h1v1h-1zM278 358h1v1h-1zM263 359h1v1h-1zM278 359h1v1h-1zM264 360h1v1h-1zM264 361h2v1h-2zM277 361h1v1h-1zM265 362h2v1h-2zM276 362h1v1h-1zM266 363h1v1h-1zM275 363h1v1h-1zM267 364h1v1h-1zM274 364h1v1h-1zM268 365h2v1h-2zM272 365h2v1h-2zM269 366h4v1h-4z"/><path fill="#00d4ff" d="M260 342h3v1h-3zM267 342h3v1h-3zM257 343h2v1h-2zM270 343h2v1h-2zM256 344h2v1h-2zM272 344h2v1h-2zM256 345h1v1h-1zM273 345h2v1h-2zM256 346h1v1h-1zM273 346h2v1h-2zM257 347h3v1h-3zM273 347h1v1h-1zM260 348h4v1h-4zM273 348h1v1h-1zM264 349h3v1h-3zM273 349h1v1h-1zM265 350h4v1h-4zM273 350h2v1h-2zM265 351h3v1h-3zM274 351h1v1h-1zM265 352h2v1h-2zM275 352h1v1h-1zM264 353h1v1h-1zM276 353h1v1h-1zM264 354h1v1h-1zM277 354h1v1h-1zM277 355h1v1h-1zM264 358h1v1h-1zM264 359h1v1h-1zM277 359h1v1h-1zM265 360h1v1h-1zM277 360h1v1h-1zM266 361h1v1h-1zM267 363h1v1h-1zM268 364h2v1h-2zM273 364h1v1h-1zM270 365h2v1h-2z"/><path fill="#00ffff" d="M263 342h4v1h-4zM259 343h3v1h-3zM268 343h2v1h-2zM258 344h2v1h-2zM270 344h2v1h-2zM257 345h2v1h-2zM271 345h2v1h-2zM257 346h4v1h-4zM269 346h4v1h-4zM260 347h4v1h-4zM268 347h5v1h-5zM264 348h9v1h-9zM267 349h6v1h-6zM269 350h4v1h-4zM268 351h3v1h-3zM272 351h2v1h-2zM267 352h2v1h-2zM274 352h1v1h-1zM265 353h2v1h-2zM275 353h1v1h-1zM265 354h1v1h-1zM276 354h1v1h-1zM264 355h1v1h-1zM264 356h1v1h-1zM277 356h1v1h-1zM264 357h1v1h-1zM277 357h1v1h-1zM277 358h1v1h-1zM265 359h1v1h-1zM276 361h1v1h-1zM267 362h1v1h-1zM275 362h1v1h-1zM268 363h1v1h-1zM274 363h1v1h-1zM270 364h3v1h-3z"/><path fill="#2affd4" d="M262 343h2v1h-2zM266 343h2v1h-2zM260 344h2v1h-2zM268 344h2v1h-2zM259 345h3v1h-3zM268 345h2v1h-2zM261 346h2v1h-2zM267 346h2v1h-2zM264 347h4v1h-4zM271 351h1v1h-1zM269 352h2v1h-2zM273 352h1v1h-1zM267 353h1v1h-1zM274 353h1v1h-1zM266 354h1v1h-1zM265 355h1v1h-1zM276 355h1v1h-1zM265 356h1v1h-1zM265 357h1v1h-1zM265 358h1v1h-1zM276 359h1v1h-1zM266 360h1v1h-1zM276 360h1v1h-1zM267 361h1v1h-1zM275 361h1v1h-1zM268 362h1v1h-1zM274 362h1v1h-1zM269 363h1v1h-1zM272 363h2v1h-2z"/><path fill="#55ffaa" d="M264 343h2v1h-2zM262 344h2v1h-2zM266 344h2v1h-2zM262 345h2v1h-2zM266 345h2v1h-2zM263 346h4v1h-4zM271 352h2v1h-2zM268 353h1v1h-1zM267 354h1v1h-1zM275 354h1v1h-1zM266 355h1v1h-1zM276 356h1v1h-1zM276 357h1v1h-1zM276 358h1v1h-1zM266 359h1v1h-1zM267 360h1v1h-1zM270 363h2v1h-2z"/><path fill="#7fff7f" d="M264 344h2v1h-2zM264 345h2v1h-2zM269 353h2v1h-2zM272 353h2v1h-2zM268 354h1v1h-1zM274 354h1v1h-1zM267 355h1v1h-1zM275 355h1v1h-1zM266 356h1v1h-1zM266 357h1v1h-1zM266 358h1v1h-1zM275 360h1v1h-1zM268 361h1v1h-1zM269 362h1v1h-1zM273 362h1v1h-1z"/><path fill="#00ffd4" d="M270 345h1v1h-1z"/><path fill="#aaff55" d="M271 353h1v1h-1zM267 356h1v1h-1zM275 356h1v1h-1zM267 359h1v1h-1zM275 359h1v1h-1zM274 361h1v1h-1zM270 362h3v1h-3z"/><path fill="#d4ff2a" d="M269 354h1v1h-1zM273 354h1v1h-1zM268 355h1v1h-1zM274 355h1v1h-1zM267 357h1v1h-1zM275 357h1v1h-1zM267 358h1v1h-1zM275 358h1v1h-1zM268 360h1v1h-1zM269 361h1v1h-1z"/><path fill="#ffff00" d="M270 354h3v1h-3zM268 356h1v1h-1zM268 359h1v1h-1zM274 360h1v1h-1zM270 361h1v1h-1zM273 361h1v1h-1z"/><path fill="#ffd400" d="M269 355h1v1h-1zM273 355h1v1h-1zM274 356h1v1h-1zM268 357h1v1h-1zM268 358h1v1h-1zM274 359h1v1h-1zM269 360h1v1h-1zM271 361h2v1h-2z"/><path fill="#ffaa00" d="M270 355h1v1h-1zM272 355h1v1h-1zM274 357h1v1h-1zM274 358h1v1h-1zM273 360h1v1h-1z"/><path fill="#ff7f00" d="M271 355h1v1h-1zM269 356h1v1h-1zM273 356h1v1h-1zM269 359h1v1h-1zM270 360h1v1h-1z"/><path fill="#ff2a00" d="M270 356h3v1h-3zM273 358h1v1h-1zM270 359h1v1h-1z"/><path fill="#ff5500" d="M269 357h1v1h-1zM273 357h1v1h-1zM269 358h1v1h-1zM273 359h1v1h-1zM271 360h2v1h-2z"/><path fill="#ff0000" d="M270 357h1v1h-1zM272 357h1v1h-1zM270 358h1v1h-1zM271 359h2v1h-2z"/><path fill="#d40000" d="M271 357h1v1h-1zM271 358h2v1h-2z"/></g>
<rect x="293.4" y="357.4" width="20.6" height="19.1" fill="none" stroke="#333" stroke-width="0.8"/>
<text x="285.0" y="393.3" font-size="3.8" text-anchor="middle" fill="#222">Free Plt</text>
<text x="287.0" y="400.2" font-size="3.8" text-anchor="middle" fill="#222">1.36</text>
<line x1="209.3" y1="419.8" x2="209.3" y2="334.3" stroke="#000" stroke-width="1.2"/>
<polygon points="206.1,335.3 212.5,335.3 209.3,329.3" fill="#000"/>
<text x="201.0" y="406.5" font-size="8.5" text-anchor="middle" transform="rotate(-90 201.0 406.5)">CD45</text>
<line x1="233.7" y1="438.4" x2="323.6" y2="438.4" stroke="#000" stroke-width="1.2"/>
<polygon points="322.6,435.2 322.6,441.6 328.6,438.4" fill="#000"/>
<text x="233.6" y="451.5" font-size="8.5">CD61</text>
<text x="360.3" y="316.3" font-size="13" font-weight="bold">g</text>
<line x1="401.2" y1="316.4" x2="401.2" y2="439.0" stroke="#000" stroke-width="1.1"/>
<line x1="398.9" y1="415.1" x2="401.2" y2="415.1" stroke="#000" stroke-width="1.1"/>
<text x="396.5" y="416.9" font-size="5.0" font-weight="bold" text-anchor="end">2<tspan font-size="3.2" dy="-2">13</tspan></text>
<line x1="398.9" y1="382.5" x2="401.2" y2="382.5" stroke="#000" stroke-width="1.1"/>
<text x="396.5" y="384.3" font-size="5.0" font-weight="bold" text-anchor="end">2<tspan font-size="3.2" dy="-2">14</tspan></text>
<line x1="398.9" y1="349.9" x2="401.2" y2="349.9" stroke="#000" stroke-width="1.1"/>
<text x="396.5" y="351.7" font-size="5.0" font-weight="bold" text-anchor="end">2<tspan font-size="3.2" dy="-2">15</tspan></text>
<line x1="398.9" y1="317.3" x2="401.2" y2="317.3" stroke="#000" stroke-width="1.1"/>
<text x="396.5" y="319.1" font-size="5.0" font-weight="bold" text-anchor="end">2<tspan font-size="3.2" dy="-2">16</tspan></text>
<line x1="400.7" y1="438.5" x2="529.0" y2="438.5" stroke="#000" stroke-width="1.1"/>
<line x1="426.5" y1="438.5" x2="426.5" y2="442.0" stroke="#000" stroke-width="1.1"/>
<text x="426.5" y="449.3" font-size="5.6" font-weight="bold" text-anchor="middle">nMG</text>
<line x1="464.8" y1="438.5" x2="464.8" y2="442.0" stroke="#000" stroke-width="1.1"/>
<text x="464.8" y="449.3" font-size="5.6" font-weight="bold" text-anchor="middle">HC</text>
<line x1="502.6" y1="438.5" x2="502.6" y2="442.0" stroke="#000" stroke-width="1.1"/>
<text x="502.6" y="449.3" font-size="5.6" font-weight="bold" text-anchor="middle">MMS</text>
<text x="381.6" y="379.5" font-size="6.0" font-weight="bold" text-anchor="middle" transform="rotate(-90 381.6 379.5)">Platelet FSC</text>
<circle cx="426.5" cy="407.5" r="1.70" fill="#a52a2a"/>
<circle cx="429.6" cy="403.9" r="1.70" fill="#a52a2a"/>
<circle cx="419.2" cy="400.8" r="1.70" fill="#a52a2a"/>
<circle cx="433.8" cy="404.8" r="1.70" fill="#a52a2a"/>
<circle cx="426.5" cy="411.6" r="1.70" fill="#a52a2a"/>
<circle cx="426.5" cy="392.8" r="1.70" fill="#a52a2a"/>
<circle cx="433.8" cy="415.9" r="1.70" fill="#a52a2a"/>
<circle cx="419.2" cy="409.9" r="1.70" fill="#a52a2a"/>
<circle cx="423.4" cy="404.0" r="1.70" fill="#a52a2a"/>
<circle cx="426.5" cy="417.6" r="1.70" fill="#a52a2a"/>
<circle cx="429.6" cy="414.3" r="1.70" fill="#a52a2a"/>
<circle cx="426.5" cy="397.5" r="1.70" fill="#a52a2a"/>
<circle cx="422.3" cy="397.9" r="1.70" fill="#a52a2a"/>
<circle cx="438.0" cy="401.7" r="1.70" fill="#a52a2a"/>
<circle cx="429.6" cy="394.8" r="1.70" fill="#a52a2a"/>
<circle cx="430.7" cy="398.7" r="1.70" fill="#a52a2a"/>
<circle cx="433.8" cy="410.6" r="1.70" fill="#a52a2a"/>
<circle cx="426.5" cy="401.5" r="1.70" fill="#a52a2a"/>
<circle cx="423.4" cy="409.5" r="1.70" fill="#a52a2a"/>
<circle cx="434.9" cy="398.8" r="1.70" fill="#a52a2a"/>
<circle cx="430.7" cy="408.3" r="1.70" fill="#a52a2a"/>
<circle cx="423.4" cy="414.4" r="1.70" fill="#a52a2a"/>
<circle cx="430.7" cy="340.6" r="1.70" fill="#a52a2a"/>
<circle cx="424.4" cy="351.3" r="1.70" fill="#a52a2a"/>
<circle cx="426.5" cy="348.2" r="1.70" fill="#a52a2a"/>
<circle cx="428.6" cy="358.7" r="1.70" fill="#a52a2a"/>
<circle cx="422.3" cy="346.0" r="1.70" fill="#a52a2a"/>
<circle cx="423.4" cy="365.1" r="1.70" fill="#a52a2a"/>
<circle cx="424.4" cy="358.4" r="1.70" fill="#a52a2a"/>
<circle cx="427.5" cy="387.1" r="1.70" fill="#a52a2a"/>
<circle cx="432.8" cy="359.0" r="1.70" fill="#a52a2a"/>
<circle cx="426.5" cy="344.2" r="1.70" fill="#a52a2a"/>
<circle cx="429.6" cy="350.4" r="1.70" fill="#a52a2a"/>
<circle cx="430.7" cy="344.8" r="1.70" fill="#a52a2a"/>
<circle cx="426.5" cy="362.3" r="1.70" fill="#a52a2a"/>
<circle cx="426.5" cy="340.4" r="1.70" fill="#a52a2a"/>
<circle cx="430.7" cy="384.5" r="1.70" fill="#a52a2a"/>
<circle cx="422.3" cy="340.7" r="1.70" fill="#a52a2a"/>
<circle cx="426.5" cy="369.5" r="1.70" fill="#a52a2a"/>
<circle cx="423.4" cy="385.5" r="1.70" fill="#a52a2a"/>
<circle cx="426.5" cy="355.3" r="1.70" fill="#a52a2a"/>
<circle cx="429.6" cy="364.7" r="1.70" fill="#a52a2a"/>
<circle cx="433.8" cy="366.2" r="1.70" fill="#a52a2a"/>
<circle cx="434.9" cy="342.0" r="1.70" fill="#a52a2a"/>
<circle cx="426.5" cy="382.8" r="1.70" fill="#a52a2a"/>
<circle cx="430.7" cy="355.5" r="1.70" fill="#a52a2a"/>
<circle cx="426.5" cy="330.3" r="1.70" fill="#a52a2a"/>
<circle cx="462.7" cy="380.3" r="1.55" fill="#a8a8f8" stroke="#6b6bf2" stroke-width="1.0"/>
<circle cx="469.0" cy="372.4" r="1.55" fill="#a8a8f8" stroke="#6b6bf2" stroke-width="1.0"/>
<circle cx="472.1" cy="374.4" r="1.55" fill="#a8a8f8" stroke="#6b6bf2" stroke-width="1.0"/>
<circle cx="464.8" cy="399.4" r="1.55" fill="#a8a8f8" stroke="#6b6bf2" stroke-width="1.0"/>
<circle cx="460.6" cy="373.5" r="1.55" fill="#a8a8f8" stroke="#6b6bf2" stroke-width="1.0"/>
<circle cx="464.8" cy="349.6" r="1.55" fill="#a8a8f8" stroke="#6b6bf2" stroke-width="1.0"/>
<circle cx="467.9" cy="396.9" r="1.55" fill="#a8a8f8" stroke="#6b6bf2" stroke-width="1.0"/>
<circle cx="464.8" cy="407.8" r="1.55" fill="#a8a8f8" stroke="#6b6bf2" stroke-width="1.0"/>
<circle cx="464.8" cy="404.0" r="1.55" fill="#a8a8f8" stroke="#6b6bf2" stroke-width="1.0"/>
<circle cx="464.8" cy="377.1" r="1.55" fill="#a8a8f8" stroke="#6b6bf2" stroke-width="1.0"/>
<circle cx="469.0" cy="341.9" r="1.55" fill="#a8a8f8" stroke="#6b6bf2" stroke-width="1.0"/>
<circle cx="469.0" cy="405.6" r="1.55" fill="#a8a8f8" stroke="#6b6bf2" stroke-width="1.0"/>
<circle cx="464.8" cy="340.7" r="1.55" fill="#a8a8f8" stroke="#6b6bf2" stroke-width="1.0"/>
<circle cx="464.8" cy="371.9" r="1.55" fill="#a8a8f8" stroke="#6b6bf2" stroke-width="1.0"/>
<circle cx="469.0" cy="400.4" r="1.55" fill="#a8a8f8" stroke="#6b6bf2" stroke-width="1.0"/>
<circle cx="467.9" cy="379.9" r="1.55" fill="#a8a8f8" stroke="#6b6bf2" stroke-width="1.0"/>
<circle cx="464.8" cy="394.4" r="1.55" fill="#a8a8f8" stroke="#6b6bf2" stroke-width="1.0"/>
<circle cx="464.8" cy="359.7" r="1.55" fill="#a8a8f8" stroke="#6b6bf2" stroke-width="1.0"/>
<circle cx="469.0" cy="333.6" r="1.55" fill="#a8a8f8" stroke="#6b6bf2" stroke-width="1.0"/>
<circle cx="464.8" cy="332.0" r="1.55" fill="#a8a8f8" stroke="#6b6bf2" stroke-width="1.0"/>
<circle cx="462.7" cy="335.2" r="1.55" fill="#a8a8f8" stroke="#6b6bf2" stroke-width="1.0"/>
<rect x="500.9" y="377.5" width="3.5" height="3.5" rx="0.8" fill="#fbc48d"/>
<rect x="500.9" y="397.3" width="3.5" height="3.5" rx="0.8" fill="#fbc48d"/>
<rect x="504.0" y="399.9" width="3.5" height="3.5" rx="0.8" fill="#fbc48d"/>
<rect x="496.7" y="352.0" width="3.5" height="3.5" rx="0.8" fill="#fbc48d"/>
<rect x="500.9" y="359.9" width="3.5" height="3.5" rx="0.8" fill="#fbc48d"/>
<rect x="505.0" y="385.7" width="3.5" height="3.5" rx="0.8" fill="#fbc48d"/>
<rect x="497.7" y="388.1" width="3.5" height="3.5" rx="0.8" fill="#fbc48d"/>
<rect x="493.5" y="362.2" width="3.5" height="3.5" rx="0.8" fill="#fbc48d"/>
<rect x="500.9" y="343.9" width="3.5" height="3.5" rx="0.8" fill="#fbc48d"/>
<rect x="505.0" y="413.6" width="3.5" height="3.5" rx="0.8" fill="#fbc48d"/>
<rect x="500.9" y="407.4" width="3.5" height="3.5" rx="0.8" fill="#fbc48d"/>
<rect x="510.3" y="391.5" width="3.5" height="3.5" rx="0.8" fill="#fbc48d"/>
<rect x="504.0" y="380.1" width="3.5" height="3.5" rx="0.8" fill="#fbc48d"/>
<rect x="496.7" y="414.3" width="3.5" height="3.5" rx="0.8" fill="#fbc48d"/>
<rect x="508.2" y="415.7" width="3.5" height="3.5" rx="0.8" fill="#fbc48d"/>
<rect x="500.9" y="402.7" width="3.5" height="3.5" rx="0.8" fill="#fbc48d"/>
<rect x="506.1" y="389.7" width="3.5" height="3.5" rx="0.8" fill="#fbc48d"/>
<rect x="497.7" y="362.0" width="3.5" height="3.5" rx="0.8" fill="#fbc48d"/>
<rect x="500.9" y="372.2" width="3.5" height="3.5" rx="0.8" fill="#fbc48d"/>
<rect x="500.9" y="417.6" width="3.5" height="3.5" rx="0.8" fill="#fbc48d"/>
<rect x="493.5" y="416.3" width="3.5" height="3.5" rx="0.8" fill="#fbc48d"/>
<rect x="500.9" y="384.5" width="3.5" height="3.5" rx="0.8" fill="#fbc48d"/>
<rect x="500.9" y="351.4" width="3.5" height="3.5" rx="0.8" fill="#fbc48d"/>
<rect x="498.8" y="348.3" width="3.5" height="3.5" rx="0.8" fill="#fbc48d"/>
<rect x="495.6" y="391.3" width="3.5" height="3.5" rx="0.8" fill="#fbc48d"/>
<rect x="505.0" y="350.4" width="3.5" height="3.5" rx="0.8" fill="#fbc48d"/>
<rect x="502.9" y="347.2" width="3.5" height="3.5" rx="0.8" fill="#fbc48d"/>
<rect x="501.9" y="388.1" width="3.5" height="3.5" rx="0.8" fill="#fbc48d"/>
<rect x="505.0" y="361.5" width="3.5" height="3.5" rx="0.8" fill="#fbc48d"/>
<rect x="499.8" y="391.3" width="3.5" height="3.5" rx="0.8" fill="#fbc48d"/>
<rect x="505.0" y="407.9" width="3.5" height="3.5" rx="0.8" fill="#fbc48d"/>
<rect x="504.0" y="374.9" width="3.5" height="3.5" rx="0.8" fill="#fbc48d"/>
<rect x="500.9" y="413.1" width="3.5" height="3.5" rx="0.8" fill="#fbc48d"/>
<rect x="500.9" y="368.0" width="3.5" height="3.5" rx="0.8" fill="#fbc48d"/>
<rect x="500.9" y="336.7" width="3.5" height="3.5" rx="0.8" fill="#fbc48d"/>
<line x1="426.5" y1="414.4" x2="426.5" y2="357.1" stroke="#555" stroke-width="1.1"/>
<line x1="419.7" y1="414.4" x2="433.3" y2="414.4" stroke="#555" stroke-width="1.1"/>
<line x1="419.7" y1="357.1" x2="433.3" y2="357.1" stroke="#555" stroke-width="1.1"/>
<line x1="413.9" y1="377.6" x2="439.1" y2="377.6" stroke="#222" stroke-width="1.54"/>
<line x1="464.8" y1="392.7" x2="464.8" y2="342.1" stroke="#555" stroke-width="1.1"/>
<line x1="458.0" y1="392.7" x2="471.6" y2="392.7" stroke="#555" stroke-width="1.1"/>
<line x1="458.0" y1="342.1" x2="471.6" y2="342.1" stroke="#555" stroke-width="1.1"/>
<line x1="452.2" y1="361.0" x2="477.4" y2="361.0" stroke="#222" stroke-width="1.54"/>
<line x1="502.6" y1="401.4" x2="502.6" y2="357.0" stroke="#555" stroke-width="1.1"/>
<line x1="495.8" y1="401.4" x2="509.4" y2="401.4" stroke="#555" stroke-width="1.1"/>
<line x1="495.8" y1="357.0" x2="509.4" y2="357.0" stroke="#555" stroke-width="1.1"/>
<line x1="490.0" y1="374.2" x2="515.2" y2="374.2" stroke="#222" stroke-width="1.54"/>
<polyline points="426.5,328.4 426.5,318.0 464.8,318.0 464.8,325.3" fill="none" stroke="#000" stroke-width="0.7"/>
<text x="445.6" y="316.0" font-size="7" font-weight="bold" text-anchor="middle">*</text>
<text x="532.3" y="318.1" font-size="14.5" font-weight="bold">h</text>
<line x1="572.5" y1="324.6" x2="572.5" y2="439.0" stroke="#000" stroke-width="1.1"/>
<line x1="570.2" y1="438.5" x2="572.5" y2="438.5" stroke="#000" stroke-width="1.1"/>
<text x="568.0" y="440.3" font-size="5.0" font-weight="bold" text-anchor="end">2<tspan font-size="3.2" dy="-2">9</tspan></text>
<line x1="570.2" y1="419.5" x2="572.5" y2="419.5" stroke="#000" stroke-width="1.1"/>
<text x="568.0" y="421.3" font-size="5.0" font-weight="bold" text-anchor="end">2<tspan font-size="3.2" dy="-2">10</tspan></text>
<line x1="570.2" y1="400.5" x2="572.5" y2="400.5" stroke="#000" stroke-width="1.1"/>
<text x="568.0" y="402.3" font-size="5.0" font-weight="bold" text-anchor="end">2<tspan font-size="3.2" dy="-2">11</tspan></text>
<line x1="570.2" y1="381.5" x2="572.5" y2="381.5" stroke="#000" stroke-width="1.1"/>
<text x="568.0" y="383.3" font-size="5.0" font-weight="bold" text-anchor="end">2<tspan font-size="3.2" dy="-2">12</tspan></text>
<line x1="570.2" y1="362.5" x2="572.5" y2="362.5" stroke="#000" stroke-width="1.1"/>
<text x="568.0" y="364.3" font-size="5.0" font-weight="bold" text-anchor="end">2<tspan font-size="3.2" dy="-2">13</tspan></text>
<line x1="570.2" y1="343.5" x2="572.5" y2="343.5" stroke="#000" stroke-width="1.1"/>
<text x="568.0" y="345.3" font-size="5.0" font-weight="bold" text-anchor="end">2<tspan font-size="3.2" dy="-2">14</tspan></text>
<line x1="570.2" y1="324.5" x2="572.5" y2="324.5" stroke="#000" stroke-width="1.1"/>
<text x="568.0" y="326.3" font-size="5.0" font-weight="bold" text-anchor="end">2<tspan font-size="3.2" dy="-2">15</tspan></text>
<line x1="572.0" y1="438.5" x2="685.0" y2="438.5" stroke="#000" stroke-width="1.1"/>
<line x1="594.7" y1="438.5" x2="594.7" y2="442.0" stroke="#000" stroke-width="1.1"/>
<text x="594.7" y="449.3" font-size="5.6" font-weight="bold" text-anchor="middle">nMG</text>
<line x1="627.9" y1="438.5" x2="627.9" y2="442.0" stroke="#000" stroke-width="1.1"/>
<text x="627.9" y="449.3" font-size="5.6" font-weight="bold" text-anchor="middle">HC</text>
<line x1="661.6" y1="438.5" x2="661.6" y2="442.0" stroke="#000" stroke-width="1.1"/>
<text x="661.6" y="449.3" font-size="5.6" font-weight="bold" text-anchor="middle">MMS</text>
<text x="555.4" y="383.0" font-size="5.8" font-weight="bold" text-anchor="middle" transform="rotate(-90 555.4 383.0)">Platelet SSC</text>
<circle cx="594.7" cy="363.1" r="1.70" fill="#a52a2a"/>
<circle cx="596.8" cy="356.4" r="1.70" fill="#a52a2a"/>
<circle cx="610.4" cy="385.7" r="1.70" fill="#a52a2a"/>
<circle cx="588.4" cy="406.4" r="1.70" fill="#a52a2a"/>
<circle cx="605.2" cy="357.2" r="1.70" fill="#a52a2a"/>
<circle cx="593.7" cy="359.2" r="1.70" fill="#a52a2a"/>
<circle cx="598.9" cy="353.1" r="1.70" fill="#a52a2a"/>
<circle cx="598.9" cy="376.6" r="1.70" fill="#a52a2a"/>
<circle cx="602.0" cy="371.6" r="1.70" fill="#a52a2a"/>
<circle cx="586.3" cy="390.4" r="1.70" fill="#a52a2a"/>
<circle cx="594.7" cy="402.3" r="1.70" fill="#a52a2a"/>
<circle cx="591.6" cy="395.5" r="1.70" fill="#a52a2a"/>
<circle cx="594.7" cy="368.6" r="1.70" fill="#a52a2a"/>
<circle cx="598.9" cy="393.4" r="1.70" fill="#a52a2a"/>
<circle cx="590.5" cy="370.4" r="1.70" fill="#a52a2a"/>
<circle cx="590.5" cy="382.3" r="1.70" fill="#a52a2a"/>
<circle cx="583.2" cy="385.6" r="1.70" fill="#a52a2a"/>
<circle cx="594.7" cy="353.1" r="1.70" fill="#a52a2a"/>
<circle cx="590.5" cy="403.4" r="1.70" fill="#a52a2a"/>
<circle cx="586.3" cy="383.3" r="1.70" fill="#a52a2a"/>
<circle cx="603.1" cy="403.8" r="1.70" fill="#a52a2a"/>
<circle cx="591.6" cy="355.0" r="1.70" fill="#a52a2a"/>
<circle cx="602.0" cy="383.2" r="1.70" fill="#a52a2a"/>
<circle cx="594.7" cy="393.0" r="1.70" fill="#a52a2a"/>
<circle cx="598.9" cy="403.2" r="1.70" fill="#a52a2a"/>
<circle cx="594.7" cy="376.5" r="1.70" fill="#a52a2a"/>
<circle cx="598.9" cy="388.8" r="1.70" fill="#a52a2a"/>
<circle cx="595.7" cy="405.8" r="1.70" fill="#a52a2a"/>
<circle cx="598.9" cy="411.8" r="1.70" fill="#a52a2a"/>
<circle cx="603.1" cy="389.3" r="1.70" fill="#a52a2a"/>
<circle cx="590.5" cy="377.2" r="1.70" fill="#a52a2a"/>
<circle cx="598.9" cy="381.3" r="1.70" fill="#a52a2a"/>
<circle cx="583.2" cy="357.4" r="1.70" fill="#a52a2a"/>
<circle cx="587.4" cy="356.6" r="1.70" fill="#a52a2a"/>
<circle cx="602.0" cy="355.1" r="1.70" fill="#a52a2a"/>
<circle cx="598.9" cy="363.7" r="1.70" fill="#a52a2a"/>
<circle cx="606.2" cy="383.9" r="1.70" fill="#a52a2a"/>
<circle cx="594.7" cy="381.0" r="1.70" fill="#a52a2a"/>
<circle cx="590.5" cy="388.9" r="1.70" fill="#a52a2a"/>
<circle cx="594.7" cy="388.7" r="1.70" fill="#a52a2a"/>
<circle cx="594.7" cy="411.2" r="1.70" fill="#a52a2a"/>
<circle cx="590.5" cy="363.7" r="1.70" fill="#a52a2a"/>
<circle cx="594.7" cy="398.4" r="1.70" fill="#a52a2a"/>
<circle cx="590.5" cy="412.0" r="1.70" fill="#a52a2a"/>
<circle cx="595.7" cy="384.6" r="1.70" fill="#a52a2a"/>
<circle cx="598.9" cy="368.8" r="1.70" fill="#a52a2a"/>
<circle cx="594.7" cy="334.0" r="1.70" fill="#a52a2a"/>
<circle cx="594.7" cy="345.4" r="1.70" fill="#a52a2a"/>
<circle cx="627.9" cy="380.8" r="1.55" fill="#a8a8f8" stroke="#6b6bf2" stroke-width="1.0"/>
<circle cx="623.7" cy="385.3" r="1.55" fill="#a8a8f8" stroke="#6b6bf2" stroke-width="1.0"/>
<circle cx="627.9" cy="366.8" r="1.55" fill="#a8a8f8" stroke="#6b6bf2" stroke-width="1.0"/>
<circle cx="627.9" cy="397.9" r="1.55" fill="#a8a8f8" stroke="#6b6bf2" stroke-width="1.0"/>
<circle cx="621.6" cy="407.4" r="1.55" fill="#a8a8f8" stroke="#6b6bf2" stroke-width="1.0"/>
<circle cx="632.1" cy="371.0" r="1.55" fill="#a8a8f8" stroke="#6b6bf2" stroke-width="1.0"/>
<circle cx="627.9" cy="374.8" r="1.55" fill="#a8a8f8" stroke="#6b6bf2" stroke-width="1.0"/>
<circle cx="627.9" cy="353.8" r="1.55" fill="#a8a8f8" stroke="#6b6bf2" stroke-width="1.0"/>
<circle cx="632.1" cy="382.0" r="1.55" fill="#a8a8f8" stroke="#6b6bf2" stroke-width="1.0"/>
<circle cx="627.9" cy="358.8" r="1.55" fill="#a8a8f8" stroke="#6b6bf2" stroke-width="1.0"/>
<circle cx="625.8" cy="407.0" r="1.55" fill="#a8a8f8" stroke="#6b6bf2" stroke-width="1.0"/>
<circle cx="631.0" cy="406.4" r="1.55" fill="#a8a8f8" stroke="#6b6bf2" stroke-width="1.0"/>
<circle cx="627.9" cy="370.6" r="1.55" fill="#a8a8f8" stroke="#6b6bf2" stroke-width="1.0"/>
<circle cx="627.9" cy="393.9" r="1.55" fill="#a8a8f8" stroke="#6b6bf2" stroke-width="1.0"/>
<circle cx="627.9" cy="403.9" r="1.55" fill="#a8a8f8" stroke="#6b6bf2" stroke-width="1.0"/>
<circle cx="631.0" cy="400.1" r="1.55" fill="#a8a8f8" stroke="#6b6bf2" stroke-width="1.0"/>
<circle cx="627.9" cy="384.6" r="1.55" fill="#a8a8f8" stroke="#6b6bf2" stroke-width="1.0"/>
<circle cx="631.0" cy="387.0" r="1.55" fill="#a8a8f8" stroke="#6b6bf2" stroke-width="1.0"/>
<circle cx="624.8" cy="372.8" r="1.55" fill="#a8a8f8" stroke="#6b6bf2" stroke-width="1.0"/>
<circle cx="632.1" cy="333.0" r="1.55" fill="#a8a8f8" stroke="#6b6bf2" stroke-width="1.0"/>
<circle cx="627.9" cy="333.0" r="1.55" fill="#a8a8f8" stroke="#6b6bf2" stroke-width="1.0"/>
<circle cx="627.9" cy="337.8" r="1.55" fill="#a8a8f8" stroke="#6b6bf2" stroke-width="1.0"/>
<rect x="665.1" y="360.4" width="3.5" height="3.5" rx="0.8" fill="#fbc48d"/>
<rect x="654.6" y="394.1" width="3.5" height="3.5" rx="0.8" fill="#fbc48d"/>
<rect x="666.1" y="405.9" width="3.5" height="3.5" rx="0.8" fill="#fbc48d"/>
<rect x="663.0" y="380.4" width="3.5" height="3.5" rx="0.8" fill="#fbc48d"/>
<rect x="666.1" y="417.6" width="3.5" height="3.5" rx="0.8" fill="#fbc48d"/>
<rect x="666.1" y="392.9" width="3.5" height="3.5" rx="0.8" fill="#fbc48d"/>
<rect x="659.9" y="397.3" width="3.5" height="3.5" rx="0.8" fill="#fbc48d"/>
<rect x="660.9" y="392.7" width="3.5" height="3.5" rx="0.8" fill="#fbc48d"/>
<rect x="664.0" y="414.5" width="3.5" height="3.5" rx="0.8" fill="#fbc48d"/>
<rect x="658.8" y="381.9" width="3.5" height="3.5" rx="0.8" fill="#fbc48d"/>
<rect x="659.9" y="377.4" width="3.5" height="3.5" rx="0.8" fill="#fbc48d"/>
<rect x="664.0" y="369.3" width="3.5" height="3.5" rx="0.8" fill="#fbc48d"/>
<rect x="659.9" y="355.9" width="3.5" height="3.5" rx="0.8" fill="#fbc48d"/>
<rect x="669.3" y="394.8" width="3.5" height="3.5" rx="0.8" fill="#fbc48d"/>
<rect x="656.7" y="375.4" width="3.5" height="3.5" rx="0.8" fill="#fbc48d"/>
<rect x="659.9" y="389.2" width="3.5" height="3.5" rx="0.8" fill="#fbc48d"/>
<rect x="663.0" y="403.9" width="3.5" height="3.5" rx="0.8" fill="#fbc48d"/>
<rect x="660.9" y="360.3" width="3.5" height="3.5" rx="0.8" fill="#fbc48d"/>
<rect x="655.7" y="369.6" width="3.5" height="3.5" rx="0.8" fill="#fbc48d"/>
<rect x="664.0" y="356.8" width="3.5" height="3.5" rx="0.8" fill="#fbc48d"/>
<rect x="659.9" y="364.7" width="3.5" height="3.5" rx="0.8" fill="#fbc48d"/>
<rect x="656.7" y="358.5" width="3.5" height="3.5" rx="0.8" fill="#fbc48d"/>
<rect x="659.9" y="409.5" width="3.5" height="3.5" rx="0.8" fill="#fbc48d"/>
<rect x="660.9" y="416.7" width="3.5" height="3.5" rx="0.8" fill="#fbc48d"/>
<rect x="657.8" y="404.9" width="3.5" height="3.5" rx="0.8" fill="#fbc48d"/>
<rect x="656.7" y="391.1" width="3.5" height="3.5" rx="0.8" fill="#fbc48d"/>
<rect x="659.9" y="373.3" width="3.5" height="3.5" rx="0.8" fill="#fbc48d"/>
<rect x="664.0" y="389.4" width="3.5" height="3.5" rx="0.8" fill="#fbc48d"/>
<rect x="661.9" y="384.6" width="3.5" height="3.5" rx="0.8" fill="#fbc48d"/>
<rect x="659.9" y="368.6" width="3.5" height="3.5" rx="0.8" fill="#fbc48d"/>
<rect x="659.9" y="413.2" width="3.5" height="3.5" rx="0.8" fill="#fbc48d"/>
<rect x="664.0" y="373.9" width="3.5" height="3.5" rx="0.8" fill="#fbc48d"/>
<rect x="655.7" y="414.6" width="3.5" height="3.5" rx="0.8" fill="#fbc48d"/>
<rect x="659.9" y="401.7" width="3.5" height="3.5" rx="0.8" fill="#fbc48d"/>
<rect x="659.9" y="336.0" width="3.5" height="3.5" rx="0.8" fill="#fbc48d"/>
<line x1="594.7" y1="412.2" x2="594.7" y2="362.6" stroke="#555" stroke-width="1.1"/>
<line x1="587.9" y1="412.2" x2="601.5" y2="412.2" stroke="#555" stroke-width="1.1"/>
<line x1="587.9" y1="362.6" x2="601.5" y2="362.6" stroke="#555" stroke-width="1.1"/>
<line x1="583.2" y1="377.3" x2="606.2" y2="377.3" stroke="#222" stroke-width="1.54"/>
<line x1="627.9" y1="404.3" x2="627.9" y2="346.0" stroke="#555" stroke-width="1.1"/>
<line x1="621.1" y1="404.3" x2="634.7" y2="404.3" stroke="#555" stroke-width="1.1"/>
<line x1="621.1" y1="346.0" x2="634.7" y2="346.0" stroke="#555" stroke-width="1.1"/>
<line x1="616.4" y1="361.7" x2="639.4" y2="361.7" stroke="#222" stroke-width="1.54"/>
<line x1="661.6" y1="401.2" x2="661.6" y2="362.6" stroke="#555" stroke-width="1.1"/>
<line x1="654.8" y1="401.2" x2="668.4" y2="401.2" stroke="#555" stroke-width="1.1"/>
<line x1="654.8" y1="362.6" x2="668.4" y2="362.6" stroke="#555" stroke-width="1.1"/>
<line x1="650.1" y1="375.9" x2="673.1" y2="375.9" stroke="#222" stroke-width="1.54"/>
<polyline points="594.7,333.2 594.7,321.2 626.7,321.2 626.7,327.7" fill="none" stroke="#000" stroke-width="0.7"/>
<text x="610.3" y="320.0" font-size="7" font-weight="bold" text-anchor="middle">**</text>
<polyline points="630.3,327.0 630.3,321.2 661.6,321.2 661.6,340.5" fill="none" stroke="#000" stroke-width="0.7"/>
<text x="646.0" y="320.0" font-size="7" font-weight="bold" text-anchor="middle">*</text>
<text x="-0.4" y="482.1" font-size="14.5" font-weight="bold">i</text>
<defs><filter id="emtex" x="0" y="0" width="1" height="1" color-interpolation-filters="sRGB">
<feGaussianBlur in="SourceGraphic" stdDeviation="3.5" result="b"/>
<feTurbulence type="fractalNoise" baseFrequency="0.05" numOctaves="3" seed="4" result="n"/>
<feColorMatrix in="n" type="matrix" values="1 0 0 0 0  1 0 0 0 0  1 0 0 0 0  0 0 0 0 1" result="g"/>
<feComposite in="b" in2="g" operator="arithmetic" k1="0" k2="1" k3="0.65" k4="-0.325" result="c"/>
<feTurbulence type="fractalNoise" baseFrequency="0.035" numOctaves="2" seed="9" result="n2"/>
<feColorMatrix in="n2" type="matrix" values="0 0 0 0 0.12  0 0 0 0 0.12  0 0 0 0 0.12  4.5 0 0 0 -2.55" result="d"/>
<feComposite in="d" in2="c" operator="over" result="e"/>
<feComposite in="e" in2="b" operator="in" result="f"/>
<feComponentTransfer in="f"><feFuncR type="gamma" amplitude="1" exponent="0.72" offset="0"/><feFuncG type="gamma" amplitude="1" exponent="0.72" offset="0"/><feFuncB type="gamma" amplitude="1" exponent="0.72" offset="0"/></feComponentTransfer>
</filter></defs><svg x="39.4" y="474" width="99.9" height="94.5" viewBox="0 0 685 644" preserveAspectRatio="none"><rect width="685" height="644" fill="#f1f1f1"/><g filter="url(#emtex)"><path d="M0 0C8 -18 36 -9 45 0C54 9 58 38 55 55C52 72 34 92 25 100C16 108 4 122 0 105C-4 88 -8 18 0 0Z" fill="#a9a9a9" stroke="#2e2e2e" stroke-width="6"/><path d="M200 0C227 -10 359 -10 390 0C421 10 400 51 385 60C370 69 326 55 300 55C274 55 247 69 230 60C213 51 173 10 200 0Z" fill="#858585" stroke="#2e2e2e" stroke-width="6"/><path d="M420 0C436 -10 502 -12 520 0C538 12 533 53 525 70C517 87 487 102 470 100C453 98 433 77 425 60C417 43 404 10 420 0Z" fill="#979797" stroke="#2e2e2e" stroke-width="6"/><path d="M40 95C48 86 70 72 80 75C90 78 96 94 98 110C100 126 97 154 92 170C87 186 78 202 70 205C62 208 52 198 45 185C38 172 31 145 30 130C29 115 32 104 40 95Z" fill="#a9a9a9" stroke="#2e2e2e" stroke-width="6"/><path d="M0 175C10 155 40 156 60 160C80 164 112 183 120 200C128 217 122 245 110 260C98 275 63 287 45 290C27 293 8 299 0 280C-8 261 -10 195 0 175Z" fill="#979797" stroke="#2e2e2e" stroke-width="6"/><path d="M230 70C242 57 277 52 300 50C323 48 356 48 370 60C384 72 386 97 385 120C384 143 369 176 362 200C355 224 352 245 345 262C338 279 329 295 320 302C311 309 299 309 290 302C281 295 273 279 265 262C257 245 247 222 240 200C233 178 227 152 225 130C223 108 218 83 230 70Z" fill="#979797" stroke="#2e2e2e" stroke-width="6"/><path d="M380 115C393 103 431 96 450 98C469 100 483 113 492 130C501 147 505 180 502 200C499 220 486 242 472 252C458 262 434 265 420 262C406 259 394 247 386 232C378 217 373 190 372 170C371 150 367 127 380 115Z" fill="#858585" stroke="#2e2e2e" stroke-width="6"/><path d="M502 150C512 130 542 123 560 120C578 117 603 119 612 132C621 145 620 178 616 200C612 222 604 248 590 262C576 276 545 286 530 282C515 278 505 262 500 240C495 218 492 170 502 150Z" fill="#a9a9a9" stroke="#2e2e2e" stroke-width="6"/><path d="M560 40C565 31 592 32 600 40C608 48 610 81 605 90C600 99 578 103 570 95C562 87 555 49 560 40Z" fill="#a9a9a9" stroke="#2e2e2e" stroke-width="6"/><path d="M600 90C605 77 637 77 650 80C663 83 677 97 680 110C683 123 680 152 670 160C660 168 632 172 620 160C608 148 595 103 600 90Z" fill="#a9a9a9" stroke="#2e2e2e" stroke-width="6"/><path d="M560 292C570 274 603 261 622 262C641 263 665 282 672 300C679 318 672 355 662 372C652 389 629 402 612 402C595 402 571 390 562 372C553 354 550 310 560 292Z" fill="#a9a9a9" stroke="#2e2e2e" stroke-width="6"/><path d="M362 300C372 285 400 267 420 262C440 257 465 262 482 272C499 282 515 300 522 322C529 344 527 380 522 402C517 424 507 444 492 452C477 460 450 459 432 452C414 445 394 429 382 412C370 395 365 371 362 352C359 333 352 315 362 300Z" fill="#858585" stroke="#2e2e2e" stroke-width="6"/><path d="M60 332C71 305 97 279 112 262C127 245 142 229 152 232C162 235 172 262 172 282C172 302 162 332 152 352C142 372 125 389 112 402C99 415 83 429 72 432C61 435 47 439 45 422C43 405 49 359 60 332Z" fill="#6e6e6e" stroke="#2e2e2e" stroke-width="6"/><path d="M142 382C147 362 165 335 182 322C199 309 222 300 242 302C262 304 289 315 302 332C315 349 322 380 322 402C322 424 314 447 302 462C290 477 270 489 252 492C234 495 209 490 192 482C175 474 160 459 152 442C144 425 137 402 142 382Z" fill="#a9a9a9" stroke="#2e2e2e" stroke-width="6"/><path d="M192 500C205 487 240 483 262 482C284 481 309 479 322 492C335 505 340 534 342 562C344 590 360 644 335 660C310 676 217 676 192 660C167 644 186 589 186 562C186 535 179 513 192 500Z" fill="#979797" stroke="#2e2e2e" stroke-width="6"/><path d="M-10 472C2 436 40 445 62 442C84 439 107 439 122 452C137 465 150 497 152 522C154 547 144 579 132 602C120 625 106 650 82 660C58 670 5 691 -10 660C-25 629 -22 508 -10 472Z" fill="#979797" stroke="#2e2e2e" stroke-width="6"/><path d="M402 472C417 464 462 469 482 472C502 475 502 494 522 492C542 490 585 460 602 462C619 464 622 482 622 502C622 522 614 562 602 582C590 602 574 619 552 622C530 625 494 612 472 602C450 592 435 575 422 562C409 549 395 537 392 522C389 507 387 480 402 472Z" fill="#a9a9a9" stroke="#2e2e2e" stroke-width="6"/><path d="M610 440C625 417 677 385 690 420C703 455 702 612 690 650C678 688 635 665 620 650C605 635 602 595 600 560C598 525 595 463 610 440Z" fill="#979797" stroke="#2e2e2e" stroke-width="6"/><ellipse cx="177" cy="30" rx="24" ry="4" fill="#8e8e8e" stroke="#5a5a5a" stroke-width="3" transform="rotate(113 177 30)"/><ellipse cx="197" cy="21" rx="14" ry="8" fill="#8e8e8e" stroke="#5a5a5a" stroke-width="3" transform="rotate(121 197 21)"/><ellipse cx="115" cy="33" rx="29" ry="5" fill="#8e8e8e" stroke="#5a5a5a" stroke-width="3" transform="rotate(153 115 33)"/><ellipse cx="168" cy="11" rx="15" ry="8" fill="#8e8e8e" stroke="#5a5a5a" stroke-width="3" transform="rotate(61 168 11)"/><ellipse cx="141" cy="32" rx="19" ry="4" fill="#8e8e8e" stroke="#5a5a5a" stroke-width="3" transform="rotate(46 141 32)"/><ellipse cx="159" cy="238" rx="22" ry="6" fill="#8e8e8e" stroke="#5a5a5a" stroke-width="3" transform="rotate(34 159 238)"/><ellipse cx="192" cy="164" rx="25" ry="6" fill="#8e8e8e" stroke="#5a5a5a" stroke-width="3" transform="rotate(99 192 164)"/><ellipse cx="150" cy="166" rx="15" ry="7" fill="#8e8e8e" stroke="#5a5a5a" stroke-width="3" transform="rotate(49 150 166)"/><ellipse cx="111" cy="165" rx="28" ry="7" fill="#8e8e8e" stroke="#5a5a5a" stroke-width="3" transform="rotate(104 111 165)"/><ellipse cx="152" cy="246" rx="16" ry="7" fill="#8e8e8e" stroke="#5a5a5a" stroke-width="3" transform="rotate(2 152 246)"/><ellipse cx="177" cy="266" rx="24" ry="4" fill="#8e8e8e" stroke="#5a5a5a" stroke-width="3" transform="rotate(106 177 266)"/><ellipse cx="143" cy="259" rx="12" ry="4" fill="#8e8e8e" stroke="#5a5a5a" stroke-width="3" transform="rotate(17 143 259)"/><ellipse cx="353" cy="457" rx="22" ry="7" fill="#8e8e8e" stroke="#5a5a5a" stroke-width="3" transform="rotate(7 353 457)"/><ellipse cx="337" cy="362" rx="23" ry="7" fill="#8e8e8e" stroke="#5a5a5a" stroke-width="3" transform="rotate(103 337 362)"/><ellipse cx="347" cy="324" rx="19" ry="5" fill="#8e8e8e" stroke="#5a5a5a" stroke-width="3" transform="rotate(136 347 324)"/><ellipse cx="409" cy="442" rx="14" ry="7" fill="#8e8e8e" stroke="#5a5a5a" stroke-width="3" transform="rotate(2 409 442)"/><ellipse cx="333" cy="423" rx="17" ry="8" fill="#8e8e8e" stroke="#5a5a5a" stroke-width="3" transform="rotate(123 333 423)"/><ellipse cx="384" cy="404" rx="28" ry="8" fill="#8e8e8e" stroke="#5a5a5a" stroke-width="3" transform="rotate(5 384 404)"/><ellipse cx="418" cy="371" rx="17" ry="8" fill="#8e8e8e" stroke="#5a5a5a" stroke-width="3" transform="rotate(165 418 371)"/><ellipse cx="649" cy="509" rx="12" ry="5" fill="#8e8e8e" stroke="#5a5a5a" stroke-width="3" transform="rotate(146 649 509)"/><ellipse cx="684" cy="430" rx="25" ry="4" fill="#8e8e8e" stroke="#5a5a5a" stroke-width="3" transform="rotate(134 684 430)"/><ellipse cx="585" cy="393" rx="15" ry="6" fill="#8e8e8e" stroke="#5a5a5a" stroke-width="3" transform="rotate(85 585 393)"/><ellipse cx="636" cy="442" rx="22" ry="5" fill="#8e8e8e" stroke="#5a5a5a" stroke-width="3" transform="rotate(138 636 442)"/><ellipse cx="531" cy="486" rx="22" ry="4" fill="#8e8e8e" stroke="#5a5a5a" stroke-width="3" transform="rotate(137 531 486)"/><ellipse cx="628" cy="551" rx="15" ry="6" fill="#8e8e8e" stroke="#5a5a5a" stroke-width="3" transform="rotate(155 628 551)"/><ellipse cx="676" cy="503" rx="18" ry="7" fill="#8e8e8e" stroke="#5a5a5a" stroke-width="3" transform="rotate(81 676 503)"/><ellipse cx="612" cy="501" rx="28" ry="4" fill="#8e8e8e" stroke="#5a5a5a" stroke-width="3" transform="rotate(125 612 501)"/><ellipse cx="54" cy="357" rx="16" ry="6" fill="#8e8e8e" stroke="#5a5a5a" stroke-width="3" transform="rotate(5 54 357)"/><ellipse cx="48" cy="377" rx="23" ry="7" fill="#8e8e8e" stroke="#5a5a5a" stroke-width="3" transform="rotate(3 48 377)"/><ellipse cx="11" cy="365" rx="22" ry="5" fill="#8e8e8e" stroke="#5a5a5a" stroke-width="3" transform="rotate(50 11 365)"/><ellipse cx="1" cy="366" rx="28" ry="4" fill="#8e8e8e" stroke="#5a5a5a" stroke-width="3" transform="rotate(108 1 366)"/><ellipse cx="166" cy="116" rx="26" ry="5" fill="#8e8e8e" stroke="#5a5a5a" stroke-width="3" transform="rotate(174 166 116)"/><ellipse cx="174" cy="82" rx="16" ry="5" fill="#8e8e8e" stroke="#5a5a5a" stroke-width="3" transform="rotate(11 174 82)"/><ellipse cx="173" cy="49" rx="12" ry="4" fill="#8e8e8e" stroke="#5a5a5a" stroke-width="3" transform="rotate(1 173 49)"/><ellipse cx="550" cy="89" rx="28" ry="6" fill="#8e8e8e" stroke="#5a5a5a" stroke-width="3" transform="rotate(100 550 89)"/><ellipse cx="509" cy="114" rx="18" ry="8" fill="#8e8e8e" stroke="#5a5a5a" stroke-width="3" transform="rotate(70 509 114)"/><ellipse cx="490" cy="89" rx="12" ry="5" fill="#8e8e8e" stroke="#5a5a5a" stroke-width="3" transform="rotate(69 490 89)"/><circle cx="269" cy="114" r="13" fill="#0c0c0c"/><circle cx="303" cy="214" r="14" fill="#0c0c0c"/><circle cx="340" cy="172" r="13" fill="#0c0c0c"/><circle cx="275" cy="179" r="9" fill="#0c0c0c"/><circle cx="299" cy="225" r="11" fill="#0c0c0c"/><circle cx="257" cy="142" r="13" fill="#0c0c0c"/><circle cx="267" cy="113" r="9" fill="#0c0c0c"/><circle cx="318" cy="224" r="8" fill="#0c0c0c"/><circle cx="331" cy="183" r="11" fill="#0c0c0c"/><circle cx="460" cy="157" r="11" fill="#0c0c0c"/><circle cx="416" cy="175" r="8" fill="#0c0c0c"/><circle cx="446" cy="210" r="9" fill="#0c0c0c"/><circle cx="433" cy="177" r="13" fill="#0c0c0c"/><circle cx="445" cy="194" r="14" fill="#0c0c0c"/><circle cx="400" cy="172" r="12" fill="#0c0c0c"/><circle cx="434" cy="161" r="11" fill="#0c0c0c"/><circle cx="394" cy="357" r="10" fill="#0c0c0c"/><circle cx="430" cy="352" r="10" fill="#0c0c0c"/><circle cx="431" cy="378" r="13" fill="#0c0c0c"/><circle cx="404" cy="395" r="12" fill="#0c0c0c"/><circle cx="409" cy="334" r="12" fill="#0c0c0c"/><circle cx="458" cy="388" r="9" fill="#0c0c0c"/><circle cx="427" cy="369" r="14" fill="#0c0c0c"/><circle cx="448" cy="401" r="10" fill="#0c0c0c"/><circle cx="574" cy="173" r="8" fill="#0c0c0c"/><circle cx="573" cy="163" r="14" fill="#0c0c0c"/><circle cx="543" cy="192" r="9" fill="#0c0c0c"/><circle cx="130" cy="312" r="9" fill="#0c0c0c"/><circle cx="127" cy="302" r="11" fill="#0c0c0c"/><circle cx="96" cy="353" r="9" fill="#0c0c0c"/><circle cx="137" cy="341" r="11" fill="#0c0c0c"/><circle cx="93" cy="321" r="13" fill="#0c0c0c"/><circle cx="82" cy="543" r="8" fill="#0c0c0c"/><circle cx="86" cy="565" r="12" fill="#0c0c0c"/><circle cx="35" cy="551" r="14" fill="#0c0c0c"/><circle cx="43" cy="563" r="12" fill="#0c0c0c"/><circle cx="206" cy="429" r="13" fill="#0c0c0c"/><circle cx="247" cy="388" r="14" fill="#0c0c0c"/><circle cx="275" cy="401" r="13" fill="#0c0c0c"/><circle cx="252" cy="425" r="13" fill="#0c0c0c"/><circle cx="623" cy="332" r="13" fill="#0c0c0c"/><circle cx="574" cy="327" r="9" fill="#0c0c0c"/></g><rect x="45" y="600" width="145" height="14" fill="#000"/></svg><svg x="141" y="474" width="100.5" height="94.5" viewBox="0 0 685 644" preserveAspectRatio="none"><rect width="685" height="644" fill="#f3f3f3"/><g filter="url(#emtex)"><path d="M-10 -10C17 -55 123 -22 150 -10C177 2 146 33 150 60C154 87 175 127 175 150C175 173 162 185 150 200C138 215 118 231 100 240C82 249 58 248 40 252C22 256 -2 306 -10 262C-18 218 -37 35 -10 -10Z" fill="#8a8a8a" stroke="#2e2e2e" stroke-width="6"/><path d="M165 -10C202 -22 357 -22 400 -10C443 2 420 35 425 60C430 85 434 117 430 140C426 163 417 183 400 200C383 217 353 230 330 240C307 250 282 260 260 262C238 264 222 255 200 252C178 249 142 249 130 242C118 235 113 217 125 210C137 203 186 215 200 200C214 185 214 143 210 120C206 97 182 82 175 60C168 38 128 2 165 -10Z" fill="#9c9c9c" stroke="#2e2e2e" stroke-width="6"/><path d="M490 90C502 78 542 70 560 60C578 50 593 42 600 30C607 18 585 -3 600 -10C615 -17 675 -37 690 -10C705 17 705 122 690 150C675 178 628 158 600 160C572 162 539 165 520 160C501 155 490 142 485 130C480 118 478 102 490 90Z" fill="#a3a3a3" stroke="#2e2e2e" stroke-width="6"/><path d="M600 190C615 177 675 140 690 160C705 180 700 288 690 310C680 332 645 302 630 290C615 278 605 257 600 240C595 223 585 203 600 190Z" fill="#a0a0a0" stroke="#2e2e2e" stroke-width="6"/><path d="M30 300C41 286 78 277 100 275C122 273 147 279 160 290C173 301 182 325 180 340C178 355 167 372 150 380C133 388 99 388 80 385C61 382 43 374 35 360C27 346 19 314 30 300Z" fill="#b3b3b3" stroke="#2e2e2e" stroke-width="6"/><path d="M200 340C217 323 260 310 290 300C320 290 355 287 380 280C405 273 417 268 440 260C463 252 502 230 520 230C538 230 548 243 545 260C542 277 512 310 500 330C488 350 470 363 470 380C470 397 498 412 500 430C502 448 492 475 480 490C468 505 443 508 430 520C417 532 417 550 400 560C383 570 355 580 330 580C305 580 277 563 250 560C223 557 192 565 170 560C148 555 133 548 120 530C107 512 92 470 90 450C88 430 93 418 110 410C127 402 175 412 190 400C205 388 183 357 200 340Z" fill="#999999" stroke="#2e2e2e" stroke-width="6"/><path d="M520 290C537 278 575 278 600 280C625 282 655 292 670 300C685 308 687 302 690 330C693 358 705 447 690 470C675 493 622 473 600 470C578 467 573 462 560 450C547 438 530 417 520 400C510 383 500 368 500 350C500 332 503 302 520 290Z" fill="#a8a8a8" stroke="#2e2e2e" stroke-width="6"/><path d="M500 540C510 515 537 508 560 500C583 492 618 492 640 490C662 488 682 463 690 490C698 517 722 623 690 650C658 677 532 668 500 650C468 632 490 565 500 540Z" fill="#a2a2a2" stroke="#2e2e2e" stroke-width="6"/><path d="M-10 490C2 463 45 478 60 490C75 502 80 533 80 560C80 587 75 635 60 650C45 665 2 677 -10 650C-22 623 -22 517 -10 490Z" fill="#a6a6a6" stroke="#2e2e2e" stroke-width="6"/><path d="M320 520C335 510 382 503 400 510C418 517 430 545 430 560C430 575 415 592 400 600C385 608 355 615 340 610C325 605 313 585 310 570C307 555 305 530 320 520Z" fill="#9a9a9a" stroke="#2e2e2e" stroke-width="6"/><path d="M-10 390C-3 382 25 407 30 420C35 433 27 462 20 470C13 478 -5 483 -10 470C-15 457 -17 398 -10 390Z" fill="#a0a0a0" stroke="#2e2e2e" stroke-width="6"/><path d="M330 320C338 302 374 290 385 310C396 330 398 414 395 440C392 466 379 468 370 465C361 462 347 444 340 420C333 396 322 338 330 320Z" fill="#4c4c4c" stroke="#4c4c4c" stroke-width="1"/><ellipse cx="290" cy="95" rx="30" ry="18" fill="#dadada"/><ellipse cx="365" cy="105" rx="20" ry="15" fill="#dadada"/><circle cx="635" cy="85" r="20" fill="#080808"/><circle cx="125" cy="300" r="13" fill="#080808"/><circle cx="270" cy="480" r="20" fill="#080808"/><circle cx="235" cy="110" r="10" fill="#080808"/><circle cx="120" cy="45" r="10" fill="#080808"/><circle cx="70" cy="210" r="10" fill="#080808"/><circle cx="360" cy="310" r="10" fill="#080808"/><circle cx="190" cy="188" r="6" fill="#080808"/><ellipse cx="315" cy="450" rx="20" ry="18" fill="#d0d0d0"/></g><rect x="40" y="603" width="155" height="14" fill="#000"/></svg><svg x="243" y="474" width="101.2" height="94.5" viewBox="0 0 685 644" preserveAspectRatio="none"><rect width="685" height="644" fill="#f1f1f1"/><g filter="url(#emtex)"><path d="M-10 -10C22 -28 153 -22 180 -10C207 2 158 38 150 60C142 82 128 102 130 120C132 138 150 152 160 170C170 188 188 217 190 230C192 243 182 252 170 250C158 248 135 235 120 220C105 205 93 178 80 160C67 142 55 120 40 110C25 100 -2 120 -10 100C-18 80 -42 8 -10 -10Z" fill="#8f8f8f" stroke="#2e2e2e" stroke-width="6"/><ellipse cx="60" cy="30" rx="60" ry="35" fill="#080808"/><path d="M290 -10C335 -17 515 -15 560 -10C605 -5 582 13 560 20C538 27 468 27 430 30C392 33 353 40 330 40C307 40 297 38 290 30C283 22 245 -3 290 -10Z" fill="#7e7e7e" stroke="#2e2e2e" stroke-width="6"/><path d="M350 40C362 29 415 23 430 30C445 37 445 67 440 80C435 93 414 108 400 110C386 112 363 107 355 95C347 83 338 51 350 40Z" fill="#6e6e6e" stroke="#2e2e2e" stroke-width="6"/><path d="M200 220C210 193 230 177 250 160C270 143 292 130 320 120C348 110 392 107 420 100C448 93 473 92 490 80C507 68 512 33 520 30C528 27 537 40 540 60C543 80 537 118 540 150C543 182 552 225 560 250C568 275 587 275 590 300C593 325 587 375 580 400C573 425 570 430 550 450C530 470 482 502 460 520C438 538 437 550 420 560C403 570 375 587 360 580C345 573 340 540 330 520C320 500 313 475 300 460C287 445 267 435 250 430C233 425 217 432 200 430C183 428 167 420 150 420C133 420 105 433 100 430C95 427 107 408 120 400C133 392 168 393 180 380C192 367 187 347 190 320C193 293 190 247 200 220Z" fill="#979797" stroke="#2e2e2e" stroke-width="6"/><path d="M-10 450C2 415 35 440 60 440C85 440 117 443 140 450C163 457 187 465 200 480C213 495 220 520 220 540C220 560 212 582 200 600C188 618 185 642 150 650C115 658 17 683 -10 650C-37 617 -22 485 -10 450Z" fill="#9c9c9c" stroke="#2e2e2e" stroke-width="6"/><ellipse cx="30" cy="545" rx="28" ry="30" fill="#e0e0e0"/><path d="M490 510C500 492 535 473 560 460C585 447 618 437 640 430C662 423 682 398 690 420C698 442 698 530 690 560C682 590 662 593 640 600C618 607 583 605 560 600C537 595 512 585 500 570C488 555 480 528 490 510Z" fill="#a2a2a2" stroke="#2e2e2e" stroke-width="6"/><path d="M250 600C265 590 305 588 330 590C355 592 387 600 400 610C413 620 437 643 410 650C383 657 267 658 240 650C213 642 235 610 250 600Z" fill="#5a5a5a" stroke="#2e2e2e" stroke-width="6"/><ellipse cx="55" cy="395" rx="35" ry="25" fill="#8a8a8a" stroke="#2e2e2e" stroke-width="6"/><ellipse cx="62" cy="187" rx="22" ry="18" fill="#8a8a8a" stroke="#2e2e2e" stroke-width="6"/><ellipse cx="660" cy="345" rx="25" ry="35" fill="#7a7a7a" stroke="#2e2e2e" stroke-width="6"/><ellipse cx="670" cy="265" rx="20" ry="25" fill="#8a8a8a" stroke="#2e2e2e" stroke-width="6"/><ellipse cx="570" cy="35" rx="20" ry="18" fill="#8a8a8a" stroke="#2e2e2e" stroke-width="6"/><circle cx="280" cy="240" r="22" fill="#060606"/><circle cx="255" cy="300" r="25" fill="#060606"/><circle cx="400" cy="160" r="20" fill="#060606"/><circle cx="365" cy="215" r="18" fill="#060606"/><circle cx="485" cy="120" r="15" fill="#060606"/><circle cx="365" cy="240" r="12" fill="#060606"/><circle cx="455" cy="310" r="10" fill="#060606"/><ellipse cx="440" cy="425" rx="22" ry="20" fill="#e6e6e6"/><ellipse cx="425" cy="375" rx="15" ry="18" fill="#e0e0e0"/><ellipse cx="320" cy="345" rx="15" ry="15" fill="#dadada"/><ellipse cx="215" cy="390" rx="20" ry="12" fill="#e2e2e2"/><rect x="0" y="595" width="200" height="49" fill="#3a3a3a"/></g><rect x="20" y="603" width="175" height="14" fill="#000"/><path d="M82 212 L100 236 L92 240 Z" fill="#e82020"/><polygon points="138,252 96,248 112,222" fill="#e82020"/><polygon points="86,370 104,330 126,350" fill="#e82020"/><line x1="115" y1="340" x2="138" y2="322" stroke="#e82020" stroke-width="9"/><line x1="85" y1="215" x2="110" y2="236" stroke="#e82020" stroke-width="9"/></svg><svg x="39.4" y="570.3" width="99.9" height="95.2" viewBox="0 0 685 651" preserveAspectRatio="none"><rect width="685" height="651" fill="#e9e9e9"/><g filter="url(#emtex)"><ellipse cx="40" cy="40" rx="72" ry="58" fill="#7a7a7a" stroke="#2e2e2e" stroke-width="6"/><ellipse cx="250" cy="40" rx="100" ry="48" fill="#8c8c8c" stroke="#2e2e2e" stroke-width="6"/><ellipse cx="450" cy="45" rx="75" ry="45" fill="#8c8c8c" stroke="#2e2e2e" stroke-width="6"/><ellipse cx="150" cy="110" rx="62" ry="85" fill="#9a9a9a" stroke="#2e2e2e" stroke-width="6" transform="rotate(-20 150 110)"/><ellipse cx="320" cy="170" rx="95" ry="85" fill="#9c9c9c" stroke="#2e2e2e" stroke-width="6"/><ellipse cx="452" cy="125" rx="42" ry="35" fill="#a0a0a0" stroke="#2e2e2e" stroke-width="6"/><ellipse cx="55" cy="210" rx="75" ry="82" fill="#8e8e8e" stroke="#2e2e2e" stroke-width="6"/><ellipse cx="575" cy="230" rx="85" ry="85" fill="#b8b8b8" stroke="#2e2e2e" stroke-width="6"/><ellipse cx="185" cy="335" rx="110" ry="90" fill="#949494" stroke="#2e2e2e" stroke-width="6"/><ellipse cx="380" cy="330" rx="80" ry="75" fill="#a4a4a4" stroke="#2e2e2e" stroke-width="6"/><ellipse cx="240" cy="455" rx="65" ry="55" fill="#9e9e9e" stroke="#2e2e2e" stroke-width="6"/><ellipse cx="365" cy="475" rx="75" ry="55" fill="#a0a0a0" stroke="#2e2e2e" stroke-width="6"/><ellipse cx="500" cy="450" rx="60" ry="85" fill="#a2a2a2" stroke="#2e2e2e" stroke-width="6"/><ellipse cx="630" cy="500" rx="65" ry="75" fill="#9c9c9c" stroke="#2e2e2e" stroke-width="6"/><ellipse cx="40" cy="590" rx="95" ry="95" fill="#8c8c8c" stroke="#2e2e2e" stroke-width="6"/><ellipse cx="185" cy="545" rx="70" ry="38" fill="#a6a6a6" stroke="#2e2e2e" stroke-width="6" transform="rotate(20 185 545)"/><ellipse cx="255" cy="640" rx="80" ry="45" fill="#9a9a9a" stroke="#2e2e2e" stroke-width="6"/><ellipse cx="500" cy="640" rx="110" ry="60" fill="#959595" stroke="#2e2e2e" stroke-width="6"/><ellipse cx="45" cy="350" rx="25" ry="20" fill="#a0a0a0" stroke="#2e2e2e" stroke-width="6"/><ellipse cx="610" cy="110" rx="80" ry="25" fill="#b4b4b4" stroke="#2e2e2e" stroke-width="6" transform="rotate(-15 610 110)"/><ellipse cx="460" cy="590" rx="18" ry="14" fill="#b0b0b0" stroke="#2e2e2e" stroke-width="6"/><ellipse cx="385" cy="330" rx="40" ry="38" fill="#f0f0f0"/><ellipse cx="575" cy="230" rx="55" ry="55" fill="#cfcfcf"/><circle cx="50" cy="64" r="8" fill="#0c0c0c"/><circle cx="10" cy="74" r="10" fill="#0c0c0c"/><circle cx="24" cy="59" r="12" fill="#0c0c0c"/><circle cx="-10" cy="54" r="10" fill="#0c0c0c"/><circle cx="-10" cy="34" r="11" fill="#0c0c0c"/><circle cx="9" cy="26" r="12" fill="#0c0c0c"/><circle cx="188" cy="58" r="7" fill="#0c0c0c"/><circle cx="201" cy="51" r="12" fill="#0c0c0c"/><circle cx="249" cy="72" r="11" fill="#0c0c0c"/><circle cx="237" cy="12" r="12" fill="#0c0c0c"/><circle cx="226" cy="59" r="8" fill="#0c0c0c"/><circle cx="282" cy="45" r="12" fill="#0c0c0c"/><circle cx="263" cy="29" r="10" fill="#0c0c0c"/><circle cx="406" cy="48" r="10" fill="#0c0c0c"/><circle cx="430" cy="76" r="9" fill="#0c0c0c"/><circle cx="418" cy="25" r="8" fill="#0c0c0c"/><circle cx="483" cy="53" r="11" fill="#0c0c0c"/><circle cx="469" cy="18" r="7" fill="#0c0c0c"/><circle cx="185" cy="80" r="12" fill="#0c0c0c"/><circle cx="105" cy="101" r="7" fill="#0c0c0c"/><circle cx="156" cy="111" r="8" fill="#0c0c0c"/><circle cx="150" cy="137" r="10" fill="#0c0c0c"/><circle cx="184" cy="121" r="7" fill="#0c0c0c"/><circle cx="147" cy="101" r="8" fill="#0c0c0c"/><circle cx="181" cy="92" r="11" fill="#0c0c0c"/><circle cx="289" cy="128" r="8" fill="#0c0c0c"/><circle cx="307" cy="164" r="11" fill="#0c0c0c"/><circle cx="383" cy="155" r="7" fill="#0c0c0c"/><circle cx="298" cy="200" r="7" fill="#0c0c0c"/><circle cx="275" cy="129" r="8" fill="#0c0c0c"/><circle cx="361" cy="126" r="7" fill="#0c0c0c"/><circle cx="327" cy="110" r="8" fill="#0c0c0c"/><circle cx="269" cy="147" r="10" fill="#0c0c0c"/><circle cx="367" cy="199" r="10" fill="#0c0c0c"/><circle cx="348" cy="118" r="8" fill="#0c0c0c"/><circle cx="446" cy="100" r="12" fill="#0c0c0c"/><circle cx="454" cy="128" r="10" fill="#0c0c0c"/><circle cx="457" cy="144" r="12" fill="#0c0c0c"/><circle cx="34" cy="231" r="9" fill="#0c0c0c"/><circle cx="45" cy="193" r="9" fill="#0c0c0c"/><circle cx="85" cy="247" r="11" fill="#0c0c0c"/><circle cx="30" cy="236" r="10" fill="#0c0c0c"/><circle cx="61" cy="239" r="8" fill="#0c0c0c"/><circle cx="39" cy="214" r="11" fill="#0c0c0c"/><circle cx="27" cy="193" r="7" fill="#0c0c0c"/><circle cx="56" cy="187" r="7" fill="#0c0c0c"/><circle cx="587" cy="243" r="12" fill="#0c0c0c"/><circle cx="570" cy="265" r="11" fill="#0c0c0c"/><circle cx="554" cy="211" r="9" fill="#0c0c0c"/><circle cx="604" cy="203" r="11" fill="#0c0c0c"/><circle cx="619" cy="261" r="11" fill="#0c0c0c"/><circle cx="598" cy="183" r="9" fill="#0c0c0c"/><circle cx="617" cy="248" r="11" fill="#0c0c0c"/><circle cx="586" cy="260" r="10" fill="#0c0c0c"/><circle cx="574" cy="169" r="7" fill="#0c0c0c"/><circle cx="597" cy="282" r="10" fill="#0c0c0c"/><circle cx="170" cy="268" r="12" fill="#0c0c0c"/><circle cx="225" cy="285" r="9" fill="#0c0c0c"/><circle cx="162" cy="312" r="11" fill="#0c0c0c"/><circle cx="188" cy="277" r="9" fill="#0c0c0c"/><circle cx="146" cy="365" r="7" fill="#0c0c0c"/><circle cx="218" cy="293" r="9" fill="#0c0c0c"/><circle cx="118" cy="317" r="9" fill="#0c0c0c"/><circle cx="223" cy="278" r="9" fill="#0c0c0c"/><circle cx="231" cy="379" r="12" fill="#0c0c0c"/><circle cx="226" cy="380" r="11" fill="#0c0c0c"/><circle cx="210" cy="323" r="7" fill="#0c0c0c"/><circle cx="213" cy="333" r="8" fill="#0c0c0c"/><circle cx="135" cy="314" r="11" fill="#0c0c0c"/><circle cx="400" cy="380" r="8" fill="#0c0c0c"/><circle cx="381" cy="315" r="9" fill="#0c0c0c"/><circle cx="412" cy="336" r="8" fill="#0c0c0c"/><circle cx="372" cy="292" r="7" fill="#0c0c0c"/><circle cx="436" cy="328" r="12" fill="#0c0c0c"/><circle cx="380" cy="365" r="8" fill="#0c0c0c"/><circle cx="387" cy="337" r="10" fill="#0c0c0c"/><circle cx="398" cy="346" r="12" fill="#0c0c0c"/><circle cx="219" cy="456" r="11" fill="#0c0c0c"/><circle cx="236" cy="484" r="8" fill="#0c0c0c"/><circle cx="201" cy="451" r="10" fill="#0c0c0c"/><circle cx="205" cy="477" r="12" fill="#0c0c0c"/><circle cx="247" cy="468" r="7" fill="#0c0c0c"/><circle cx="419" cy="469" r="8" fill="#0c0c0c"/><circle cx="390" cy="471" r="10" fill="#0c0c0c"/><circle cx="311" cy="475" r="7" fill="#0c0c0c"/><circle cx="347" cy="504" r="7" fill="#0c0c0c"/><circle cx="368" cy="503" r="12" fill="#0c0c0c"/><circle cx="368" cy="437" r="11" fill="#0c0c0c"/><circle cx="489" cy="393" r="11" fill="#0c0c0c"/><circle cx="497" cy="415" r="8" fill="#0c0c0c"/><circle cx="500" cy="424" r="12" fill="#0c0c0c"/><circle cx="478" cy="429" r="12" fill="#0c0c0c"/><circle cx="518" cy="487" r="7" fill="#0c0c0c"/><circle cx="533" cy="439" r="11" fill="#0c0c0c"/><circle cx="491" cy="505" r="11" fill="#0c0c0c"/><circle cx="600" cy="456" r="9" fill="#0c0c0c"/><circle cx="595" cy="523" r="12" fill="#0c0c0c"/><circle cx="609" cy="539" r="8" fill="#0c0c0c"/><circle cx="589" cy="484" r="7" fill="#0c0c0c"/><circle cx="629" cy="493" r="12" fill="#0c0c0c"/><circle cx="599" cy="507" r="11" fill="#0c0c0c"/><circle cx="588" cy="492" r="7" fill="#0c0c0c"/><circle cx="-9" cy="569" r="12" fill="#0c0c0c"/><circle cx="86" cy="601" r="10" fill="#0c0c0c"/><circle cx="21" cy="583" r="10" fill="#0c0c0c"/><circle cx="45" cy="621" r="12" fill="#0c0c0c"/><circle cx="55" cy="635" r="11" fill="#0c0c0c"/><circle cx="25" cy="538" r="11" fill="#0c0c0c"/><circle cx="-14" cy="601" r="11" fill="#0c0c0c"/><circle cx="15" cy="538" r="9" fill="#0c0c0c"/><circle cx="-1" cy="573" r="11" fill="#0c0c0c"/><circle cx="4" cy="623" r="11" fill="#0c0c0c"/><circle cx="-1" cy="589" r="11" fill="#0c0c0c"/><circle cx="-8" cy="634" r="11" fill="#0c0c0c"/><circle cx="143" cy="552" r="7" fill="#0c0c0c"/><circle cx="147" cy="561" r="10" fill="#0c0c0c"/><circle cx="144" cy="536" r="11" fill="#0c0c0c"/><circle cx="155" cy="535" r="8" fill="#0c0c0c"/><circle cx="246" cy="657" r="9" fill="#0c0c0c"/><circle cx="290" cy="639" r="9" fill="#0c0c0c"/><circle cx="223" cy="658" r="12" fill="#0c0c0c"/><circle cx="283" cy="626" r="8" fill="#0c0c0c"/><circle cx="286" cy="624" r="11" fill="#0c0c0c"/><circle cx="305" cy="653" r="8" fill="#0c0c0c"/><circle cx="463" cy="640" r="9" fill="#0c0c0c"/><circle cx="535" cy="603" r="9" fill="#0c0c0c"/><circle cx="506" cy="609" r="9" fill="#0c0c0c"/><circle cx="464" cy="634" r="8" fill="#0c0c0c"/><circle cx="480" cy="601" r="7" fill="#0c0c0c"/><circle cx="491" cy="599" r="9" fill="#0c0c0c"/><circle cx="562" cy="654" r="8" fill="#0c0c0c"/><circle cx="468" cy="618" r="10" fill="#0c0c0c"/><circle cx="497" cy="671" r="10" fill="#0c0c0c"/><circle cx="591" cy="103" r="12" fill="#0c0c0c"/><circle cx="601" cy="120" r="8" fill="#0c0c0c"/><circle cx="645" cy="115" r="11" fill="#0c0c0c"/><circle cx="603" cy="101" r="7" fill="#0c0c0c"/><circle cx="555" cy="271" r="9" fill="#0c0c0c"/><circle cx="612" cy="210" r="10" fill="#0c0c0c"/><circle cx="580" cy="184" r="9" fill="#0c0c0c"/><circle cx="573" cy="264" r="9" fill="#0c0c0c"/><circle cx="596" cy="257" r="10" fill="#0c0c0c"/><circle cx="587" cy="244" r="8" fill="#0c0c0c"/><circle cx="564" cy="280" r="8" fill="#0c0c0c"/><circle cx="583" cy="249" r="9" fill="#0c0c0c"/><circle cx="610" cy="233" r="8" fill="#0c0c0c"/><circle cx="569" cy="276" r="8" fill="#0c0c0c"/></g><rect x="45" y="600" width="145" height="14" fill="#000"/></svg><svg x="141" y="570.3" width="100.5" height="95.2" viewBox="0 0 685 651" preserveAspectRatio="none"><rect width="685" height="651" fill="#f4f4f4"/><g filter="url(#emtex)"><path d="M40 10C48 -8 88 -18 110 -10C132 -2 150 35 170 60C190 85 218 117 230 140C242 163 245 185 240 200C235 215 215 227 200 230C185 233 167 232 150 220C133 208 115 180 100 160C85 140 70 125 60 100C50 75 32 28 40 10Z" fill="#9a9a9a" stroke="#2e2e2e" stroke-width="6"/><path d="M230 60C241 41 268 27 290 25C312 23 342 32 360 50C378 68 393 105 400 130C407 155 407 178 400 200C393 222 377 248 360 260C343 272 318 278 300 272C282 266 262 244 250 222C238 200 228 167 225 140C222 113 219 79 230 60Z" fill="#9d9d9d" stroke="#2e2e2e" stroke-width="6"/><path d="M395 -10C417 -20 506 -25 530 -10C554 5 542 55 540 80C538 105 533 128 520 140C507 152 477 155 460 150C443 145 430 127 420 110C410 93 404 70 400 50C396 30 373 0 395 -10Z" fill="#b2b2b2" stroke="#2e2e2e" stroke-width="6"/><path d="M620 60C628 38 648 34 660 30C672 26 685 -18 690 35C695 88 697 299 690 350C683 401 662 352 650 340C638 328 622 310 615 280C608 250 609 197 610 160C611 123 612 82 620 60Z" fill="#aaaaaa" stroke="#2e2e2e" stroke-width="6"/><path d="M-10 20C-2 -43 25 -3 40 10C55 23 65 72 80 100C95 128 117 153 130 180C143 207 160 233 160 260C160 287 142 318 130 340C118 362 105 380 90 390C75 400 57 400 40 400C23 400 -2 453 -10 390C-18 327 -18 83 -10 20Z" fill="#a0a0a0" stroke="#2e2e2e" stroke-width="6"/><path d="M110 360C115 343 125 314 140 300C155 286 173 280 200 275C227 270 272 268 300 270C328 272 350 280 370 290C390 300 408 312 420 330C432 348 440 378 440 400C440 422 430 440 420 460C410 480 395 502 380 520C365 538 352 560 330 570C308 580 275 578 250 577C225 576 198 573 180 562C162 551 150 530 140 510C130 490 132 453 120 440C108 427 80 435 70 430C60 425 53 415 60 410C67 405 102 408 110 400C118 392 105 377 110 360Z" fill="#a3a3a3" stroke="#2e2e2e" stroke-width="6"/><path d="M400 230C407 212 427 190 440 180C453 170 465 172 480 170C495 168 520 167 530 170C540 173 535 180 540 190C545 200 553 213 560 230C567 247 578 272 580 290C582 308 580 326 570 340C560 354 538 371 520 377C502 383 477 383 460 377C443 371 430 354 420 340C410 326 403 308 400 290C397 272 393 248 400 230Z" fill="#a0a0a0" stroke="#2e2e2e" stroke-width="6"/><path d="M340 560C347 537 362 530 380 520C398 510 427 505 450 500C473 495 500 488 520 490C540 492 558 497 570 510C582 523 588 545 590 570C592 595 622 645 580 660C538 675 380 677 340 660C300 643 333 583 340 560Z" fill="#adadad" stroke="#2e2e2e" stroke-width="6"/><path d="M-10 590C0 576 27 577 50 575C73 573 110 572 130 580C150 588 162 607 170 620C178 633 210 653 180 660C150 667 22 672 -10 660C-42 648 -20 604 -10 590Z" fill="#a0a0a0" stroke="#2e2e2e" stroke-width="6"/><path d="M640 590C650 575 682 558 690 570C698 582 700 645 690 660C680 675 638 672 630 660C622 648 630 605 640 590Z" fill="#a0a0a0" stroke="#2e2e2e" stroke-width="6"/><ellipse cx="20" cy="150" rx="15" ry="15" fill="#e6e6e6"/><ellipse cx="90" cy="235" rx="15" ry="18" fill="#e6e6e6"/><ellipse cx="80" cy="320" rx="15" ry="15" fill="#e6e6e6"/><circle cx="290" cy="90" r="12" fill="#080808"/><circle cx="300" cy="118" r="12" fill="#080808"/><circle cx="322" cy="150" r="12" fill="#080808"/><circle cx="342" cy="180" r="12" fill="#080808"/><circle cx="300" cy="205" r="12" fill="#080808"/><circle cx="332" cy="122" r="12" fill="#080808"/><circle cx="295" cy="160" r="12" fill="#080808"/><circle cx="350" cy="150" r="12" fill="#080808"/><circle cx="270" cy="185" r="12" fill="#080808"/><circle cx="210" cy="380" r="15" fill="#080808"/><circle cx="290" cy="370" r="12" fill="#080808"/><circle cx="345" cy="365" r="12" fill="#080808"/><circle cx="175" cy="425" r="15" fill="#080808"/><circle cx="200" cy="490" r="12" fill="#080808"/><circle cx="270" cy="520" r="12" fill="#080808"/><circle cx="320" cy="430" r="12" fill="#080808"/><circle cx="330" cy="500" r="12" fill="#080808"/><circle cx="240" cy="420" r="12" fill="#080808"/><circle cx="185" cy="515" r="12" fill="#080808"/><circle cx="260" cy="460" r="8" fill="#080808"/><circle cx="470" cy="210" r="12" fill="#080808"/><circle cx="485" cy="240" r="12" fill="#080808"/><circle cx="500" cy="290" r="12" fill="#080808"/><circle cx="520" cy="320" r="12" fill="#080808"/><circle cx="540" cy="320" r="12" fill="#080808"/><circle cx="430" cy="240" r="12" fill="#080808"/><circle cx="510" cy="345" r="12" fill="#080808"/><circle cx="440" cy="300" r="12" fill="#080808"/><circle cx="90" cy="85" r="10" fill="#0a0a0a"/><circle cx="160" cy="160" r="10" fill="#0a0a0a"/><circle cx="180" cy="190" r="10" fill="#0a0a0a"/><circle cx="135" cy="130" r="10" fill="#0a0a0a"/><circle cx="60" cy="190" r="10" fill="#0a0a0a"/><circle cx="60" cy="260" r="10" fill="#0a0a0a"/><circle cx="20" cy="270" r="10" fill="#0a0a0a"/><circle cx="545" cy="640" r="10" fill="#0a0a0a"/><circle cx="650" cy="140" r="10" fill="#0a0a0a"/><circle cx="650" cy="270" r="10" fill="#0a0a0a"/><rect x="35" y="602" width="155" height="14" fill="#000"/></g></svg><svg x="243" y="570.3" width="101.2" height="95.2" viewBox="0 0 685 651" preserveAspectRatio="none"><defs><linearGradient id="g12" x1="0" y1="0" x2="0" y2="1"><stop offset="0" stop-color="#f2f2f2"/><stop offset="1" stop-color="#e2e2e2"/></linearGradient></defs><rect width="685" height="651" fill="url(#g12)"/><g filter="url(#emtex)"><path d="M100 10C125 0 248 2 280 10C312 18 295 45 290 60C285 75 268 92 250 100C232 108 200 110 180 105C160 100 143 86 130 70C117 54 75 20 100 10Z" fill="#bcbcbc" stroke="#2e2e2e" stroke-width="6"/><path d="M480 -10C510 -23 655 -37 690 -10C725 17 702 124 690 150C678 176 642 150 620 145C598 140 578 132 560 120C542 108 523 92 510 70C497 48 450 3 480 -10Z" fill="#bdbdbd" stroke="#2e2e2e" stroke-width="6"/><path d="M590 200C600 183 623 168 640 160C657 152 682 112 690 150C698 188 698 350 690 390C682 430 655 400 640 390C625 380 610 352 600 330C590 308 582 282 580 260C578 238 580 217 590 200Z" fill="#b5b5b5" stroke="#2e2e2e" stroke-width="6"/><path d="M-10 240C2 176 38 237 60 245C82 253 102 271 120 290C138 309 159 333 170 360C181 387 187 417 185 450C183 483 172 532 160 560C148 588 130 608 110 620C90 632 60 630 40 632C20 634 -2 697 -10 632C-18 567 -22 304 -10 240Z" fill="#ababab" stroke="#2e2e2e" stroke-width="6"/><path d="M200 200C208 168 223 157 240 140C257 123 282 108 300 100C318 92 330 85 350 90C370 95 397 113 420 130C443 147 473 172 490 190C507 208 511 218 520 240C529 262 541 290 545 320C549 350 549 390 545 420C541 450 532 477 520 500C508 523 490 543 470 560C450 577 425 592 400 600C375 608 343 610 320 605C297 600 277 586 260 570C243 554 230 533 220 510C210 487 204 460 200 430C196 400 195 368 195 330C195 292 192 232 200 200Z" fill="#bababa" stroke="#2e2e2e" stroke-width="6"/><circle cx="370" cy="215" r="16" fill="#060606"/><circle cx="345" cy="245" r="9" fill="#060606"/><circle cx="475" cy="325" r="10" fill="#060606"/><circle cx="325" cy="350" r="9" fill="#060606"/><circle cx="300" cy="390" r="15" fill="#060606"/><circle cx="375" cy="405" r="17" fill="#060606"/><circle cx="415" cy="432" r="21" fill="#060606"/><circle cx="360" cy="545" r="9" fill="#060606"/><circle cx="200" cy="190" r="5" fill="#060606"/><ellipse cx="480" cy="272" rx="20" ry="22" fill="#6a6a6a"/><ellipse cx="412" cy="335" rx="14" ry="36" fill="#111" transform="rotate(-15 412 335)"/><ellipse cx="490" cy="425" rx="15" ry="28" fill="#060606"/><ellipse cx="305" cy="455" rx="40" ry="20" fill="#111" transform="rotate(-10 305 455)"/><ellipse cx="450" cy="375" rx="15" ry="20" fill="#777"/><ellipse cx="300" cy="305" rx="12" ry="12" fill="#f0f0f0"/><circle cx="30" cy="435" r="18" fill="#060606"/><circle cx="70" cy="430" r="16" fill="#060606"/><circle cx="98" cy="405" r="13" fill="#060606"/><circle cx="125" cy="432" r="14" fill="#060606"/><circle cx="15" cy="478" r="12" fill="#060606"/><circle cx="72" cy="483" r="16" fill="#060606"/><circle cx="112" cy="488" r="20" fill="#060606"/><circle cx="60" cy="520" r="14" fill="#060606"/><circle cx="88" cy="560" r="10" fill="#060606"/><circle cx="40" cy="560" r="10" fill="#060606"/><rect x="40" y="602" width="157" height="14" fill="#000"/></g></svg><svg x="39.4" y="667.2" width="99.9" height="94.8" viewBox="0 0 685 644" preserveAspectRatio="none"><rect width="685" height="644" fill="#e4e4e4"/><g filter="url(#emtex)"><ellipse cx="40" cy="110" rx="60" ry="75" fill="#8a8a8a" stroke="#2e2e2e" stroke-width="7"/><ellipse cx="160" cy="60" rx="60" ry="60" fill="#939393" stroke="#2e2e2e" stroke-width="7"/><ellipse cx="230" cy="10" rx="50" ry="25" fill="#7e7e7e" stroke="#2e2e2e" stroke-width="7"/><ellipse cx="350" cy="90" rx="70" ry="60" fill="#c4c4c4" stroke="#2e2e2e" stroke-width="7"/><ellipse cx="480" cy="70" rx="90" ry="70" fill="#8a8a8a" stroke="#2e2e2e" stroke-width="7"/><ellipse cx="640" cy="70" rx="40" ry="50" fill="#939393" stroke="#2e2e2e" stroke-width="7"/><ellipse cx="240" cy="180" rx="65" ry="60" fill="#7e7e7e" stroke="#2e2e2e" stroke-width="7"/><ellipse cx="150" cy="250" rx="60" ry="60" fill="#9c9c9c" stroke="#2e2e2e" stroke-width="7"/><ellipse cx="460" cy="210" rx="70" ry="65" fill="#8a8a8a" stroke="#2e2e2e" stroke-width="7"/><ellipse cx="600" cy="170" rx="70" ry="60" fill="#939393" stroke="#2e2e2e" stroke-width="7"/><ellipse cx="330" cy="280" rx="80" ry="65" fill="#7e7e7e" stroke="#2e2e2e" stroke-width="7"/><ellipse cx="560" cy="260" rx="55" ry="50" fill="#9c9c9c" stroke="#2e2e2e" stroke-width="7"/><ellipse cx="40" cy="310" rx="45" ry="55" fill="#8a8a8a" stroke="#2e2e2e" stroke-width="7"/><ellipse cx="140" cy="370" rx="60" ry="65" fill="#939393" stroke="#2e2e2e" stroke-width="7"/><ellipse cx="285" cy="410" rx="65" ry="70" fill="#7e7e7e" stroke="#2e2e2e" stroke-width="7"/><ellipse cx="460" cy="350" rx="40" ry="35" fill="#9c9c9c" stroke="#2e2e2e" stroke-width="7"/><ellipse cx="570" cy="355" rx="65" ry="55" fill="#8a8a8a" stroke="#2e2e2e" stroke-width="7"/><ellipse cx="660" cy="430" rx="30" ry="50" fill="#939393" stroke="#2e2e2e" stroke-width="7"/><ellipse cx="70" cy="420" rx="35" ry="30" fill="#7e7e7e" stroke="#2e2e2e" stroke-width="7"/><ellipse cx="480" cy="460" rx="75" ry="60" fill="#9c9c9c" stroke="#2e2e2e" stroke-width="7"/><ellipse cx="140" cy="500" rx="75" ry="65" fill="#8a8a8a" stroke="#2e2e2e" stroke-width="7"/><ellipse cx="265" cy="520" rx="40" ry="50" fill="#939393" stroke="#2e2e2e" stroke-width="7"/><ellipse cx="370" cy="530" rx="55" ry="65" fill="#7e7e7e" stroke="#2e2e2e" stroke-width="7"/><ellipse cx="615" cy="540" rx="70" ry="70" fill="#9c9c9c" stroke="#2e2e2e" stroke-width="7"/><ellipse cx="30" cy="560" rx="40" ry="70" fill="#8a8a8a" stroke="#2e2e2e" stroke-width="7"/><ellipse cx="230" cy="610" rx="70" ry="45" fill="#939393" stroke="#2e2e2e" stroke-width="7"/><ellipse cx="460" cy="600" rx="55" ry="45" fill="#7e7e7e" stroke="#2e2e2e" stroke-width="7"/><ellipse cx="370" cy="630" rx="40" ry="25" fill="#9c9c9c" stroke="#2e2e2e" stroke-width="7"/><circle cx="18" cy="85" r="8" fill="#080808"/><circle cx="47" cy="89" r="10" fill="#080808"/><circle cx="68" cy="81" r="6" fill="#080808"/><circle cx="21" cy="72" r="9" fill="#080808"/><circle cx="49" cy="163" r="10" fill="#080808"/><circle cx="59" cy="130" r="6" fill="#080808"/><circle cx="60" cy="63" r="10" fill="#080808"/><circle cx="11" cy="80" r="9" fill="#080808"/><circle cx="120" cy="41" r="9" fill="#080808"/><circle cx="143" cy="87" r="6" fill="#080808"/><circle cx="153" cy="23" r="8" fill="#080808"/><circle cx="183" cy="28" r="7" fill="#080808"/><circle cx="174" cy="67" r="6" fill="#080808"/><circle cx="149" cy="88" r="10" fill="#080808"/><circle cx="152" cy="101" r="9" fill="#080808"/><circle cx="244" cy="0" r="6" fill="#080808"/><circle cx="234" cy="0" r="6" fill="#080808"/><circle cx="239" cy="-4" r="7" fill="#080808"/><circle cx="472" cy="120" r="7" fill="#080808"/><circle cx="472" cy="51" r="10" fill="#080808"/><circle cx="515" cy="95" r="6" fill="#080808"/><circle cx="420" cy="55" r="6" fill="#080808"/><circle cx="471" cy="115" r="9" fill="#080808"/><circle cx="459" cy="108" r="8" fill="#080808"/><circle cx="503" cy="48" r="9" fill="#080808"/><circle cx="441" cy="35" r="7" fill="#080808"/><circle cx="471" cy="26" r="7" fill="#080808"/><circle cx="545" cy="78" r="9" fill="#080808"/><circle cx="496" cy="113" r="7" fill="#080808"/><circle cx="612" cy="76" r="8" fill="#080808"/><circle cx="636" cy="90" r="6" fill="#080808"/><circle cx="642" cy="89" r="6" fill="#080808"/><circle cx="658" cy="79" r="7" fill="#080808"/><circle cx="236" cy="136" r="7" fill="#080808"/><circle cx="208" cy="165" r="6" fill="#080808"/><circle cx="272" cy="209" r="8" fill="#080808"/><circle cx="244" cy="169" r="8" fill="#080808"/><circle cx="270" cy="148" r="6" fill="#080808"/><circle cx="210" cy="176" r="9" fill="#080808"/><circle cx="262" cy="190" r="10" fill="#080808"/><circle cx="120" cy="255" r="10" fill="#080808"/><circle cx="146" cy="258" r="7" fill="#080808"/><circle cx="157" cy="260" r="8" fill="#080808"/><circle cx="182" cy="240" r="9" fill="#080808"/><circle cx="134" cy="280" r="9" fill="#080808"/><circle cx="115" cy="228" r="8" fill="#080808"/><circle cx="160" cy="282" r="8" fill="#080808"/><circle cx="480" cy="243" r="10" fill="#080808"/><circle cx="485" cy="237" r="9" fill="#080808"/><circle cx="437" cy="224" r="7" fill="#080808"/><circle cx="417" cy="199" r="8" fill="#080808"/><circle cx="497" cy="237" r="10" fill="#080808"/><circle cx="481" cy="224" r="6" fill="#080808"/><circle cx="489" cy="172" r="6" fill="#080808"/><circle cx="448" cy="228" r="8" fill="#080808"/><circle cx="612" cy="164" r="6" fill="#080808"/><circle cx="562" cy="172" r="9" fill="#080808"/><circle cx="581" cy="176" r="7" fill="#080808"/><circle cx="645" cy="165" r="6" fill="#080808"/><circle cx="610" cy="146" r="9" fill="#080808"/><circle cx="648" cy="173" r="6" fill="#080808"/><circle cx="558" cy="180" r="8" fill="#080808"/><circle cx="609" cy="184" r="7" fill="#080808"/><circle cx="356" cy="287" r="6" fill="#080808"/><circle cx="295" cy="286" r="8" fill="#080808"/><circle cx="327" cy="288" r="7" fill="#080808"/><circle cx="330" cy="255" r="8" fill="#080808"/><circle cx="331" cy="248" r="10" fill="#080808"/><circle cx="359" cy="266" r="9" fill="#080808"/><circle cx="329" cy="298" r="8" fill="#080808"/><circle cx="283" cy="251" r="6" fill="#080808"/><circle cx="320" cy="247" r="6" fill="#080808"/><circle cx="593" cy="254" r="6" fill="#080808"/><circle cx="570" cy="253" r="6" fill="#080808"/><circle cx="540" cy="291" r="6" fill="#080808"/><circle cx="588" cy="245" r="6" fill="#080808"/><circle cx="534" cy="249" r="8" fill="#080808"/><circle cx="37" cy="276" r="10" fill="#080808"/><circle cx="56" cy="340" r="8" fill="#080808"/><circle cx="46" cy="271" r="10" fill="#080808"/><circle cx="37" cy="337" r="10" fill="#080808"/><circle cx="59" cy="301" r="10" fill="#080808"/><circle cx="117" cy="386" r="9" fill="#080808"/><circle cx="110" cy="375" r="7" fill="#080808"/><circle cx="124" cy="377" r="6" fill="#080808"/><circle cx="140" cy="333" r="9" fill="#080808"/><circle cx="146" cy="347" r="7" fill="#080808"/><circle cx="135" cy="396" r="9" fill="#080808"/><circle cx="122" cy="389" r="9" fill="#080808"/><circle cx="291" cy="425" r="9" fill="#080808"/><circle cx="286" cy="381" r="9" fill="#080808"/><circle cx="315" cy="417" r="8" fill="#080808"/><circle cx="284" cy="440" r="9" fill="#080808"/><circle cx="268" cy="398" r="9" fill="#080808"/><circle cx="327" cy="434" r="7" fill="#080808"/><circle cx="284" cy="433" r="10" fill="#080808"/><circle cx="276" cy="449" r="10" fill="#080808"/><circle cx="465" cy="348" r="8" fill="#080808"/><circle cx="439" cy="336" r="7" fill="#080808"/><circle cx="459" cy="351" r="6" fill="#080808"/><circle cx="452" cy="347" r="7" fill="#080808"/><circle cx="563" cy="364" r="6" fill="#080808"/><circle cx="598" cy="342" r="7" fill="#080808"/><circle cx="568" cy="351" r="7" fill="#080808"/><circle cx="614" cy="345" r="9" fill="#080808"/><circle cx="592" cy="367" r="6" fill="#080808"/><circle cx="571" cy="361" r="6" fill="#080808"/><circle cx="559" cy="345" r="6" fill="#080808"/><circle cx="670" cy="417" r="7" fill="#080808"/><circle cx="677" cy="447" r="9" fill="#080808"/><circle cx="643" cy="421" r="6" fill="#080808"/><circle cx="658" cy="458" r="10" fill="#080808"/><circle cx="78" cy="403" r="8" fill="#080808"/><circle cx="94" cy="422" r="6" fill="#080808"/><circle cx="85" cy="433" r="10" fill="#080808"/><circle cx="488" cy="430" r="6" fill="#080808"/><circle cx="530" cy="469" r="10" fill="#080808"/><circle cx="481" cy="501" r="8" fill="#080808"/><circle cx="464" cy="489" r="6" fill="#080808"/><circle cx="456" cy="467" r="9" fill="#080808"/><circle cx="427" cy="459" r="10" fill="#080808"/><circle cx="467" cy="481" r="10" fill="#080808"/><circle cx="462" cy="459" r="6" fill="#080808"/><circle cx="182" cy="497" r="6" fill="#080808"/><circle cx="100" cy="497" r="8" fill="#080808"/><circle cx="192" cy="485" r="6" fill="#080808"/><circle cx="160" cy="525" r="10" fill="#080808"/><circle cx="105" cy="470" r="8" fill="#080808"/><circle cx="152" cy="542" r="6" fill="#080808"/><circle cx="132" cy="479" r="8" fill="#080808"/><circle cx="180" cy="494" r="6" fill="#080808"/><circle cx="243" cy="533" r="6" fill="#080808"/><circle cx="264" cy="525" r="8" fill="#080808"/><circle cx="249" cy="538" r="7" fill="#080808"/><circle cx="258" cy="506" r="10" fill="#080808"/><circle cx="398" cy="521" r="8" fill="#080808"/><circle cx="384" cy="509" r="10" fill="#080808"/><circle cx="361" cy="570" r="7" fill="#080808"/><circle cx="338" cy="501" r="6" fill="#080808"/><circle cx="380" cy="496" r="7" fill="#080808"/><circle cx="363" cy="540" r="7" fill="#080808"/><circle cx="360" cy="519" r="9" fill="#080808"/><circle cx="665" cy="527" r="10" fill="#080808"/><circle cx="622" cy="519" r="10" fill="#080808"/><circle cx="629" cy="586" r="10" fill="#080808"/><circle cx="587" cy="513" r="7" fill="#080808"/><circle cx="586" cy="536" r="6" fill="#080808"/><circle cx="647" cy="573" r="10" fill="#080808"/><circle cx="618" cy="544" r="7" fill="#080808"/><circle cx="630" cy="557" r="8" fill="#080808"/><circle cx="584" cy="556" r="7" fill="#080808"/><circle cx="21" cy="535" r="7" fill="#080808"/><circle cx="2" cy="571" r="7" fill="#080808"/><circle cx="26" cy="531" r="10" fill="#080808"/><circle cx="13" cy="583" r="10" fill="#080808"/><circle cx="25" cy="545" r="6" fill="#080808"/><circle cx="35" cy="559" r="7" fill="#080808"/><circle cx="236" cy="608" r="6" fill="#080808"/><circle cx="233" cy="619" r="8" fill="#080808"/><circle cx="205" cy="599" r="6" fill="#080808"/><circle cx="247" cy="581" r="8" fill="#080808"/><circle cx="255" cy="628" r="9" fill="#080808"/><circle cx="186" cy="623" r="7" fill="#080808"/><circle cx="446" cy="599" r="8" fill="#080808"/><circle cx="463" cy="571" r="7" fill="#080808"/><circle cx="494" cy="598" r="8" fill="#080808"/><circle cx="428" cy="615" r="6" fill="#080808"/><circle cx="437" cy="577" r="8" fill="#080808"/><circle cx="384" cy="620" r="8" fill="#080808"/><circle cx="363" cy="647" r="7" fill="#080808"/><circle cx="363" cy="618" r="10" fill="#080808"/><rect x="40" y="598" width="120" height="14" fill="#000"/></g></svg><svg x="141" y="667.2" width="100.5" height="94.8" viewBox="0 0 685 644" preserveAspectRatio="none"><rect width="685" height="644" fill="#e8e8e8"/><g filter="url(#emtex)"><path d="M-10 -10C32 -22 199 -22 240 -10C281 2 242 42 235 60C228 78 216 90 200 100C184 110 162 118 140 120C118 122 90 120 70 115C50 110 33 99 20 90C7 81 -5 77 -10 60C-15 43 -52 2 -10 -10Z" fill="#8e8e8e" stroke="#2e2e2e" stroke-width="6"/><circle cx="30" cy="20" r="16" fill="#080808"/><circle cx="60" cy="70" r="16" fill="#080808"/><circle cx="100" cy="45" r="16" fill="#080808"/><circle cx="175" cy="70" r="16" fill="#080808"/><circle cx="205" cy="35" r="14" fill="#080808"/><circle cx="130" cy="80" r="10" fill="#080808"/><path d="M30 185 Q60 160 110 165" stroke="#6a6a6a" stroke-width="14" fill="none"/><path d="M320 145 Q345 120 365 85" stroke="#6a6a6a" stroke-width="16" fill="none"/><path d="M190 355 Q240 380 300 375" stroke="#6a6a6a" stroke-width="14" fill="none"/><path d="M90 180C98 163 118 148 140 140C162 132 193 131 220 130C247 129 280 132 300 135C320 138 332 139 340 150C348 161 352 182 350 200C348 218 342 243 330 260C318 277 302 292 280 300C258 308 225 312 200 310C175 308 148 302 130 290C112 278 102 258 95 240C88 222 82 197 90 180Z" fill="#9d9d9d" stroke="#2e2e2e" stroke-width="6"/><path d="M530 20C535 8 553 -5 580 -10C607 -15 672 -30 690 -10C708 10 702 95 690 110C678 125 643 88 620 80C597 72 565 70 550 60C535 50 525 32 530 20Z" fill="#a0a0a0" stroke="#2e2e2e" stroke-width="6"/><path d="M400 100C405 80 420 60 440 50C460 40 500 38 520 40C540 42 543 53 560 60C577 67 603 70 620 80C637 90 650 103 660 120C670 137 680 160 680 180C680 200 672 225 660 240C648 255 627 262 610 270C593 278 580 288 560 290C540 292 510 290 490 280C470 270 453 248 440 230C427 212 417 192 410 170C403 148 395 120 400 100Z" fill="#b3b3b3" stroke="#2e2e2e" stroke-width="6"/><circle cx="460" cy="135" r="15" fill="#0a0a0a"/><circle cx="530" cy="175" r="18" fill="#0a0a0a"/><circle cx="540" cy="100" r="10" fill="#0a0a0a"/><path d="M280 340C292 323 317 299 340 290C363 281 393 282 420 285C447 288 477 298 500 310C523 322 545 340 560 360C575 380 587 407 590 430C593 453 588 478 580 500C572 522 558 543 540 560C522 577 493 590 470 600C447 610 423 620 400 620C377 620 348 613 330 600C312 587 298 562 290 540C282 518 283 495 280 470C277 445 270 412 270 390C270 368 268 357 280 340Z" fill="#8f8f8f" stroke="#2e2e2e" stroke-width="6"/><circle cx="446" cy="444" r="14" fill="#080808"/><circle cx="409" cy="433" r="11" fill="#080808"/><circle cx="498" cy="472" r="10" fill="#080808"/><circle cx="393" cy="489" r="12" fill="#080808"/><circle cx="471" cy="365" r="10" fill="#080808"/><circle cx="423" cy="446" r="11" fill="#080808"/><circle cx="462" cy="441" r="14" fill="#080808"/><circle cx="399" cy="406" r="13" fill="#080808"/><circle cx="407" cy="539" r="9" fill="#080808"/><circle cx="491" cy="507" r="11" fill="#080808"/><circle cx="471" cy="505" r="10" fill="#080808"/><circle cx="349" cy="424" r="14" fill="#080808"/><circle cx="499" cy="477" r="14" fill="#080808"/><circle cx="347" cy="471" r="9" fill="#080808"/><circle cx="482" cy="396" r="14" fill="#080808"/><circle cx="451" cy="361" r="9" fill="#080808"/><circle cx="420" cy="407" r="10" fill="#080808"/><circle cx="396" cy="516" r="12" fill="#080808"/><circle cx="439" cy="445" r="10" fill="#080808"/><circle cx="372" cy="517" r="12" fill="#080808"/><circle cx="345" cy="443" r="12" fill="#080808"/><circle cx="422" cy="477" r="11" fill="#080808"/><ellipse cx="405" cy="540" rx="25" ry="20" fill="#ececec"/><path d="M-10 340C2 302 40 340 60 350C80 360 98 382 110 400C122 418 130 438 130 460C130 482 122 512 110 530C98 548 80 562 60 570C40 578 2 618 -10 580C-22 542 -22 378 -10 340Z" fill="#a8a8a8" stroke="#2e2e2e" stroke-width="6"/><circle cx="5" cy="405" r="14" fill="#080808"/><circle cx="35" cy="470" r="16" fill="#080808"/><circle cx="45" cy="430" r="10" fill="#080808"/><path d="M50 580C58 562 75 556 100 550C125 544 170 542 200 545C230 548 258 558 280 570C302 582 322 605 330 620C338 635 377 653 330 660C283 667 97 673 50 660C3 647 42 598 50 580Z" fill="#9c9c9c" stroke="#2e2e2e" stroke-width="6"/><ellipse cx="262" cy="625" rx="30" ry="25" fill="#111"/><path d="M510 600C527 588 570 588 600 590C630 592 675 598 690 610C705 622 722 652 690 660C658 668 530 670 500 660C470 650 493 612 510 600Z" fill="#9a9a9a" stroke="#2e2e2e" stroke-width="6"/><ellipse cx="628" cy="335" rx="15" ry="20" fill="#999" stroke="#2e2e2e" stroke-width="6"/><ellipse cx="655" cy="465" rx="20" ry="20" fill="#aaa" stroke="#2e2e2e" stroke-width="6"/><ellipse cx="300" cy="92" rx="10" ry="10" fill="#777" stroke="#2e2e2e" stroke-width="6"/><ellipse cx="625" cy="545" rx="10" ry="12" fill="#bbb" stroke="#2e2e2e" stroke-width="6"/><path d="M290 -10C305 -14 375 -14 390 -10C405 -6 395 8 380 12C365 16 315 16 300 12C285 8 275 -6 290 -10Z" fill="#999" stroke="#2e2e2e" stroke-width="6"/><rect x="40" y="600" width="152" height="14" fill="#000"/></g></svg><svg x="243" y="667.2" width="101.2" height="94.8" viewBox="0 0 685 644" preserveAspectRatio="none"><rect width="685" height="644" fill="#e6e6e6"/><g filter="url(#emtex)"><path d="M240 -10C285 -20 477 -18 520 -10C563 -2 510 27 500 40C490 53 477 63 460 70C443 77 427 79 400 80C373 81 325 80 300 75C275 70 260 64 250 50C240 36 195 0 240 -10Z" fill="#9c9c9c" stroke="#2e2e2e" stroke-width="6"/><path d="M-10 -10C2 -33 48 -22 60 -10C72 2 63 40 60 60C57 80 52 98 40 110C28 122 -2 150 -10 130C-18 110 -22 13 -10 -10Z" fill="#ababab" stroke="#2e2e2e" stroke-width="6"/><path d="M70 -10C85 -15 154 -14 170 -10C186 -6 180 10 165 15C150 20 96 24 80 20C64 16 55 -5 70 -10Z" fill="#d0d0d0" stroke="#2e2e2e" stroke-width="6"/><path d="M600 180C608 162 635 157 650 150C665 143 683 92 690 140C697 188 695 397 690 440C685 483 668 418 660 400C652 382 650 353 640 330C630 307 607 285 600 260C593 235 592 198 600 180Z" fill="#9c9c9c" stroke="#2e2e2e" stroke-width="6"/><path d="M660 40C664 22 685 13 690 30C695 47 694 122 690 140C686 158 670 157 665 140C660 123 656 58 660 40Z" fill="#777" stroke="#2e2e2e" stroke-width="6"/><ellipse cx="557" cy="105" rx="12" ry="45" fill="#666"/><path d="M160 190C172 172 208 168 230 160C252 152 270 145 290 140C310 135 328 127 350 130C372 133 400 148 420 160C440 172 457 187 470 200C483 213 492 223 500 240C508 257 517 277 520 300C523 323 523 355 520 380C517 405 510 430 500 450C490 470 473 485 460 500C447 515 437 528 420 540C403 552 382 565 360 570C338 575 312 573 290 570C268 567 247 562 230 550C213 538 201 520 190 500C179 480 172 455 165 430C158 405 152 377 150 350C148 323 153 297 155 270C157 243 148 208 160 190Z" fill="#929292" stroke="#2e2e2e" stroke-width="6"/><circle cx="205" cy="238" r="18" fill="#060606"/><circle cx="275" cy="255" r="18" fill="#060606"/><circle cx="340" cy="215" r="18" fill="#060606"/><circle cx="435" cy="210" r="18" fill="#060606"/><circle cx="350" cy="250" r="18" fill="#060606"/><circle cx="370" cy="290" r="18" fill="#060606"/><circle cx="420" cy="250" r="18" fill="#060606"/><circle cx="245" cy="325" r="18" fill="#060606"/><circle cx="355" cy="325" r="18" fill="#060606"/><circle cx="270" cy="355" r="18" fill="#060606"/><circle cx="300" cy="370" r="18" fill="#060606"/><circle cx="345" cy="380" r="18" fill="#060606"/><circle cx="460" cy="375" r="18" fill="#060606"/><circle cx="500" cy="355" r="18" fill="#060606"/><circle cx="210" cy="430" r="18" fill="#060606"/><circle cx="290" cy="455" r="18" fill="#060606"/><circle cx="380" cy="455" r="18" fill="#060606"/><circle cx="440" cy="430" r="18" fill="#060606"/><circle cx="390" cy="490" r="18" fill="#060606"/><circle cx="315" cy="505" r="18" fill="#060606"/><circle cx="395" cy="410" r="18" fill="#060606"/><circle cx="230" cy="250" r="18" fill="#060606"/><circle cx="320" cy="290" r="18" fill="#060606"/><circle cx="300" cy="230" r="18" fill="#060606"/><circle cx="255" cy="270" r="18" fill="#060606"/><circle cx="215" cy="300" r="18" fill="#060606"/><circle cx="400" cy="330" r="18" fill="#060606"/><circle cx="430" cy="300" r="18" fill="#060606"/><circle cx="330" cy="420" r="18" fill="#060606"/><circle cx="260" cy="410" r="18" fill="#060606"/><circle cx="470" cy="460" r="18" fill="#060606"/><circle cx="350" cy="520" r="18" fill="#060606"/><circle cx="420" cy="200" r="18" fill="#060606"/><circle cx="380" cy="180" r="18" fill="#060606"/><ellipse cx="265" cy="495" rx="22" ry="22" fill="#dcdcdc"/><path d="M-10 580C-3 570 22 578 30 590C38 602 47 640 40 650C33 660 -2 662 -10 650C-18 638 -17 590 -10 580Z" fill="#b0b0b0" stroke="#2e2e2e" stroke-width="6"/><path d="M620 560C628 542 678 525 690 540C702 555 698 632 690 650C682 668 652 665 640 650C628 635 612 578 620 560Z" fill="#d8d8d8" stroke="#2e2e2e" stroke-width="6"/><ellipse cx="315" cy="100" rx="10" ry="12" fill="#777"/><rect x="42" y="600" width="155" height="14" fill="#000"/></g></svg>
<text x="34.8" y="518.3" font-size="7.1" text-anchor="end" fill="#111">nMG</text>
<text x="34.3" y="620.0" font-size="7.1" text-anchor="end" fill="#111">HC</text>
<text x="34.8" y="715.5" font-size="7.1" text-anchor="end" fill="#111">MMS</text>
<text x="367.2" y="482.3" font-size="15" font-weight="bold">j</text>
<rect x="437.1" y="539.5" width="14.4" height="83.1" fill="#a00000" stroke="#222" stroke-width="0.6"/>
<rect x="459.2" y="579.5" width="14.4" height="43.1" fill="#8080ff" stroke="#222" stroke-width="0.6"/>
<rect x="481.4" y="578.5" width="14.4" height="44.1" fill="#ffd09c" stroke="#222" stroke-width="0.6"/>
<line x1="444.3" y1="550.4" x2="444.3" y2="528.9" stroke="#111" stroke-width="0.9"/>
<line x1="440.7" y1="528.9" x2="447.9" y2="528.9" stroke="#111" stroke-width="0.9"/>
<line x1="440.7" y1="550.4" x2="447.9" y2="550.4" stroke="#111" stroke-width="0.9"/>
<line x1="466.4" y1="585.1" x2="466.4" y2="572.9" stroke="#111" stroke-width="0.9"/>
<line x1="462.8" y1="572.9" x2="470.0" y2="572.9" stroke="#111" stroke-width="0.9"/>
<line x1="462.8" y1="585.1" x2="470.0" y2="585.1" stroke="#111" stroke-width="0.9"/>
<line x1="488.6" y1="587.5" x2="488.6" y2="568.8" stroke="#111" stroke-width="0.9"/>
<line x1="485.0" y1="568.8" x2="492.2" y2="568.8" stroke="#111" stroke-width="0.9"/>
<line x1="485.0" y1="587.5" x2="492.2" y2="587.5" stroke="#111" stroke-width="0.9"/>
<circle cx="440.3" cy="522.4" r="1.60" fill="#000"/>
<circle cx="447.4" cy="520.3" r="1.60" fill="#000"/>
<circle cx="440.3" cy="557.6" r="1.60" fill="#000"/>
<circle cx="447.4" cy="557.6" r="1.60" fill="#000"/>
<circle cx="462.6" cy="573.6" r="1.60" fill="#000"/>
<circle cx="469.6" cy="571.5" r="1.60" fill="#000"/>
<circle cx="469.6" cy="574.5" r="1.60" fill="#000"/>
<circle cx="466.5" cy="597.7" r="1.60" fill="#000"/>
<circle cx="488.8" cy="558.4" r="1.60" fill="#000"/>
<circle cx="488.8" cy="572.8" r="1.60" fill="#000"/>
<circle cx="488.8" cy="579.4" r="1.60" fill="#000"/>
<circle cx="488.8" cy="603.0" r="1.60" fill="#000"/>
<line x1="429.8" y1="509.4" x2="429.8" y2="623.1" stroke="#000" stroke-width="1.1"/>
<line x1="424.8" y1="622.6" x2="429.8" y2="622.6" stroke="#000" stroke-width="1.1"/>
<text x="424.0" y="625.2" font-size="7.2" font-weight="bold" text-anchor="end">0.0</text>
<line x1="424.8" y1="585.1" x2="429.8" y2="585.1" stroke="#000" stroke-width="1.1"/>
<text x="424.0" y="587.7" font-size="7.2" font-weight="bold" text-anchor="end">0.2</text>
<line x1="424.8" y1="547.6" x2="429.8" y2="547.6" stroke="#000" stroke-width="1.1"/>
<text x="424.0" y="550.2" font-size="7.2" font-weight="bold" text-anchor="end">0.4</text>
<line x1="424.8" y1="510.1" x2="429.8" y2="510.1" stroke="#000" stroke-width="1.1"/>
<text x="424.0" y="512.7" font-size="7.2" font-weight="bold" text-anchor="end">0.6</text>
<line x1="429.3" y1="622.6" x2="504.5" y2="622.6" stroke="#000" stroke-width="1.1"/>
<line x1="444.3" y1="622.6" x2="444.3" y2="627.6" stroke="#000" stroke-width="1.1"/>
<line x1="466.4" y1="622.6" x2="466.4" y2="627.6" stroke="#000" stroke-width="1.1"/>
<line x1="488.6" y1="622.6" x2="488.6" y2="627.6" stroke="#000" stroke-width="1.1"/>
<text x="406.5" y="565.5" font-size="9.1" font-weight="bold" text-anchor="middle" transform="rotate(-90 406.5 565.5)">Non-discoid platelet (%)</text>
<text x="445.8" y="631.5" font-size="8.2" font-weight="bold" text-anchor="end" transform="rotate(-45 445.8 631.5)">nMG</text>
<text x="467.9" y="631.5" font-size="8.2" font-weight="bold" text-anchor="end" transform="rotate(-45 467.9 631.5)">HC</text>
<text x="490.1" y="631.5" font-size="8.2" font-weight="bold" text-anchor="end" transform="rotate(-45 490.1 631.5)">MMS</text>
<polyline points="444.2,509.9 444.2,506.7 466.5,506.7 466.5,565.0" fill="none" stroke="#000" stroke-width="0.7"/>
<text x="455.4" y="506.0" font-size="7.5" font-weight="bold" text-anchor="middle">*</text>
<polyline points="444.2,500.7 444.2,488.9 488.8,488.9 488.8,554.4" fill="none" stroke="#000" stroke-width="0.7"/>
<text x="466.5" y="488.0" font-size="7.5" font-weight="bold" text-anchor="middle">*</text>
<text x="532.2" y="482.6" font-size="15" font-weight="bold">k</text>
<rect x="599.6" y="550.3" width="14.4" height="69.7" fill="#a00000" stroke="#222" stroke-width="0.6"/>
<rect x="623.5" y="577.2" width="14.4" height="42.8" fill="#8080ff" stroke="#222" stroke-width="0.6"/>
<rect x="647.1" y="556.6" width="14.4" height="63.4" fill="#ffd09c" stroke="#222" stroke-width="0.6"/>
<line x1="606.8" y1="558.2" x2="606.8" y2="542.4" stroke="#111" stroke-width="0.9"/>
<line x1="603.2" y1="542.4" x2="610.4" y2="542.4" stroke="#111" stroke-width="0.9"/>
<line x1="603.2" y1="558.2" x2="610.4" y2="558.2" stroke="#111" stroke-width="0.9"/>
<line x1="630.7" y1="584.4" x2="630.7" y2="570.1" stroke="#111" stroke-width="0.9"/>
<line x1="627.1" y1="570.1" x2="634.3" y2="570.1" stroke="#111" stroke-width="0.9"/>
<line x1="627.1" y1="584.4" x2="634.3" y2="584.4" stroke="#111" stroke-width="0.9"/>
<line x1="654.3" y1="562.2" x2="654.3" y2="551.1" stroke="#111" stroke-width="0.9"/>
<line x1="650.7" y1="551.1" x2="657.9" y2="551.1" stroke="#111" stroke-width="0.9"/>
<line x1="650.7" y1="562.2" x2="657.9" y2="562.2" stroke="#111" stroke-width="0.9"/>
<circle cx="606.6" cy="529.0" r="1.60" fill="#000"/>
<circle cx="606.6" cy="549.2" r="1.60" fill="#000"/>
<circle cx="606.6" cy="553.0" r="1.60" fill="#000"/>
<circle cx="606.6" cy="567.0" r="1.60" fill="#000"/>
<circle cx="630.7" cy="561.0" r="1.60" fill="#000"/>
<circle cx="627.0" cy="575.4" r="1.60" fill="#000"/>
<circle cx="634.0" cy="576.7" r="1.60" fill="#000"/>
<circle cx="630.7" cy="595.9" r="1.60" fill="#000"/>
<circle cx="650.4" cy="549.2" r="1.60" fill="#000"/>
<circle cx="657.7" cy="546.6" r="1.60" fill="#000"/>
<circle cx="650.4" cy="565.0" r="1.60" fill="#000"/>
<circle cx="657.7" cy="565.0" r="1.60" fill="#000"/>
<line x1="590.8" y1="500.7" x2="590.8" y2="620.5" stroke="#000" stroke-width="1.1"/>
<line x1="585.8" y1="620.0" x2="590.8" y2="620.0" stroke="#000" stroke-width="1.1"/>
<text x="585.0" y="622.6" font-size="7.2" font-weight="bold" text-anchor="end">0.0</text>
<line x1="585.8" y1="580.4" x2="590.8" y2="580.4" stroke="#000" stroke-width="1.1"/>
<text x="585.0" y="583.0" font-size="7.2" font-weight="bold" text-anchor="end">0.5</text>
<line x1="585.8" y1="540.8" x2="590.8" y2="540.8" stroke="#000" stroke-width="1.1"/>
<text x="585.0" y="543.4" font-size="7.2" font-weight="bold" text-anchor="end">1.0</text>
<line x1="585.8" y1="501.2" x2="590.8" y2="501.2" stroke="#000" stroke-width="1.1"/>
<text x="585.0" y="503.8" font-size="7.2" font-weight="bold" text-anchor="end">1.5</text>
<line x1="590.3" y1="620.0" x2="670.8" y2="620.0" stroke="#000" stroke-width="1.1"/>
<line x1="606.8" y1="620.0" x2="606.8" y2="625.0" stroke="#000" stroke-width="1.1"/>
<line x1="630.7" y1="620.0" x2="630.7" y2="625.0" stroke="#000" stroke-width="1.1"/>
<line x1="654.3" y1="620.0" x2="654.3" y2="625.0" stroke="#000" stroke-width="1.1"/>
<text x="567.0" y="557.5" font-size="9.3" font-weight="bold" text-anchor="middle" transform="rotate(-90 567.0 557.5)">PMPs per Platelet Count</text>
<text x="608.3" y="629.0" font-size="8.2" font-weight="bold" text-anchor="end" transform="rotate(-45 608.3 629.0)">nMG</text>
<text x="632.2" y="629.0" font-size="8.2" font-weight="bold" text-anchor="end" transform="rotate(-45 632.2 629.0)">HC</text>
<text x="655.8" y="629.0" font-size="8.2" font-weight="bold" text-anchor="end" transform="rotate(-45 655.8 629.0)">MMS</text>
<polyline points="606.6,523.0 606.6,514.6 630.2,514.6 630.2,554.4" fill="none" stroke="#000" stroke-width="0.7"/>
<text x="618.4" y="513.8" font-size="7.5" font-weight="bold" text-anchor="middle">*</text>
</svg></body></html>
